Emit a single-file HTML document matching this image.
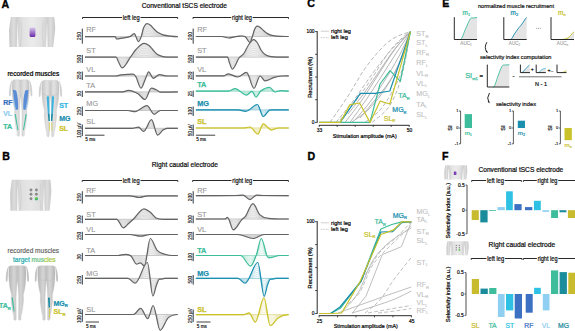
<!DOCTYPE html><html><head><meta charset="utf-8"><style>html,body{margin:0;padding:0;background:#fff;overflow:hidden}svg{display:block}</style></head><body>
<svg width="575" height="331" viewBox="0 0 575 331" font-family="Liberation Sans, sans-serif">
<defs><linearGradient id="bodyg" x1="0" y1="0" x2="1" y2="0"><stop offset="0" stop-color="#cfcfcf"/><stop offset="0.5" stop-color="#ececec"/><stop offset="1" stop-color="#cfcfcf"/></linearGradient><linearGradient id="purp" x1="0" y1="0" x2="0" y2="1"><stop offset="0" stop-color="#d8c8ec"/><stop offset="1" stop-color="#6a2aa8"/></linearGradient><linearGradient id="legg" x1="0" y1="0" x2="1" y2="0"><stop offset="0" stop-color="#c4c4c4"/><stop offset="0.3" stop-color="#e2e2e2"/><stop offset="0.5" stop-color="#cccccc"/><stop offset="0.7" stop-color="#e2e2e2"/><stop offset="1" stop-color="#c4c4c4"/></linearGradient><linearGradient id="legg2" x1="0" y1="0" x2="1" y2="0"><stop offset="0" stop-color="#b4b4b4"/><stop offset="0.3" stop-color="#d6d6d6"/><stop offset="0.5" stop-color="#c0c0c0"/><stop offset="0.7" stop-color="#d6d6d6"/><stop offset="1" stop-color="#b4b4b4"/></linearGradient><linearGradient id="torsog" x1="0" y1="0" x2="1" y2="0"><stop offset="0" stop-color="#c6c6c6"/><stop offset="0.1" stop-color="#dedede"/><stop offset="0.16" stop-color="#cfcfcf"/><stop offset="0.3" stop-color="#e2e2e2"/><stop offset="0.5" stop-color="#ebebeb"/><stop offset="0.7" stop-color="#e2e2e2"/><stop offset="0.84" stop-color="#cfcfcf"/><stop offset="0.9" stop-color="#dedede"/><stop offset="1" stop-color="#c6c6c6"/></linearGradient><linearGradient id="torsog2" x1="0" y1="0" x2="1" y2="0"><stop offset="0" stop-color="#c8c8c8"/><stop offset="0.1" stop-color="#dddddd"/><stop offset="0.16" stop-color="#d0d0d0"/><stop offset="0.3" stop-color="#e0e0e0"/><stop offset="0.5" stop-color="#e6e6e6"/><stop offset="0.7" stop-color="#e0e0e0"/><stop offset="0.84" stop-color="#d0d0d0"/><stop offset="0.9" stop-color="#dddddd"/><stop offset="1" stop-color="#c8c8c8"/></linearGradient></defs>
<text x="1.40" y="7.50" font-size="10.60" fill="#000" text-anchor="start" font-weight="bold"  stroke="#000" stroke-width="0.36">A</text>
<text x="2.30" y="159.70" font-size="10.60" fill="#000" text-anchor="start" font-weight="bold"  stroke="#000" stroke-width="0.36">B</text>
<text x="307.20" y="7.40" font-size="10.60" fill="#000" text-anchor="start" font-weight="bold"  stroke="#000" stroke-width="0.36">C</text>
<text x="307.40" y="159.70" font-size="10.60" fill="#000" text-anchor="start" font-weight="bold"  stroke="#000" stroke-width="0.36">D</text>
<text x="442.20" y="7.40" font-size="10.60" fill="#000" text-anchor="start" font-weight="bold"  stroke="#000" stroke-width="0.36">E</text>
<text x="441.90" y="159.70" font-size="10.60" fill="#000" text-anchor="start" font-weight="bold"  stroke="#000" stroke-width="0.36">F</text>
<text x="184.35" y="7.50" font-size="7.10" fill="#111" text-anchor="middle" font-weight="normal" textLength="85.3" lengthAdjust="spacingAndGlyphs" stroke="#111" stroke-width="0.24">Conventional tSCS electrode</text>
<text x="184.85" y="167.40" font-size="7.10" fill="#111" text-anchor="middle" font-weight="normal" textLength="66.1" lengthAdjust="spacingAndGlyphs" stroke="#111" stroke-width="0.24">Right caudal electrode</text>
<path d="M85.00,36.60 C95.07,36.60 105.13,36.60 115.20,36.60 C115.63,36.60 116.07,39.00 116.50,39.00 C118.33,39.00 120.17,38.54 122.00,38.20 C124.80,37.68 127.60,37.46 130.40,36.40 C131.67,35.92 132.93,33.60 134.20,33.60 C135.63,33.60 137.07,41.70 138.50,41.70 C139.43,41.70 140.37,39.06 141.30,36.50 C142.03,34.49 142.77,29.66 143.50,28.00 C144.67,25.36 145.83,23.60 147.00,23.60 C148.17,23.60 149.33,24.30 150.50,25.20 C151.67,26.10 152.83,27.85 154.00,29.00 C155.33,30.32 156.67,31.73 158.00,32.60 C159.67,33.69 161.33,34.41 163.00,34.90 C165.33,35.58 167.67,35.83 170.00,36.10 C172.60,36.40 175.20,36.60 177.80,36.60 Z" fill="#f2f2f2" stroke="none"/>
<path d="M85.00,36.60 C95.07,36.60 105.13,36.60 115.20,36.60 C115.63,36.60 116.07,36.91 116.50,36.91 C118.33,36.91 120.17,36.85 122.00,36.81 C124.80,36.74 127.60,36.71 130.40,36.57 C131.67,36.51 132.93,36.21 134.20,36.21 C135.63,36.21 137.07,37.26 138.50,37.26 C139.43,37.26 140.37,36.92 141.30,36.59 C142.03,36.33 142.77,35.70 143.50,35.48 C144.67,35.14 145.83,34.91 147.00,34.91 C148.17,34.91 149.33,35.00 150.50,35.12 C151.67,35.23 152.83,35.46 154.00,35.61 C155.33,35.78 156.67,35.97 158.00,36.08 C159.67,36.22 161.33,36.32 163.00,36.38 C165.33,36.47 167.67,36.50 170.00,36.54 C172.60,36.57 175.20,36.60 177.80,36.60" fill="none" stroke="#c8c8c8" stroke-width="0.5"/>
<path d="M85.00,36.60 C95.07,36.60 105.13,36.60 115.20,36.60 C115.63,36.60 116.07,37.22 116.50,37.22 C118.33,37.22 120.17,37.11 122.00,37.02 C124.80,36.88 127.60,36.82 130.40,36.55 C131.67,36.42 132.93,35.82 134.20,35.82 C135.63,35.82 137.07,37.93 138.50,37.93 C139.43,37.93 140.37,37.24 141.30,36.57 C142.03,36.05 142.77,34.80 143.50,34.36 C144.67,33.68 145.83,33.22 147.00,33.22 C148.17,33.22 149.33,33.40 150.50,33.64 C151.67,33.87 152.83,34.32 154.00,34.62 C155.33,34.97 156.67,35.33 158.00,35.56 C159.67,35.84 161.33,36.03 163.00,36.16 C165.33,36.33 167.67,36.40 170.00,36.47 C172.60,36.55 175.20,36.60 177.80,36.60" fill="none" stroke="#c8c8c8" stroke-width="0.5"/>
<path d="M85.00,36.60 C95.07,36.60 105.13,36.60 115.20,36.60 C115.63,36.60 116.07,37.54 116.50,37.54 C118.33,37.54 120.17,37.36 122.00,37.22 C124.80,37.02 127.60,36.93 130.40,36.52 C131.67,36.34 132.93,35.43 134.20,35.43 C135.63,35.43 137.07,38.59 138.50,38.59 C139.43,38.59 140.37,37.56 141.30,36.56 C142.03,35.78 142.77,33.89 143.50,33.25 C144.67,32.22 145.83,31.53 147.00,31.53 C148.17,31.53 149.33,31.80 150.50,32.15 C151.67,32.51 152.83,33.19 154.00,33.64 C155.33,34.15 156.67,34.70 158.00,35.04 C159.67,35.47 161.33,35.75 163.00,35.94 C165.33,36.20 167.67,36.30 170.00,36.41 C172.60,36.52 175.20,36.60 177.80,36.60" fill="none" stroke="#c8c8c8" stroke-width="0.5"/>
<path d="M85.00,36.60 C95.07,36.60 105.13,36.60 115.20,36.60 C115.63,36.60 116.07,37.85 116.50,37.85 C118.33,37.85 120.17,37.61 122.00,37.43 C124.80,37.16 127.60,37.04 130.40,36.50 C131.67,36.25 132.93,35.04 134.20,35.04 C135.63,35.04 137.07,39.25 138.50,39.25 C139.43,39.25 140.37,37.88 141.30,36.55 C142.03,35.50 142.77,32.99 143.50,32.13 C144.67,30.76 145.83,29.84 147.00,29.84 C148.17,29.84 149.33,30.20 150.50,30.67 C151.67,31.14 152.83,32.05 154.00,32.65 C155.33,33.33 156.67,34.07 158.00,34.52 C159.67,35.09 161.33,35.46 163.00,35.72 C165.33,36.07 167.67,36.20 170.00,36.34 C172.60,36.50 175.20,36.60 177.80,36.60" fill="none" stroke="#c8c8c8" stroke-width="0.5"/>
<path d="M85.00,36.60 C95.07,36.60 105.13,36.60 115.20,36.60 C115.63,36.60 116.07,38.16 116.50,38.16 C118.33,38.16 120.17,37.86 122.00,37.64 C124.80,37.30 127.60,37.16 130.40,36.47 C131.67,36.16 132.93,34.65 134.20,34.65 C135.63,34.65 137.07,39.91 138.50,39.91 C139.43,39.91 140.37,38.20 141.30,36.54 C142.03,35.23 142.77,32.09 143.50,31.01 C144.67,29.29 145.83,28.15 147.00,28.15 C148.17,28.15 149.33,28.60 150.50,29.19 C151.67,29.77 152.83,30.91 154.00,31.66 C155.33,32.52 156.67,33.43 158.00,34.00 C159.67,34.71 161.33,35.18 163.00,35.49 C165.33,35.94 167.67,36.10 170.00,36.27 C172.60,36.47 175.20,36.60 177.80,36.60" fill="none" stroke="#c8c8c8" stroke-width="0.5"/>
<path d="M85.00,36.60 C95.07,36.60 105.13,36.60 115.20,36.60 C115.63,36.60 116.07,38.47 116.50,38.47 C118.33,38.47 120.17,38.12 122.00,37.85 C124.80,37.44 127.60,37.27 130.40,36.44 C131.67,36.07 132.93,34.26 134.20,34.26 C135.63,34.26 137.07,40.58 138.50,40.58 C139.43,40.58 140.37,38.52 141.30,36.52 C142.03,34.95 142.77,31.19 143.50,29.89 C144.67,27.83 145.83,26.46 147.00,26.46 C148.17,26.46 149.33,27.01 150.50,27.71 C151.67,28.41 152.83,29.77 154.00,30.67 C155.33,31.70 156.67,32.80 158.00,33.48 C159.67,34.33 161.33,34.89 163.00,35.27 C165.33,35.80 167.67,36.00 170.00,36.21 C172.60,36.44 175.20,36.60 177.80,36.60" fill="none" stroke="#c8c8c8" stroke-width="0.5"/>
<path d="M85.00,36.60 C95.07,36.60 105.13,36.60 115.20,36.60 C115.63,36.60 116.07,38.78 116.50,38.78 C118.33,38.78 120.17,38.37 122.00,38.06 C124.80,37.58 127.60,37.38 130.40,36.42 C131.67,35.98 132.93,33.87 134.20,33.87 C135.63,33.87 137.07,41.24 138.50,41.24 C139.43,41.24 140.37,38.84 141.30,36.51 C142.03,34.68 142.77,30.28 143.50,28.77 C144.67,26.37 145.83,24.77 147.00,24.77 C148.17,24.77 149.33,25.41 150.50,26.23 C151.67,27.04 152.83,28.64 154.00,29.68 C155.33,30.88 156.67,32.16 158.00,32.96 C159.67,33.95 161.33,34.61 163.00,35.05 C165.33,35.67 167.67,35.90 170.00,36.15 C172.60,36.42 175.20,36.60 177.80,36.60" fill="none" stroke="#c8c8c8" stroke-width="0.5"/>
<line x1="85.00" y1="36.60" x2="177.80" y2="36.60" stroke="#c8c8c8" stroke-width="1.00" />
<path d="M85.00,36.60 C95.07,36.60 105.13,36.60 115.20,36.60 C115.63,36.60 116.07,39.00 116.50,39.00 C118.33,39.00 120.17,38.54 122.00,38.20 C124.80,37.68 127.60,37.46 130.40,36.40 C131.67,35.92 132.93,33.60 134.20,33.60 C135.63,33.60 137.07,41.70 138.50,41.70 C139.43,41.70 140.37,39.06 141.30,36.50 C142.03,34.49 142.77,29.66 143.50,28.00 C144.67,25.36 145.83,23.60 147.00,23.60 C148.17,23.60 149.33,24.30 150.50,25.20 C151.67,26.10 152.83,27.85 154.00,29.00 C155.33,30.32 156.67,31.73 158.00,32.60 C159.67,33.69 161.33,34.41 163.00,34.90 C165.33,35.58 167.67,35.83 170.00,36.10 C172.60,36.40 175.20,36.60 177.80,36.60" fill="none" stroke="#636363" stroke-width="1.20" stroke-linejoin="round"/>
<text x="86.30" y="32.30" font-size="7.30" fill="#9a9a9a" text-anchor="start" font-weight="normal"  stroke="#9a9a9a" stroke-width="0.13">RF</text>
<line x1="82.30" y1="28.60" x2="82.30" y2="43.70" stroke="#222" stroke-width="0.90" />
<text x="80.60" y="35.95" font-size="4.70" fill="#222" text-anchor="middle" font-weight="normal" transform="rotate(-90 80.70 35.95)" stroke="#222" stroke-width="0.16">250</text>
<path d="M85.00,57.20 C95.37,57.20 105.73,57.20 116.10,57.20 C116.90,57.20 117.70,60.60 118.50,62.00 C119.73,64.16 120.97,67.90 122.20,67.90 C123.30,67.90 124.40,66.44 125.50,65.00 C127.13,62.87 128.77,59.61 130.40,57.20 C132.27,54.44 134.13,51.39 136.00,49.50 C138.67,46.79 141.33,43.40 144.00,43.40 C145.67,43.40 147.33,44.28 149.00,45.50 C150.33,46.48 151.67,48.59 153.00,50.00 C154.53,51.62 156.07,53.59 157.60,54.60 C159.40,55.79 161.20,56.22 163.00,56.60 C165.33,57.09 167.67,57.20 170.00,57.20 C172.60,57.20 175.20,57.20 177.80,57.20 Z" fill="#f2f2f2" stroke="none"/>
<path d="M85.00,57.20 C95.37,57.20 105.73,57.20 116.10,57.20 C116.90,57.20 117.70,57.64 118.50,57.82 C119.73,58.11 120.97,58.59 122.20,58.59 C123.30,58.59 124.40,58.40 125.50,58.21 C127.13,57.94 128.77,57.51 130.40,57.20 C132.27,56.84 134.13,56.45 136.00,56.20 C138.67,55.85 141.33,55.41 144.00,55.41 C145.67,55.41 147.33,55.52 149.00,55.68 C150.33,55.81 151.67,56.08 153.00,56.26 C154.53,56.47 156.07,56.73 157.60,56.86 C159.40,57.02 161.20,57.07 163.00,57.12 C165.33,57.19 167.67,57.20 170.00,57.20 C172.60,57.20 175.20,57.20 177.80,57.20" fill="none" stroke="#c8c8c8" stroke-width="0.5"/>
<path d="M85.00,57.20 C95.37,57.20 105.73,57.20 116.10,57.20 C116.90,57.20 117.70,58.08 118.50,58.45 C119.73,59.01 120.97,59.98 122.20,59.98 C123.30,59.98 124.40,59.60 125.50,59.23 C127.13,58.67 128.77,57.83 130.40,57.20 C132.27,56.48 134.13,55.69 136.00,55.20 C138.67,54.49 141.33,53.61 144.00,53.61 C145.67,53.61 147.33,53.84 149.00,54.16 C150.33,54.41 151.67,54.96 153.00,55.33 C154.53,55.75 156.07,56.26 157.60,56.52 C159.40,56.83 161.20,56.95 163.00,57.04 C165.33,57.17 167.67,57.20 170.00,57.20 C172.60,57.20 175.20,57.20 177.80,57.20" fill="none" stroke="#c8c8c8" stroke-width="0.5"/>
<path d="M85.00,57.20 C95.37,57.20 105.73,57.20 116.10,57.20 C116.90,57.20 117.70,58.52 118.50,59.07 C119.73,59.92 120.97,61.37 122.20,61.37 C123.30,61.37 124.40,60.80 125.50,60.24 C127.13,59.41 128.77,58.14 130.40,57.20 C132.27,56.13 134.13,54.94 136.00,54.20 C138.67,53.14 141.33,51.82 144.00,51.82 C145.67,51.82 147.33,52.16 149.00,52.64 C150.33,53.02 151.67,53.84 153.00,54.39 C154.53,55.02 156.07,55.79 157.60,56.19 C159.40,56.65 161.20,56.82 163.00,56.97 C165.33,57.16 167.67,57.20 170.00,57.20 C172.60,57.20 175.20,57.20 177.80,57.20" fill="none" stroke="#c8c8c8" stroke-width="0.5"/>
<path d="M85.00,57.20 C95.37,57.20 105.73,57.20 116.10,57.20 C116.90,57.20 117.70,58.97 118.50,59.70 C119.73,60.82 120.97,62.76 122.20,62.76 C123.30,62.76 124.40,62.00 125.50,61.26 C127.13,60.15 128.77,58.45 130.40,57.20 C132.27,55.77 134.13,54.18 136.00,53.20 C138.67,51.79 141.33,50.02 144.00,50.02 C145.67,50.02 147.33,50.48 149.00,51.12 C150.33,51.62 151.67,52.72 153.00,53.46 C154.53,54.30 156.07,55.32 157.60,55.85 C159.40,56.47 161.20,56.69 163.00,56.89 C165.33,57.14 167.67,57.20 170.00,57.20 C172.60,57.20 175.20,57.20 177.80,57.20" fill="none" stroke="#c8c8c8" stroke-width="0.5"/>
<path d="M85.00,57.20 C95.37,57.20 105.73,57.20 116.10,57.20 C116.90,57.20 117.70,59.41 118.50,60.32 C119.73,61.73 120.97,64.16 122.20,64.16 C123.30,64.16 124.40,63.20 125.50,62.27 C127.13,60.88 128.77,58.77 130.40,57.20 C132.27,55.41 134.13,53.43 136.00,52.20 C138.67,50.44 141.33,48.23 144.00,48.23 C145.67,48.23 147.33,48.80 149.00,49.59 C150.33,50.23 151.67,51.60 153.00,52.52 C154.53,53.57 156.07,54.85 157.60,55.51 C159.40,56.28 161.20,56.56 163.00,56.81 C165.33,57.13 167.67,57.20 170.00,57.20 C172.60,57.20 175.20,57.20 177.80,57.20" fill="none" stroke="#c8c8c8" stroke-width="0.5"/>
<path d="M85.00,57.20 C95.37,57.20 105.73,57.20 116.10,57.20 C116.90,57.20 117.70,59.85 118.50,60.94 C119.73,62.63 120.97,65.55 122.20,65.55 C123.30,65.55 124.40,64.40 125.50,63.28 C127.13,61.62 128.77,59.08 130.40,57.20 C132.27,55.05 134.13,52.67 136.00,51.19 C138.67,49.08 141.33,46.44 144.00,46.44 C145.67,46.44 147.33,47.12 149.00,48.07 C150.33,48.84 151.67,50.48 153.00,51.58 C154.53,52.85 156.07,54.38 157.60,55.17 C159.40,56.10 161.20,56.44 163.00,56.73 C165.33,57.11 167.67,57.20 170.00,57.20 C172.60,57.20 175.20,57.20 177.80,57.20" fill="none" stroke="#c8c8c8" stroke-width="0.5"/>
<path d="M85.00,57.20 C95.37,57.20 105.73,57.20 116.10,57.20 C116.90,57.20 117.70,60.29 118.50,61.57 C119.73,63.54 120.97,66.94 122.20,66.94 C123.30,66.94 124.40,65.60 125.50,64.30 C127.13,62.36 128.77,59.39 130.40,57.20 C132.27,54.69 134.13,51.92 136.00,50.19 C138.67,47.73 141.33,44.64 144.00,44.64 C145.67,44.64 147.33,45.44 149.00,46.55 C150.33,47.44 151.67,49.36 153.00,50.65 C154.53,52.12 156.07,53.91 157.60,54.83 C159.40,55.92 161.20,56.31 163.00,56.65 C165.33,57.10 167.67,57.20 170.00,57.20 C172.60,57.20 175.20,57.20 177.80,57.20" fill="none" stroke="#c8c8c8" stroke-width="0.5"/>
<line x1="85.00" y1="57.20" x2="177.80" y2="57.20" stroke="#c8c8c8" stroke-width="1.00" />
<path d="M85.00,57.20 C95.37,57.20 105.73,57.20 116.10,57.20 C116.90,57.20 117.70,60.60 118.50,62.00 C119.73,64.16 120.97,67.90 122.20,67.90 C123.30,67.90 124.40,66.44 125.50,65.00 C127.13,62.87 128.77,59.61 130.40,57.20 C132.27,54.44 134.13,51.39 136.00,49.50 C138.67,46.79 141.33,43.40 144.00,43.40 C145.67,43.40 147.33,44.28 149.00,45.50 C150.33,46.48 151.67,48.59 153.00,50.00 C154.53,51.62 156.07,53.59 157.60,54.60 C159.40,55.79 161.20,56.22 163.00,56.60 C165.33,57.09 167.67,57.20 170.00,57.20 C172.60,57.20 175.20,57.20 177.80,57.20" fill="none" stroke="#636363" stroke-width="1.20" stroke-linejoin="round"/>
<text x="86.30" y="52.90" font-size="7.30" fill="#9a9a9a" text-anchor="start" font-weight="normal"  stroke="#9a9a9a" stroke-width="0.13">ST</text>
<line x1="82.30" y1="54.90" x2="82.30" y2="63.00" stroke="#222" stroke-width="0.90" />
<text x="80.60" y="58.75" font-size="4.70" fill="#222" text-anchor="middle" font-weight="normal" transform="rotate(-90 80.70 58.75)" stroke="#222" stroke-width="0.16">500</text>
<path d="M85.00,76.00 C95.33,76.00 105.67,76.00 116.00,76.00 C117.67,76.00 119.33,75.08 121.00,74.90 C125.03,74.48 129.07,74.20 133.10,74.20 C134.07,74.20 135.03,75.29 136.00,77.00 C137.67,79.95 139.33,88.20 141.00,88.20 C142.33,88.20 143.67,82.82 145.00,80.00 C146.23,77.39 147.47,71.90 148.70,71.90 C150.20,71.90 151.70,78.30 153.20,78.30 C155.23,78.30 157.27,74.60 159.30,74.60 C161.93,74.60 164.57,76.00 167.20,76.00 C170.73,76.00 174.27,76.00 177.80,76.00 Z" fill="#f2f2f2" stroke="none"/>
<path d="M85.00,76.00 C95.33,76.00 105.67,76.00 116.00,76.00 C117.67,76.00 119.33,75.88 121.00,75.86 C125.03,75.80 129.07,75.77 133.10,75.77 C134.07,75.77 135.03,75.91 136.00,76.13 C137.67,76.51 139.33,77.59 141.00,77.59 C142.33,77.59 143.67,76.89 145.00,76.52 C146.23,76.18 147.47,75.47 148.70,75.47 C150.20,75.47 151.70,76.30 153.20,76.30 C155.23,76.30 157.27,75.82 159.30,75.82 C161.93,75.82 164.57,76.00 167.20,76.00 C170.73,76.00 174.27,76.00 177.80,76.00" fill="none" stroke="#c8c8c8" stroke-width="0.5"/>
<path d="M85.00,76.00 C95.33,76.00 105.67,76.00 116.00,76.00 C117.67,76.00 119.33,75.76 121.00,75.71 C125.03,75.60 129.07,75.53 133.10,75.53 C134.07,75.53 135.03,75.81 136.00,76.26 C137.67,77.03 139.33,79.17 141.00,79.17 C142.33,79.17 143.67,77.77 145.00,77.04 C146.23,76.36 147.47,74.93 148.70,74.93 C150.20,74.93 151.70,76.60 153.20,76.60 C155.23,76.60 157.27,75.64 159.30,75.64 C161.93,75.64 164.57,76.00 167.20,76.00 C170.73,76.00 174.27,76.00 177.80,76.00" fill="none" stroke="#c8c8c8" stroke-width="0.5"/>
<path d="M85.00,76.00 C95.33,76.00 105.67,76.00 116.00,76.00 C117.67,76.00 119.33,75.64 121.00,75.57 C125.03,75.41 129.07,75.30 133.10,75.30 C134.07,75.30 135.03,75.72 136.00,76.39 C137.67,77.54 139.33,80.76 141.00,80.76 C142.33,80.76 143.67,78.66 145.00,77.56 C146.23,76.54 147.47,74.40 148.70,74.40 C150.20,74.40 151.70,76.90 153.20,76.90 C155.23,76.90 157.27,75.45 159.30,75.45 C161.93,75.45 164.57,76.00 167.20,76.00 C170.73,76.00 174.27,76.00 177.80,76.00" fill="none" stroke="#c8c8c8" stroke-width="0.5"/>
<path d="M85.00,76.00 C95.33,76.00 105.67,76.00 116.00,76.00 C117.67,76.00 119.33,75.52 121.00,75.43 C125.03,75.21 129.07,75.06 133.10,75.06 C134.07,75.06 135.03,75.63 136.00,76.52 C137.67,78.06 139.33,82.34 141.00,82.34 C142.33,82.34 143.67,79.55 145.00,78.08 C146.23,76.72 147.47,73.87 148.70,73.87 C150.20,73.87 151.70,77.20 153.20,77.20 C155.23,77.20 157.27,75.27 159.30,75.27 C161.93,75.27 164.57,76.00 167.20,76.00 C170.73,76.00 174.27,76.00 177.80,76.00" fill="none" stroke="#c8c8c8" stroke-width="0.5"/>
<path d="M85.00,76.00 C95.33,76.00 105.67,76.00 116.00,76.00 C117.67,76.00 119.33,75.40 121.00,75.28 C125.03,75.01 129.07,74.83 133.10,74.83 C134.07,74.83 135.03,75.54 136.00,76.65 C137.67,78.57 139.33,83.93 141.00,83.93 C142.33,83.93 143.67,80.43 145.00,78.60 C146.23,76.90 147.47,73.34 148.70,73.34 C150.20,73.34 151.70,77.50 153.20,77.50 C155.23,77.50 157.27,75.09 159.30,75.09 C161.93,75.09 164.57,76.00 167.20,76.00 C170.73,76.00 174.27,76.00 177.80,76.00" fill="none" stroke="#c8c8c8" stroke-width="0.5"/>
<path d="M85.00,76.00 C95.33,76.00 105.67,76.00 116.00,76.00 C117.67,76.00 119.33,75.28 121.00,75.14 C125.03,74.81 129.07,74.60 133.10,74.60 C134.07,74.60 135.03,75.44 136.00,76.78 C137.67,79.08 139.33,85.52 141.00,85.52 C142.33,85.52 143.67,81.32 145.00,79.12 C146.23,77.08 147.47,72.80 148.70,72.80 C150.20,72.80 151.70,77.79 153.20,77.79 C155.23,77.79 157.27,74.91 159.30,74.91 C161.93,74.91 164.57,76.00 167.20,76.00 C170.73,76.00 174.27,76.00 177.80,76.00" fill="none" stroke="#c8c8c8" stroke-width="0.5"/>
<path d="M85.00,76.00 C95.33,76.00 105.67,76.00 116.00,76.00 C117.67,76.00 119.33,75.16 121.00,75.00 C125.03,74.61 129.07,74.36 133.10,74.36 C134.07,74.36 135.03,75.35 136.00,76.91 C137.67,79.60 139.33,87.10 141.00,87.10 C142.33,87.10 143.67,82.21 145.00,79.64 C146.23,77.26 147.47,72.27 148.70,72.27 C150.20,72.27 151.70,78.09 153.20,78.09 C155.23,78.09 157.27,74.73 159.30,74.73 C161.93,74.73 164.57,76.00 167.20,76.00 C170.73,76.00 174.27,76.00 177.80,76.00" fill="none" stroke="#c8c8c8" stroke-width="0.5"/>
<line x1="85.00" y1="76.00" x2="177.80" y2="76.00" stroke="#c8c8c8" stroke-width="1.00" />
<path d="M85.00,76.00 C95.33,76.00 105.67,76.00 116.00,76.00 C117.67,76.00 119.33,75.08 121.00,74.90 C125.03,74.48 129.07,74.20 133.10,74.20 C134.07,74.20 135.03,75.29 136.00,77.00 C137.67,79.95 139.33,88.20 141.00,88.20 C142.33,88.20 143.67,82.82 145.00,80.00 C146.23,77.39 147.47,71.90 148.70,71.90 C150.20,71.90 151.70,78.30 153.20,78.30 C155.23,78.30 157.27,74.60 159.30,74.60 C161.93,74.60 164.57,76.00 167.20,76.00 C170.73,76.00 174.27,76.00 177.80,76.00" fill="none" stroke="#636363" stroke-width="1.20" stroke-linejoin="round"/>
<text x="86.30" y="71.70" font-size="7.30" fill="#9a9a9a" text-anchor="start" font-weight="normal"  stroke="#9a9a9a" stroke-width="0.13">VL</text>
<line x1="82.30" y1="71.50" x2="82.30" y2="80.00" stroke="#222" stroke-width="0.90" />
<text x="80.60" y="75.55" font-size="4.70" fill="#222" text-anchor="middle" font-weight="normal" transform="rotate(-90 80.70 75.55)" stroke="#222" stroke-width="0.16">250</text>
<path d="M85.00,91.90 C97.67,91.90 110.33,91.90 123.00,91.90 C124.77,91.90 126.53,90.40 128.30,90.40 C131.53,90.40 134.77,92.04 138.00,93.80 C140.33,95.07 142.67,99.50 145.00,99.50 C147.13,99.50 149.27,88.20 151.40,88.20 C153.03,88.20 154.67,89.12 156.30,89.80 C157.87,90.45 159.43,92.20 161.00,92.20 C166.60,92.20 172.20,91.90 177.80,91.90 Z" fill="#f2f2f2" stroke="none"/>
<path d="M85.00,91.90 C97.67,91.90 110.33,91.90 123.00,91.90 C124.77,91.90 126.53,91.71 128.30,91.71 C131.53,91.71 134.77,91.92 138.00,92.15 C140.33,92.31 142.67,92.89 145.00,92.89 C147.13,92.89 149.27,91.42 151.40,91.42 C153.03,91.42 154.67,91.54 156.30,91.63 C157.87,91.71 159.43,91.94 161.00,91.94 C166.60,91.94 172.20,91.90 177.80,91.90" fill="none" stroke="#c8c8c8" stroke-width="0.5"/>
<path d="M85.00,91.90 C97.67,91.90 110.33,91.90 123.00,91.90 C124.77,91.90 126.53,91.51 128.30,91.51 C131.53,91.51 134.77,91.94 138.00,92.39 C140.33,92.72 142.67,93.88 145.00,93.88 C147.13,93.88 149.27,90.94 151.40,90.94 C153.03,90.94 154.67,91.18 156.30,91.35 C157.87,91.52 159.43,91.98 161.00,91.98 C166.60,91.98 172.20,91.90 177.80,91.90" fill="none" stroke="#c8c8c8" stroke-width="0.5"/>
<path d="M85.00,91.90 C97.67,91.90 110.33,91.90 123.00,91.90 C124.77,91.90 126.53,91.32 128.30,91.32 C131.53,91.32 134.77,91.95 138.00,92.64 C140.33,93.14 142.67,94.86 145.00,94.86 C147.13,94.86 149.27,90.46 151.40,90.46 C153.03,90.46 154.67,90.82 156.30,91.08 C157.87,91.34 159.43,92.02 161.00,92.02 C166.60,92.02 172.20,91.90 177.80,91.90" fill="none" stroke="#c8c8c8" stroke-width="0.5"/>
<path d="M85.00,91.90 C97.67,91.90 110.33,91.90 123.00,91.90 C124.77,91.90 126.53,91.12 128.30,91.12 C131.53,91.12 134.77,91.97 138.00,92.89 C140.33,93.55 142.67,95.85 145.00,95.85 C147.13,95.85 149.27,89.98 151.40,89.98 C153.03,89.98 154.67,90.45 156.30,90.81 C157.87,91.15 159.43,92.06 161.00,92.06 C166.60,92.06 172.20,91.90 177.80,91.90" fill="none" stroke="#c8c8c8" stroke-width="0.5"/>
<path d="M85.00,91.90 C97.67,91.90 110.33,91.90 123.00,91.90 C124.77,91.90 126.53,90.93 128.30,90.93 C131.53,90.93 134.77,91.99 138.00,93.14 C140.33,93.96 142.67,96.84 145.00,96.84 C147.13,96.84 149.27,89.50 151.40,89.50 C153.03,89.50 154.67,90.09 156.30,90.53 C157.87,90.96 159.43,92.09 161.00,92.09 C166.60,92.09 172.20,91.90 177.80,91.90" fill="none" stroke="#c8c8c8" stroke-width="0.5"/>
<path d="M85.00,91.90 C97.67,91.90 110.33,91.90 123.00,91.90 C124.77,91.90 126.53,90.73 128.30,90.73 C131.53,90.73 134.77,92.01 138.00,93.38 C140.33,94.37 142.67,97.83 145.00,97.83 C147.13,97.83 149.27,89.01 151.40,89.01 C153.03,89.01 154.67,89.73 156.30,90.26 C157.87,90.77 159.43,92.13 161.00,92.13 C166.60,92.13 172.20,91.90 177.80,91.90" fill="none" stroke="#c8c8c8" stroke-width="0.5"/>
<path d="M85.00,91.90 C97.67,91.90 110.33,91.90 123.00,91.90 C124.77,91.90 126.53,90.54 128.30,90.54 C131.53,90.54 134.77,92.03 138.00,93.63 C140.33,94.79 142.67,98.82 145.00,98.82 C147.13,98.82 149.27,88.53 151.40,88.53 C153.03,88.53 154.67,89.37 156.30,89.99 C157.87,90.58 159.43,92.17 161.00,92.17 C166.60,92.17 172.20,91.90 177.80,91.90" fill="none" stroke="#c8c8c8" stroke-width="0.5"/>
<line x1="85.00" y1="91.90" x2="177.80" y2="91.90" stroke="#c8c8c8" stroke-width="1.00" />
<path d="M85.00,91.90 C97.67,91.90 110.33,91.90 123.00,91.90 C124.77,91.90 126.53,90.40 128.30,90.40 C131.53,90.40 134.77,92.04 138.00,93.80 C140.33,95.07 142.67,99.50 145.00,99.50 C147.13,99.50 149.27,88.20 151.40,88.20 C153.03,88.20 154.67,89.12 156.30,89.80 C157.87,90.45 159.43,92.20 161.00,92.20 C166.60,92.20 172.20,91.90 177.80,91.90" fill="none" stroke="#636363" stroke-width="1.20" stroke-linejoin="round"/>
<text x="86.30" y="87.60" font-size="7.30" fill="#9a9a9a" text-anchor="start" font-weight="normal"  stroke="#9a9a9a" stroke-width="0.13">TA</text>
<line x1="82.30" y1="90.60" x2="82.30" y2="97.00" stroke="#222" stroke-width="0.90" />
<text x="80.60" y="93.60" font-size="4.70" fill="#222" text-anchor="middle" font-weight="normal" transform="rotate(-90 80.70 93.60)" stroke="#222" stroke-width="0.16">50</text>
<path d="M85.00,110.50 C99.33,110.50 113.67,110.50 128.00,110.50 C130.37,110.50 132.73,111.60 135.10,111.60 C139.07,111.60 143.03,105.60 147.00,105.60 C149.40,105.60 151.80,114.30 154.20,114.30 C156.23,114.30 158.27,110.50 160.30,110.50 C166.13,110.50 171.97,110.50 177.80,110.50 Z" fill="#f2f2f2" stroke="none"/>
<path d="M85.00,110.50 C99.33,110.50 113.67,110.50 128.00,110.50 C130.37,110.50 132.73,110.64 135.10,110.64 C139.07,110.64 143.03,109.86 147.00,109.86 C149.40,109.86 151.80,110.99 154.20,110.99 C156.23,110.99 158.27,110.50 160.30,110.50 C166.13,110.50 171.97,110.50 177.80,110.50" fill="none" stroke="#c8c8c8" stroke-width="0.5"/>
<path d="M85.00,110.50 C99.33,110.50 113.67,110.50 128.00,110.50 C130.37,110.50 132.73,110.79 135.10,110.79 C139.07,110.79 143.03,109.23 147.00,109.23 C149.40,109.23 151.80,111.49 154.20,111.49 C156.23,111.49 158.27,110.50 160.30,110.50 C166.13,110.50 171.97,110.50 177.80,110.50" fill="none" stroke="#c8c8c8" stroke-width="0.5"/>
<path d="M85.00,110.50 C99.33,110.50 113.67,110.50 128.00,110.50 C130.37,110.50 132.73,110.93 135.10,110.93 C139.07,110.93 143.03,108.59 147.00,108.59 C149.40,108.59 151.80,111.98 154.20,111.98 C156.23,111.98 158.27,110.50 160.30,110.50 C166.13,110.50 171.97,110.50 177.80,110.50" fill="none" stroke="#c8c8c8" stroke-width="0.5"/>
<path d="M85.00,110.50 C99.33,110.50 113.67,110.50 128.00,110.50 C130.37,110.50 132.73,111.07 135.10,111.07 C139.07,111.07 143.03,107.95 147.00,107.95 C149.40,107.95 151.80,112.48 154.20,112.48 C156.23,112.48 158.27,110.50 160.30,110.50 C166.13,110.50 171.97,110.50 177.80,110.50" fill="none" stroke="#c8c8c8" stroke-width="0.5"/>
<path d="M85.00,110.50 C99.33,110.50 113.67,110.50 128.00,110.50 C130.37,110.50 132.73,111.22 135.10,111.22 C139.07,111.22 143.03,107.31 147.00,107.31 C149.40,107.31 151.80,112.97 154.20,112.97 C156.23,112.97 158.27,110.50 160.30,110.50 C166.13,110.50 171.97,110.50 177.80,110.50" fill="none" stroke="#c8c8c8" stroke-width="0.5"/>
<path d="M85.00,110.50 C99.33,110.50 113.67,110.50 128.00,110.50 C130.37,110.50 132.73,111.36 135.10,111.36 C139.07,111.36 143.03,106.68 147.00,106.68 C149.40,106.68 151.80,113.46 154.20,113.46 C156.23,113.46 158.27,110.50 160.30,110.50 C166.13,110.50 171.97,110.50 177.80,110.50" fill="none" stroke="#c8c8c8" stroke-width="0.5"/>
<path d="M85.00,110.50 C99.33,110.50 113.67,110.50 128.00,110.50 C130.37,110.50 132.73,111.50 135.10,111.50 C139.07,111.50 143.03,106.04 147.00,106.04 C149.40,106.04 151.80,113.96 154.20,113.96 C156.23,113.96 158.27,110.50 160.30,110.50 C166.13,110.50 171.97,110.50 177.80,110.50" fill="none" stroke="#c8c8c8" stroke-width="0.5"/>
<line x1="85.00" y1="110.50" x2="177.80" y2="110.50" stroke="#c8c8c8" stroke-width="1.00" />
<path d="M85.00,110.50 C99.33,110.50 113.67,110.50 128.00,110.50 C130.37,110.50 132.73,111.60 135.10,111.60 C139.07,111.60 143.03,105.60 147.00,105.60 C149.40,105.60 151.80,114.30 154.20,114.30 C156.23,114.30 158.27,110.50 160.30,110.50 C166.13,110.50 171.97,110.50 177.80,110.50" fill="none" stroke="#636363" stroke-width="1.20" stroke-linejoin="round"/>
<text x="86.30" y="106.20" font-size="7.30" fill="#9a9a9a" text-anchor="start" font-weight="normal"  stroke="#9a9a9a" stroke-width="0.13">MG</text>
<line x1="82.30" y1="106.50" x2="82.30" y2="116.00" stroke="#222" stroke-width="0.90" />
<text x="80.60" y="111.05" font-size="4.70" fill="#222" text-anchor="middle" font-weight="normal" transform="rotate(-90 80.70 111.05)" stroke="#222" stroke-width="0.16">250</text>
<path d="M85.00,128.30 C100.67,128.30 116.33,128.30 132.00,128.30 C134.17,128.30 136.33,127.20 138.50,127.20 C140.23,127.20 141.97,131.40 143.70,131.40 C146.30,131.40 148.90,119.70 151.50,119.70 C153.53,119.70 155.57,135.10 157.60,135.10 C159.40,135.10 161.20,131.29 163.00,130.00 C164.37,129.02 165.73,128.30 167.10,128.30 C170.67,128.30 174.23,128.30 177.80,128.30 Z" fill="#f2f2f2" stroke="none"/>
<path d="M85.00,128.30 C100.67,128.30 116.33,128.30 132.00,128.30 C134.17,128.30 136.33,128.16 138.50,128.16 C140.23,128.16 141.97,128.70 143.70,128.70 C146.30,128.70 148.90,127.18 151.50,127.18 C153.53,127.18 155.57,129.18 157.60,129.18 C159.40,129.18 161.20,128.69 163.00,128.52 C164.37,128.39 165.73,128.30 167.10,128.30 C170.67,128.30 174.23,128.30 177.80,128.30" fill="none" stroke="#c8c8c8" stroke-width="0.5"/>
<path d="M85.00,128.30 C100.67,128.30 116.33,128.30 132.00,128.30 C134.17,128.30 136.33,128.01 138.50,128.01 C140.23,128.01 141.97,129.11 143.70,129.11 C146.30,129.11 148.90,126.06 151.50,126.06 C153.53,126.06 155.57,130.07 157.60,130.07 C159.40,130.07 161.20,129.08 163.00,128.74 C164.37,128.49 165.73,128.30 167.10,128.30 C170.67,128.30 174.23,128.30 177.80,128.30" fill="none" stroke="#c8c8c8" stroke-width="0.5"/>
<path d="M85.00,128.30 C100.67,128.30 116.33,128.30 132.00,128.30 C134.17,128.30 136.33,127.87 138.50,127.87 C140.23,127.87 141.97,129.51 143.70,129.51 C146.30,129.51 148.90,124.95 151.50,124.95 C153.53,124.95 155.57,130.95 157.60,130.95 C159.40,130.95 161.20,129.47 163.00,128.96 C164.37,128.58 165.73,128.30 167.10,128.30 C170.67,128.30 174.23,128.30 177.80,128.30" fill="none" stroke="#c8c8c8" stroke-width="0.5"/>
<path d="M85.00,128.30 C100.67,128.30 116.33,128.30 132.00,128.30 C134.17,128.30 136.33,127.73 138.50,127.73 C140.23,127.73 141.97,129.91 143.70,129.91 C146.30,129.91 148.90,123.83 151.50,123.83 C153.53,123.83 155.57,131.84 157.60,131.84 C159.40,131.84 161.20,129.85 163.00,129.18 C164.37,128.68 165.73,128.30 167.10,128.30 C170.67,128.30 174.23,128.30 177.80,128.30" fill="none" stroke="#c8c8c8" stroke-width="0.5"/>
<path d="M85.00,128.30 C100.67,128.30 116.33,128.30 132.00,128.30 C134.17,128.30 136.33,127.59 138.50,127.59 C140.23,127.59 141.97,130.31 143.70,130.31 C146.30,130.31 148.90,122.71 151.50,122.71 C153.53,122.71 155.57,132.72 157.60,132.72 C159.40,132.72 161.20,130.24 163.00,129.41 C164.37,128.77 165.73,128.30 167.10,128.30 C170.67,128.30 174.23,128.30 177.80,128.30" fill="none" stroke="#c8c8c8" stroke-width="0.5"/>
<path d="M85.00,128.30 C100.67,128.30 116.33,128.30 132.00,128.30 C134.17,128.30 136.33,127.44 138.50,127.44 C140.23,127.44 141.97,130.72 143.70,130.72 C146.30,130.72 148.90,121.59 151.50,121.59 C153.53,121.59 155.57,133.60 157.60,133.60 C159.40,133.60 161.20,130.63 163.00,129.63 C164.37,128.86 165.73,128.30 167.10,128.30 C170.67,128.30 174.23,128.30 177.80,128.30" fill="none" stroke="#c8c8c8" stroke-width="0.5"/>
<path d="M85.00,128.30 C100.67,128.30 116.33,128.30 132.00,128.30 C134.17,128.30 136.33,127.30 138.50,127.30 C140.23,127.30 141.97,131.12 143.70,131.12 C146.30,131.12 148.90,120.47 151.50,120.47 C153.53,120.47 155.57,134.49 157.60,134.49 C159.40,134.49 161.20,131.02 163.00,129.85 C164.37,128.96 165.73,128.30 167.10,128.30 C170.67,128.30 174.23,128.30 177.80,128.30" fill="none" stroke="#c8c8c8" stroke-width="0.5"/>
<line x1="85.00" y1="128.30" x2="177.80" y2="128.30" stroke="#c8c8c8" stroke-width="1.00" />
<path d="M85.00,128.30 C100.67,128.30 116.33,128.30 132.00,128.30 C134.17,128.30 136.33,127.20 138.50,127.20 C140.23,127.20 141.97,131.40 143.70,131.40 C146.30,131.40 148.90,119.70 151.50,119.70 C153.53,119.70 155.57,135.10 157.60,135.10 C159.40,135.10 161.20,131.29 163.00,130.00 C164.37,129.02 165.73,128.30 167.10,128.30 C170.67,128.30 174.23,128.30 177.80,128.30" fill="none" stroke="#636363" stroke-width="1.20" stroke-linejoin="round"/>
<text x="86.30" y="124.00" font-size="7.30" fill="#9a9a9a" text-anchor="start" font-weight="normal"  stroke="#9a9a9a" stroke-width="0.13">SL</text>
<line x1="82.30" y1="124.50" x2="82.30" y2="136.10" stroke="#222" stroke-width="0.90" />
<text x="80.60" y="130.10" font-size="4.70" fill="#222" text-anchor="middle" font-weight="normal" transform="rotate(-90 80.70 130.10)" stroke="#222" stroke-width="0.16">100 µV</text>
<path d="M195.90,36.50 C204.60,36.50 213.30,36.50 222.00,36.50 C224.27,36.50 226.53,38.00 228.80,38.00 C231.77,38.00 234.73,36.30 237.70,36.30 C240.17,36.30 242.63,35.37 245.10,36.60 C246.70,37.40 248.30,42.40 249.90,42.40 C250.77,42.40 251.63,38.43 252.50,36.00 C253.17,34.13 253.83,30.97 254.50,29.50 C255.33,27.67 256.17,26.10 257.00,26.10 C258.00,26.10 259.00,26.62 260.00,27.30 C261.17,28.09 262.33,29.52 263.50,30.50 C264.83,31.62 266.17,32.88 267.50,33.60 C269.33,34.58 271.17,35.19 273.00,35.60 C275.33,36.12 277.67,36.27 280.00,36.40 C282.90,36.57 285.80,36.50 288.70,36.50 Z" fill="#f2f2f2" stroke="none"/>
<path d="M195.90,36.50 C204.60,36.50 213.30,36.50 222.00,36.50 C224.27,36.50 226.53,36.70 228.80,36.70 C231.77,36.70 234.73,36.47 237.70,36.47 C240.17,36.47 242.63,36.35 245.10,36.51 C246.70,36.62 248.30,37.27 249.90,37.27 C250.77,37.27 251.63,36.75 252.50,36.44 C253.17,36.19 253.83,35.78 254.50,35.59 C255.33,35.35 256.17,35.15 257.00,35.15 C258.00,35.15 259.00,35.22 260.00,35.30 C261.17,35.41 262.33,35.59 263.50,35.72 C264.83,35.87 266.17,36.03 267.50,36.12 C269.33,36.25 271.17,36.33 273.00,36.38 C275.33,36.45 277.67,36.47 280.00,36.49 C282.90,36.51 285.80,36.50 288.70,36.50" fill="none" stroke="#c8c8c8" stroke-width="0.5"/>
<path d="M195.90,36.50 C204.60,36.50 213.30,36.50 222.00,36.50 C224.27,36.50 226.53,36.89 228.80,36.89 C231.77,36.89 234.73,36.45 237.70,36.45 C240.17,36.45 242.63,36.21 245.10,36.53 C246.70,36.73 248.30,38.03 249.90,38.03 C250.77,38.03 251.63,37.00 252.50,36.37 C253.17,35.88 253.83,35.06 254.50,34.68 C255.33,34.20 256.17,33.80 257.00,33.80 C258.00,33.80 259.00,33.93 260.00,34.11 C261.17,34.31 262.33,34.69 263.50,34.94 C264.83,35.23 266.17,35.56 267.50,35.75 C269.33,36.00 271.17,36.16 273.00,36.27 C275.33,36.40 277.67,36.44 280.00,36.47 C282.90,36.52 285.80,36.50 288.70,36.50" fill="none" stroke="#c8c8c8" stroke-width="0.5"/>
<path d="M195.90,36.50 C204.60,36.50 213.30,36.50 222.00,36.50 C224.27,36.50 226.53,37.09 228.80,37.09 C231.77,37.09 234.73,36.42 237.70,36.42 C240.17,36.42 242.63,36.06 245.10,36.54 C246.70,36.85 248.30,38.80 249.90,38.80 C250.77,38.80 251.63,37.25 252.50,36.30 C253.17,35.58 253.83,34.34 254.50,33.77 C255.33,33.06 256.17,32.44 257.00,32.44 C258.00,32.44 259.00,32.65 260.00,32.91 C261.17,33.22 262.33,33.78 263.50,34.16 C264.83,34.60 266.17,35.09 267.50,35.37 C269.33,35.75 271.17,35.99 273.00,36.15 C275.33,36.35 277.67,36.41 280.00,36.46 C282.90,36.53 285.80,36.50 288.70,36.50" fill="none" stroke="#c8c8c8" stroke-width="0.5"/>
<path d="M195.90,36.50 C204.60,36.50 213.30,36.50 222.00,36.50 C224.27,36.50 226.53,37.28 228.80,37.28 C231.77,37.28 234.73,36.40 237.70,36.40 C240.17,36.40 242.63,35.91 245.10,36.55 C246.70,36.97 248.30,39.57 249.90,39.57 C250.77,39.57 251.63,37.50 252.50,36.24 C253.17,35.27 253.83,33.62 254.50,32.86 C255.33,31.91 256.17,31.09 257.00,31.09 C258.00,31.09 259.00,31.36 260.00,31.72 C261.17,32.13 262.33,32.87 263.50,33.38 C264.83,33.96 266.17,34.62 267.50,34.99 C269.33,35.50 271.17,35.82 273.00,36.03 C275.33,36.30 277.67,36.38 280.00,36.45 C282.90,36.53 285.80,36.50 288.70,36.50" fill="none" stroke="#c8c8c8" stroke-width="0.5"/>
<path d="M195.90,36.50 C204.60,36.50 213.30,36.50 222.00,36.50 C224.27,36.50 226.53,37.48 228.80,37.48 C231.77,37.48 234.73,36.37 237.70,36.37 C240.17,36.37 242.63,35.76 245.10,36.56 C246.70,37.09 248.30,40.34 249.90,40.34 C250.77,40.34 251.63,37.75 252.50,36.17 C253.17,34.96 253.83,32.90 254.50,31.95 C255.33,30.76 256.17,29.74 257.00,29.74 C258.00,29.74 259.00,30.08 260.00,30.52 C261.17,31.03 262.33,31.96 263.50,32.60 C264.83,33.33 266.17,34.15 267.50,34.62 C269.33,35.25 271.17,35.65 273.00,35.91 C275.33,36.25 277.67,36.35 280.00,36.44 C282.90,36.54 285.80,36.50 288.70,36.50" fill="none" stroke="#c8c8c8" stroke-width="0.5"/>
<path d="M195.90,36.50 C204.60,36.50 213.30,36.50 222.00,36.50 C224.27,36.50 226.53,37.67 228.80,37.67 C231.77,37.67 234.73,36.34 237.70,36.34 C240.17,36.34 242.63,35.62 245.10,36.58 C246.70,37.20 248.30,41.10 249.90,41.10 C250.77,41.10 251.63,38.01 252.50,36.11 C253.17,34.65 253.83,32.18 254.50,31.04 C255.33,29.61 256.17,28.39 257.00,28.39 C258.00,28.39 259.00,28.80 260.00,29.32 C261.17,29.94 262.33,31.06 263.50,31.82 C264.83,32.69 266.17,33.68 267.50,34.24 C269.33,35.01 271.17,35.48 273.00,35.80 C275.33,36.21 277.67,36.32 280.00,36.42 C282.90,36.55 285.80,36.50 288.70,36.50" fill="none" stroke="#c8c8c8" stroke-width="0.5"/>
<path d="M195.90,36.50 C204.60,36.50 213.30,36.50 222.00,36.50 C224.27,36.50 226.53,37.87 228.80,37.87 C231.77,37.87 234.73,36.32 237.70,36.32 C240.17,36.32 242.63,35.47 245.10,36.59 C246.70,37.32 248.30,41.87 249.90,41.87 C250.77,41.87 251.63,38.26 252.50,36.05 C253.17,34.34 253.83,31.46 254.50,30.13 C255.33,28.46 256.17,27.04 257.00,27.04 C258.00,27.04 259.00,27.51 260.00,28.13 C261.17,28.85 262.33,30.15 263.50,31.04 C264.83,32.06 266.17,33.21 267.50,33.86 C269.33,34.76 271.17,35.31 273.00,35.68 C275.33,36.16 277.67,36.29 280.00,36.41 C282.90,36.56 285.80,36.50 288.70,36.50" fill="none" stroke="#c8c8c8" stroke-width="0.5"/>
<line x1="195.90" y1="36.50" x2="288.70" y2="36.50" stroke="#c8c8c8" stroke-width="1.00" />
<path d="M195.90,36.50 C204.60,36.50 213.30,36.50 222.00,36.50 C224.27,36.50 226.53,38.00 228.80,38.00 C231.77,38.00 234.73,36.30 237.70,36.30 C240.17,36.30 242.63,35.37 245.10,36.60 C246.70,37.40 248.30,42.40 249.90,42.40 C250.77,42.40 251.63,38.43 252.50,36.00 C253.17,34.13 253.83,30.97 254.50,29.50 C255.33,27.67 256.17,26.10 257.00,26.10 C258.00,26.10 259.00,26.62 260.00,27.30 C261.17,28.09 262.33,29.52 263.50,30.50 C264.83,31.62 266.17,32.88 267.50,33.60 C269.33,34.58 271.17,35.19 273.00,35.60 C275.33,36.12 277.67,36.27 280.00,36.40 C282.90,36.57 285.80,36.50 288.70,36.50" fill="none" stroke="#636363" stroke-width="1.20" stroke-linejoin="round"/>
<text x="197.20" y="32.20" font-size="7.30" fill="#9a9a9a" text-anchor="start" font-weight="normal"  stroke="#9a9a9a" stroke-width="0.13">RF</text>
<line x1="193.20" y1="28.60" x2="193.20" y2="43.70" stroke="#222" stroke-width="0.90" />
<text x="191.50" y="35.95" font-size="4.70" fill="#222" text-anchor="middle" font-weight="normal" transform="rotate(-90 191.60 35.95)" stroke="#222" stroke-width="0.16">200</text>
<path d="M195.90,57.10 C206.43,57.10 216.97,57.10 227.50,57.10 C228.17,57.10 228.83,61.35 229.50,63.00 C230.47,65.39 231.43,69.20 232.40,69.20 C233.43,69.20 234.47,66.75 235.50,65.00 C236.67,63.02 237.83,59.62 239.00,58.00 C240.60,55.78 242.20,55.69 243.80,53.50 C245.37,51.36 246.93,47.18 248.50,45.00 C250.23,42.58 251.97,39.70 253.70,39.70 C254.97,39.70 256.23,41.21 257.50,43.00 C258.67,44.65 259.83,48.21 261.00,50.00 C262.33,52.04 263.67,53.62 265.00,54.50 C267.00,55.82 269.00,56.38 271.00,56.60 C276.90,57.25 282.80,57.10 288.70,57.10 Z" fill="#f2f2f2" stroke="none"/>
<path d="M195.90,57.10 C206.43,57.10 216.97,57.10 227.50,57.10 C228.17,57.10 228.83,57.65 229.50,57.87 C230.47,58.18 231.43,58.67 232.40,58.67 C233.43,58.67 234.47,58.35 235.50,58.13 C236.67,57.87 237.83,57.43 239.00,57.22 C240.60,56.93 242.20,56.92 243.80,56.63 C245.37,56.35 246.93,55.81 248.50,55.53 C250.23,55.21 251.97,54.84 253.70,54.84 C254.97,54.84 256.23,55.03 257.50,55.27 C258.67,55.48 259.83,55.94 261.00,56.18 C262.33,56.44 263.67,56.65 265.00,56.76 C267.00,56.93 269.00,57.01 271.00,57.04 C276.90,57.12 282.80,57.10 288.70,57.10" fill="none" stroke="#c8c8c8" stroke-width="0.5"/>
<path d="M195.90,57.10 C206.43,57.10 216.97,57.10 227.50,57.10 C228.17,57.10 228.83,58.21 229.50,58.63 C230.47,59.25 231.43,60.25 232.40,60.25 C233.43,60.25 234.47,59.61 235.50,59.15 C236.67,58.64 237.83,57.75 239.00,57.33 C240.60,56.76 242.20,56.73 243.80,56.16 C245.37,55.61 246.93,54.52 248.50,53.95 C250.23,53.33 251.97,52.58 253.70,52.58 C254.97,52.58 256.23,52.97 257.50,53.43 C258.67,53.86 259.83,54.79 261.00,55.25 C262.33,55.79 263.67,56.20 265.00,56.42 C267.00,56.77 269.00,56.91 271.00,56.97 C276.90,57.14 282.80,57.10 288.70,57.10" fill="none" stroke="#c8c8c8" stroke-width="0.5"/>
<path d="M195.90,57.10 C206.43,57.10 216.97,57.10 227.50,57.10 C228.17,57.10 228.83,58.76 229.50,59.40 C230.47,60.33 231.43,61.82 232.40,61.82 C233.43,61.82 234.47,60.86 235.50,60.18 C236.67,59.41 237.83,58.08 239.00,57.45 C240.60,56.59 242.20,56.55 243.80,55.70 C245.37,54.86 246.93,53.23 248.50,52.38 C250.23,51.44 251.97,50.31 253.70,50.31 C254.97,50.31 256.23,50.90 257.50,51.60 C258.67,52.24 259.83,53.63 261.00,54.33 C262.33,55.13 263.67,55.74 265.00,56.09 C267.00,56.60 269.00,56.82 271.00,56.91 C276.90,57.16 282.80,57.10 288.70,57.10" fill="none" stroke="#c8c8c8" stroke-width="0.5"/>
<path d="M195.90,57.10 C206.43,57.10 216.97,57.10 227.50,57.10 C228.17,57.10 228.83,59.31 229.50,60.17 C230.47,61.41 231.43,63.39 232.40,63.39 C233.43,63.39 234.47,62.12 235.50,61.21 C236.67,60.18 237.83,58.41 239.00,57.57 C240.60,56.42 242.20,56.37 243.80,55.23 C245.37,54.11 246.93,51.94 248.50,50.81 C250.23,49.55 251.97,48.05 253.70,48.05 C254.97,48.05 256.23,48.84 257.50,49.77 C258.67,50.62 259.83,52.48 261.00,53.41 C262.33,54.47 263.67,55.29 265.00,55.75 C267.00,56.43 269.00,56.73 271.00,56.84 C276.90,57.18 282.80,57.10 288.70,57.10" fill="none" stroke="#c8c8c8" stroke-width="0.5"/>
<path d="M195.90,57.10 C206.43,57.10 216.97,57.10 227.50,57.10 C228.17,57.10 228.83,59.86 229.50,60.94 C230.47,62.49 231.43,64.97 232.40,64.97 C233.43,64.97 234.47,63.37 235.50,62.23 C236.67,60.95 237.83,58.74 239.00,57.69 C240.60,56.24 242.20,56.18 243.80,54.76 C245.37,53.37 246.93,50.65 248.50,49.23 C250.23,47.66 251.97,45.79 253.70,45.79 C254.97,45.79 256.23,46.77 257.50,47.94 C258.67,49.00 259.83,51.32 261.00,52.48 C262.33,53.81 263.67,54.84 265.00,55.41 C267.00,56.27 269.00,56.63 271.00,56.77 C276.90,57.20 282.80,57.10 288.70,57.10" fill="none" stroke="#c8c8c8" stroke-width="0.5"/>
<path d="M195.90,57.10 C206.43,57.10 216.97,57.10 227.50,57.10 C228.17,57.10 228.83,60.42 229.50,61.70 C230.47,63.56 231.43,66.54 232.40,66.54 C233.43,66.54 234.47,64.63 235.50,63.26 C236.67,61.72 237.83,59.06 239.00,57.80 C240.60,56.07 242.20,56.00 243.80,54.29 C245.37,52.62 246.93,49.37 248.50,47.66 C250.23,45.78 251.97,43.53 253.70,43.53 C254.97,43.53 256.23,44.71 257.50,46.10 C258.67,47.39 259.83,50.17 261.00,51.56 C262.33,53.16 263.67,54.39 265.00,55.07 C267.00,56.10 269.00,56.54 271.00,56.71 C276.90,57.21 282.80,57.10 288.70,57.10" fill="none" stroke="#c8c8c8" stroke-width="0.5"/>
<path d="M195.90,57.10 C206.43,57.10 216.97,57.10 227.50,57.10 C228.17,57.10 228.83,60.97 229.50,62.47 C230.47,64.64 231.43,68.11 232.40,68.11 C233.43,68.11 234.47,65.88 235.50,64.29 C236.67,62.49 237.83,59.39 239.00,57.92 C240.60,55.90 242.20,55.82 243.80,53.82 C245.37,51.87 246.93,48.08 248.50,46.09 C250.23,43.89 251.97,41.27 253.70,41.27 C254.97,41.27 256.23,42.64 257.50,44.27 C258.67,45.77 259.83,49.01 261.00,50.64 C262.33,52.50 263.67,53.93 265.00,54.73 C267.00,55.94 269.00,56.45 271.00,56.65 C276.90,57.23 282.80,57.10 288.70,57.10" fill="none" stroke="#c8c8c8" stroke-width="0.5"/>
<line x1="195.90" y1="57.10" x2="288.70" y2="57.10" stroke="#c8c8c8" stroke-width="1.00" />
<path d="M195.90,57.10 C206.43,57.10 216.97,57.10 227.50,57.10 C228.17,57.10 228.83,61.35 229.50,63.00 C230.47,65.39 231.43,69.20 232.40,69.20 C233.43,69.20 234.47,66.75 235.50,65.00 C236.67,63.02 237.83,59.62 239.00,58.00 C240.60,55.78 242.20,55.69 243.80,53.50 C245.37,51.36 246.93,47.18 248.50,45.00 C250.23,42.58 251.97,39.70 253.70,39.70 C254.97,39.70 256.23,41.21 257.50,43.00 C258.67,44.65 259.83,48.21 261.00,50.00 C262.33,52.04 263.67,53.62 265.00,54.50 C267.00,55.82 269.00,56.38 271.00,56.60 C276.90,57.25 282.80,57.10 288.70,57.10" fill="none" stroke="#636363" stroke-width="1.20" stroke-linejoin="round"/>
<text x="197.20" y="52.80" font-size="7.30" fill="#9a9a9a" text-anchor="start" font-weight="normal"  stroke="#9a9a9a" stroke-width="0.13">ST</text>
<line x1="193.20" y1="54.90" x2="193.20" y2="63.00" stroke="#222" stroke-width="0.90" />
<text x="191.50" y="58.75" font-size="4.70" fill="#222" text-anchor="middle" font-weight="normal" transform="rotate(-90 191.60 58.75)" stroke="#222" stroke-width="0.16">500</text>
<path d="M195.90,75.80 C205.27,75.80 214.63,75.80 224.00,75.80 C225.40,75.80 226.80,73.80 228.20,73.80 C231.37,73.80 234.53,77.00 237.70,77.00 C240.63,77.00 243.57,72.40 246.50,72.40 C249.00,72.40 251.50,88.30 254.00,88.30 C256.03,88.30 258.07,76.00 260.10,76.00 C261.70,76.00 263.30,80.80 264.90,80.80 C268.07,80.80 271.23,78.29 274.40,77.40 C276.93,76.69 279.47,76.28 282.00,76.00 C284.23,75.75 286.47,75.80 288.70,75.80 Z" fill="#f2f2f2" stroke="none"/>
<path d="M195.90,75.80 C205.27,75.80 214.63,75.80 224.00,75.80 C225.40,75.80 226.80,75.54 228.20,75.54 C231.37,75.54 234.53,75.96 237.70,75.96 C240.63,75.96 243.57,75.36 246.50,75.36 C249.00,75.36 251.50,77.42 254.00,77.42 C256.03,77.42 258.07,75.83 260.10,75.83 C261.70,75.83 263.30,76.45 264.90,76.45 C268.07,76.45 271.23,76.12 274.40,76.01 C276.93,75.92 279.47,75.86 282.00,75.83 C284.23,75.79 286.47,75.80 288.70,75.80" fill="none" stroke="#c8c8c8" stroke-width="0.5"/>
<path d="M195.90,75.80 C205.27,75.80 214.63,75.80 224.00,75.80 C225.40,75.80 226.80,75.28 228.20,75.28 C231.37,75.28 234.53,76.11 237.70,76.11 C240.63,76.11 243.57,74.92 246.50,74.92 C249.00,74.92 251.50,79.05 254.00,79.05 C256.03,79.05 258.07,75.85 260.10,75.85 C261.70,75.85 263.30,77.10 264.90,77.10 C268.07,77.10 271.23,76.45 274.40,76.22 C276.93,76.03 279.47,75.93 282.00,75.85 C284.23,75.79 286.47,75.80 288.70,75.80" fill="none" stroke="#c8c8c8" stroke-width="0.5"/>
<path d="M195.90,75.80 C205.27,75.80 214.63,75.80 224.00,75.80 C225.40,75.80 226.80,75.02 228.20,75.02 C231.37,75.02 234.53,76.27 237.70,76.27 C240.63,76.27 243.57,74.47 246.50,74.47 C249.00,74.47 251.50,80.67 254.00,80.67 C256.03,80.67 258.07,75.88 260.10,75.88 C261.70,75.88 263.30,77.75 264.90,77.75 C268.07,77.75 271.23,76.77 274.40,76.42 C276.93,76.15 279.47,75.99 282.00,75.88 C284.23,75.78 286.47,75.80 288.70,75.80" fill="none" stroke="#c8c8c8" stroke-width="0.5"/>
<path d="M195.90,75.80 C205.27,75.80 214.63,75.80 224.00,75.80 C225.40,75.80 226.80,74.76 228.20,74.76 C231.37,74.76 234.53,76.42 237.70,76.42 C240.63,76.42 243.57,74.03 246.50,74.03 C249.00,74.03 251.50,82.30 254.00,82.30 C256.03,82.30 258.07,75.90 260.10,75.90 C261.70,75.90 263.30,78.40 264.90,78.40 C268.07,78.40 271.23,77.09 274.40,76.63 C276.93,76.26 279.47,76.05 282.00,75.90 C284.23,75.77 286.47,75.80 288.70,75.80" fill="none" stroke="#c8c8c8" stroke-width="0.5"/>
<path d="M195.90,75.80 C205.27,75.80 214.63,75.80 224.00,75.80 C225.40,75.80 226.80,74.50 228.20,74.50 C231.37,74.50 234.53,76.58 237.70,76.58 C240.63,76.58 243.57,73.59 246.50,73.59 C249.00,73.59 251.50,83.92 254.00,83.92 C256.03,83.92 258.07,75.93 260.10,75.93 C261.70,75.93 263.30,79.05 264.90,79.05 C268.07,79.05 271.23,77.42 274.40,76.84 C276.93,76.38 279.47,76.11 282.00,75.93 C284.23,75.77 286.47,75.80 288.70,75.80" fill="none" stroke="#c8c8c8" stroke-width="0.5"/>
<path d="M195.90,75.80 C205.27,75.80 214.63,75.80 224.00,75.80 C225.40,75.80 226.80,74.24 228.20,74.24 C231.37,74.24 234.53,76.74 237.70,76.74 C240.63,76.74 243.57,73.15 246.50,73.15 C249.00,73.15 251.50,85.55 254.00,85.55 C256.03,85.55 258.07,75.96 260.10,75.96 C261.70,75.96 263.30,79.70 264.90,79.70 C268.07,79.70 271.23,77.74 274.40,77.05 C276.93,76.49 279.47,76.18 282.00,75.96 C284.23,75.76 286.47,75.80 288.70,75.80" fill="none" stroke="#c8c8c8" stroke-width="0.5"/>
<path d="M195.90,75.80 C205.27,75.80 214.63,75.80 224.00,75.80 C225.40,75.80 226.80,73.98 228.20,73.98 C231.37,73.98 234.53,76.89 237.70,76.89 C240.63,76.89 243.57,72.71 246.50,72.71 C249.00,72.71 251.50,87.17 254.00,87.17 C256.03,87.17 258.07,75.98 260.10,75.98 C261.70,75.98 263.30,80.35 264.90,80.35 C268.07,80.35 271.23,78.06 274.40,77.26 C276.93,76.61 279.47,76.24 282.00,75.98 C284.23,75.75 286.47,75.80 288.70,75.80" fill="none" stroke="#c8c8c8" stroke-width="0.5"/>
<line x1="195.90" y1="75.80" x2="288.70" y2="75.80" stroke="#c8c8c8" stroke-width="1.00" />
<path d="M195.90,75.80 C205.27,75.80 214.63,75.80 224.00,75.80 C225.40,75.80 226.80,73.80 228.20,73.80 C231.37,73.80 234.53,77.00 237.70,77.00 C240.63,77.00 243.57,72.40 246.50,72.40 C249.00,72.40 251.50,88.30 254.00,88.30 C256.03,88.30 258.07,76.00 260.10,76.00 C261.70,76.00 263.30,80.80 264.90,80.80 C268.07,80.80 271.23,78.29 274.40,77.40 C276.93,76.69 279.47,76.28 282.00,76.00 C284.23,75.75 286.47,75.80 288.70,75.80" fill="none" stroke="#636363" stroke-width="1.20" stroke-linejoin="round"/>
<text x="197.20" y="71.50" font-size="7.30" fill="#9a9a9a" text-anchor="start" font-weight="normal"  stroke="#9a9a9a" stroke-width="0.13">VL</text>
<line x1="193.20" y1="71.50" x2="193.20" y2="80.00" stroke="#222" stroke-width="0.90" />
<text x="191.50" y="75.55" font-size="4.70" fill="#222" text-anchor="middle" font-weight="normal" transform="rotate(-90 191.60 75.55)" stroke="#222" stroke-width="0.16">250</text>
<path d="M195.90,91.20 C206.60,91.20 217.30,91.20 228.00,91.20 C230.33,91.20 232.67,90.88 235.00,90.88 C238.83,90.88 242.67,91.71 246.50,91.71 C248.33,91.71 250.17,91.23 252.00,91.23 C253.33,91.23 254.67,91.97 256.00,91.97 C257.60,91.97 259.20,91.32 260.80,91.17 C263.73,90.90 266.67,90.71 269.60,90.71 C271.40,90.71 273.20,91.30 275.00,91.30 C277.00,91.30 279.00,91.12 281.00,91.12 C283.57,91.12 286.13,91.20 288.70,91.20" fill="none" stroke="#a8e0cf" stroke-width="0.5"/>
<path d="M195.90,91.20 C206.60,91.20 217.30,91.20 228.00,91.20 C230.33,91.20 232.67,90.55 235.00,90.55 C238.83,90.55 242.67,92.21 246.50,92.21 C248.33,92.21 250.17,91.25 252.00,91.25 C253.33,91.25 254.67,92.73 256.00,92.73 C257.60,92.73 259.20,91.44 260.80,91.15 C263.73,90.60 266.67,90.21 269.60,90.21 C271.40,90.21 273.20,91.41 275.00,91.41 C277.00,91.41 279.00,91.04 281.00,91.04 C283.57,91.04 286.13,91.20 288.70,91.20" fill="none" stroke="#a8e0cf" stroke-width="0.5"/>
<path d="M195.90,91.20 C206.60,91.20 217.30,91.20 228.00,91.20 C230.33,91.20 232.67,90.23 235.00,90.23 C238.83,90.23 242.67,92.72 246.50,92.72 C248.33,92.72 250.17,91.28 252.00,91.28 C253.33,91.28 254.67,93.50 256.00,93.50 C257.60,93.50 259.20,91.57 260.80,91.12 C263.73,90.31 266.67,89.72 269.60,89.72 C271.40,89.72 273.20,91.51 275.00,91.51 C277.00,91.51 279.00,90.97 281.00,90.97 C283.57,90.97 286.13,91.20 288.70,91.20" fill="none" stroke="#a8e0cf" stroke-width="0.5"/>
<path d="M195.90,91.20 C206.60,91.20 217.30,91.20 228.00,91.20 C230.33,91.20 232.67,89.90 235.00,89.90 C238.83,89.90 242.67,93.23 246.50,93.23 C248.33,93.23 250.17,91.30 252.00,91.30 C253.33,91.30 254.67,94.27 256.00,94.27 C257.60,94.27 259.20,91.69 260.80,91.10 C263.73,90.01 266.67,89.22 269.60,89.22 C271.40,89.22 273.20,91.62 275.00,91.62 C277.00,91.62 279.00,90.89 281.00,90.89 C283.57,90.89 286.13,91.20 288.70,91.20" fill="none" stroke="#a8e0cf" stroke-width="0.5"/>
<path d="M195.90,91.20 C206.60,91.20 217.30,91.20 228.00,91.20 C230.33,91.20 232.67,89.58 235.00,89.58 C238.83,89.58 242.67,93.73 246.50,93.73 C248.33,93.73 250.17,91.33 252.00,91.33 C253.33,91.33 254.67,95.03 256.00,95.03 C257.60,95.03 259.20,91.81 260.80,91.07 C263.73,89.71 266.67,88.73 269.60,88.73 C271.40,88.73 273.20,91.72 275.00,91.72 C277.00,91.72 279.00,90.81 281.00,90.81 C283.57,90.81 286.13,91.20 288.70,91.20" fill="none" stroke="#a8e0cf" stroke-width="0.5"/>
<path d="M195.90,91.20 C206.60,91.20 217.30,91.20 228.00,91.20 C230.33,91.20 232.67,89.25 235.00,89.25 C238.83,89.25 242.67,94.24 246.50,94.24 C248.33,94.24 250.17,91.36 252.00,91.36 C253.33,91.36 254.67,95.80 256.00,95.80 C257.60,95.80 259.20,91.93 260.80,91.04 C263.73,89.41 266.67,88.24 269.60,88.24 C271.40,88.24 273.20,91.82 275.00,91.82 C277.00,91.82 279.00,90.73 281.00,90.73 C283.57,90.73 286.13,91.20 288.70,91.20" fill="none" stroke="#a8e0cf" stroke-width="0.5"/>
<path d="M195.90,91.20 C206.60,91.20 217.30,91.20 228.00,91.20 C230.33,91.20 232.67,88.92 235.00,88.92 C238.83,88.92 242.67,94.75 246.50,94.75 C248.33,94.75 250.17,91.38 252.00,91.38 C253.33,91.38 254.67,96.57 256.00,96.57 C257.60,96.57 259.20,92.06 260.80,91.02 C263.73,89.11 266.67,87.74 269.60,87.74 C271.40,87.74 273.20,91.93 275.00,91.93 C277.00,91.93 279.00,90.65 281.00,90.65 C283.57,90.65 286.13,91.20 288.70,91.20" fill="none" stroke="#a8e0cf" stroke-width="0.5"/>
<line x1="195.90" y1="91.20" x2="288.70" y2="91.20" stroke="#a8e0cf" stroke-width="1.00" />
<path d="M195.90,91.20 C206.60,91.20 217.30,91.20 228.00,91.20 C230.33,91.20 232.67,88.70 235.00,88.70 C238.83,88.70 242.67,95.10 246.50,95.10 C248.33,95.10 250.17,91.40 252.00,91.40 C253.33,91.40 254.67,97.10 256.00,97.10 C257.60,97.10 259.20,92.14 260.80,91.00 C263.73,88.91 266.67,87.40 269.60,87.40 C271.40,87.40 273.20,92.00 275.00,92.00 C277.00,92.00 279.00,90.60 281.00,90.60 C283.57,90.60 286.13,91.20 288.70,91.20" fill="none" stroke="#3dbd9b" stroke-width="1.20" stroke-linejoin="round"/>
<text x="197.20" y="86.90" font-size="7.30" fill="#3dbd9b" text-anchor="start" font-weight="bold"  stroke="#3dbd9b" stroke-width="0.25">TA</text>
<line x1="193.20" y1="90.60" x2="193.20" y2="97.00" stroke="#222" stroke-width="0.90" />
<text x="191.50" y="93.60" font-size="4.70" fill="#222" text-anchor="middle" font-weight="normal" transform="rotate(-90 191.60 93.60)" stroke="#222" stroke-width="0.16">25</text>
<path d="M195.90,109.90 C209.93,109.90 223.97,109.90 238.00,109.90 C240.60,109.90 243.20,110.08 245.80,110.08 C249.67,110.08 253.53,109.20 257.40,109.20 C259.33,109.20 261.27,110.76 263.20,110.76 C265.57,110.76 267.93,109.90 270.30,109.90 C276.43,109.90 282.57,109.90 288.70,109.90" fill="none" stroke="#9ccfdd" stroke-width="0.5"/>
<path d="M195.90,109.90 C209.93,109.90 223.97,109.90 238.00,109.90 C240.60,109.90 243.20,110.26 245.80,110.26 C249.67,110.26 253.53,108.50 257.40,108.50 C259.33,108.50 261.27,111.62 263.20,111.62 C265.57,111.62 267.93,109.90 270.30,109.90 C276.43,109.90 282.57,109.90 288.70,109.90" fill="none" stroke="#9ccfdd" stroke-width="0.5"/>
<path d="M195.90,109.90 C209.93,109.90 223.97,109.90 238.00,109.90 C240.60,109.90 243.20,110.45 245.80,110.45 C249.67,110.45 253.53,107.79 257.40,107.79 C259.33,107.79 261.27,112.47 263.20,112.47 C265.57,112.47 267.93,109.90 270.30,109.90 C276.43,109.90 282.57,109.90 288.70,109.90" fill="none" stroke="#9ccfdd" stroke-width="0.5"/>
<path d="M195.90,109.90 C209.93,109.90 223.97,109.90 238.00,109.90 C240.60,109.90 243.20,110.63 245.80,110.63 C249.67,110.63 253.53,107.09 257.40,107.09 C259.33,107.09 261.27,113.33 263.20,113.33 C265.57,113.33 267.93,109.90 270.30,109.90 C276.43,109.90 282.57,109.90 288.70,109.90" fill="none" stroke="#9ccfdd" stroke-width="0.5"/>
<path d="M195.90,109.90 C209.93,109.90 223.97,109.90 238.00,109.90 C240.60,109.90 243.20,110.81 245.80,110.81 C249.67,110.81 253.53,106.39 257.40,106.39 C259.33,106.39 261.27,114.19 263.20,114.19 C265.57,114.19 267.93,109.90 270.30,109.90 C276.43,109.90 282.57,109.90 288.70,109.90" fill="none" stroke="#9ccfdd" stroke-width="0.5"/>
<path d="M195.90,109.90 C209.93,109.90 223.97,109.90 238.00,109.90 C240.60,109.90 243.20,110.99 245.80,110.99 C249.67,110.99 253.53,105.69 257.40,105.69 C259.33,105.69 261.27,115.05 263.20,115.05 C265.57,115.05 267.93,109.90 270.30,109.90 C276.43,109.90 282.57,109.90 288.70,109.90" fill="none" stroke="#9ccfdd" stroke-width="0.5"/>
<path d="M195.90,109.90 C209.93,109.90 223.97,109.90 238.00,109.90 C240.60,109.90 243.20,111.17 245.80,111.17 C249.67,111.17 253.53,104.99 257.40,104.99 C259.33,104.99 261.27,115.91 263.20,115.91 C265.57,115.91 267.93,109.90 270.30,109.90 C276.43,109.90 282.57,109.90 288.70,109.90" fill="none" stroke="#9ccfdd" stroke-width="0.5"/>
<line x1="195.90" y1="109.90" x2="288.70" y2="109.90" stroke="#9ccfdd" stroke-width="1.00" />
<path d="M195.90,109.90 C209.93,109.90 223.97,109.90 238.00,109.90 C240.60,109.90 243.20,111.30 245.80,111.30 C249.67,111.30 253.53,104.50 257.40,104.50 C259.33,104.50 261.27,116.50 263.20,116.50 C265.57,116.50 267.93,109.90 270.30,109.90 C276.43,109.90 282.57,109.90 288.70,109.90" fill="none" stroke="#1a8fae" stroke-width="1.20" stroke-linejoin="round"/>
<text x="197.20" y="105.60" font-size="7.30" fill="#1a8fae" text-anchor="start" font-weight="bold"  stroke="#1a8fae" stroke-width="0.25">MG</text>
<line x1="193.20" y1="106.50" x2="193.20" y2="116.00" stroke="#222" stroke-width="0.90" />
<text x="191.50" y="111.05" font-size="4.70" fill="#222" text-anchor="middle" font-weight="normal" transform="rotate(-90 191.60 111.05)" stroke="#222" stroke-width="0.16">100</text>
<path d="M195.90,128.00 C211.93,128.00 227.97,128.00 244.00,128.00 C245.97,128.00 247.93,127.87 249.90,127.87 C252.53,127.87 255.17,128.79 257.80,128.79 C259.60,128.79 261.40,127.45 263.20,127.45 C265.93,127.45 268.67,128.27 271.40,128.27 C273.73,128.27 276.07,128.00 278.40,128.00 C281.83,128.00 285.27,128.00 288.70,128.00" fill="none" stroke="#e6e0a0" stroke-width="0.5"/>
<path d="M195.90,128.00 C211.93,128.00 227.97,128.00 244.00,128.00 C245.97,128.00 247.93,127.74 249.90,127.74 C252.53,127.74 255.17,129.59 257.80,129.59 C259.60,129.59 261.40,126.91 263.20,126.91 C265.93,126.91 268.67,128.55 271.40,128.55 C273.73,128.55 276.07,128.00 278.40,128.00 C281.83,128.00 285.27,128.00 288.70,128.00" fill="none" stroke="#e6e0a0" stroke-width="0.5"/>
<path d="M195.90,128.00 C211.93,128.00 227.97,128.00 244.00,128.00 C245.97,128.00 247.93,127.61 249.90,127.61 C252.53,127.61 255.17,130.38 257.80,130.38 C259.60,130.38 261.40,126.36 263.20,126.36 C265.93,126.36 268.67,128.82 271.40,128.82 C273.73,128.82 276.07,128.00 278.40,128.00 C281.83,128.00 285.27,128.00 288.70,128.00" fill="none" stroke="#e6e0a0" stroke-width="0.5"/>
<path d="M195.90,128.00 C211.93,128.00 227.97,128.00 244.00,128.00 C245.97,128.00 247.93,127.48 249.90,127.48 C252.53,127.48 255.17,131.17 257.80,131.17 C259.60,131.17 261.40,125.82 263.20,125.82 C265.93,125.82 268.67,129.09 271.40,129.09 C273.73,129.09 276.07,128.00 278.40,128.00 C281.83,128.00 285.27,128.00 288.70,128.00" fill="none" stroke="#e6e0a0" stroke-width="0.5"/>
<path d="M195.90,128.00 C211.93,128.00 227.97,128.00 244.00,128.00 C245.97,128.00 247.93,127.35 249.90,127.35 C252.53,127.35 255.17,131.97 257.80,131.97 C259.60,131.97 261.40,125.27 263.20,125.27 C265.93,125.27 268.67,129.37 271.40,129.37 C273.73,129.37 276.07,128.00 278.40,128.00 C281.83,128.00 285.27,128.00 288.70,128.00" fill="none" stroke="#e6e0a0" stroke-width="0.5"/>
<path d="M195.90,128.00 C211.93,128.00 227.97,128.00 244.00,128.00 C245.97,128.00 247.93,127.22 249.90,127.22 C252.53,127.22 255.17,132.76 257.80,132.76 C259.60,132.76 261.40,124.72 263.20,124.72 C265.93,124.72 268.67,129.64 271.40,129.64 C273.73,129.64 276.07,128.00 278.40,128.00 C281.83,128.00 285.27,128.00 288.70,128.00" fill="none" stroke="#e6e0a0" stroke-width="0.5"/>
<path d="M195.90,128.00 C211.93,128.00 227.97,128.00 244.00,128.00 C245.97,128.00 247.93,127.09 249.90,127.09 C252.53,127.09 255.17,133.55 257.80,133.55 C259.60,133.55 261.40,124.18 263.20,124.18 C265.93,124.18 268.67,129.91 271.40,129.91 C273.73,129.91 276.07,128.00 278.40,128.00 C281.83,128.00 285.27,128.00 288.70,128.00" fill="none" stroke="#e6e0a0" stroke-width="0.5"/>
<line x1="195.90" y1="128.00" x2="288.70" y2="128.00" stroke="#e6e0a0" stroke-width="1.00" />
<path d="M195.90,128.00 C211.93,128.00 227.97,128.00 244.00,128.00 C245.97,128.00 247.93,127.00 249.90,127.00 C252.53,127.00 255.17,134.10 257.80,134.10 C259.60,134.10 261.40,123.80 263.20,123.80 C265.93,123.80 268.67,130.10 271.40,130.10 C273.73,130.10 276.07,128.00 278.40,128.00 C281.83,128.00 285.27,128.00 288.70,128.00" fill="none" stroke="#c9c22a" stroke-width="1.20" stroke-linejoin="round"/>
<text x="197.20" y="123.70" font-size="7.30" fill="#c9c22a" text-anchor="start" font-weight="bold"  stroke="#c9c22a" stroke-width="0.25">SL</text>
<line x1="193.20" y1="124.50" x2="193.20" y2="136.10" stroke="#222" stroke-width="0.90" />
<text x="191.50" y="130.10" font-size="4.70" fill="#222" text-anchor="middle" font-weight="normal" transform="rotate(-90 191.60 130.10)" stroke="#222" stroke-width="0.16">50 µV</text>
<path d="M85.00,195.80 C100.00,195.80 115.00,195.80 130.00,195.80 C133.03,195.80 136.07,197.50 139.10,197.50 C142.07,197.50 145.03,195.80 148.00,195.80 C157.93,195.80 167.87,195.80 177.80,195.80 Z" fill="#f2f2f2" stroke="none"/>
<path d="M85.00,195.80 C100.00,195.80 115.00,195.80 130.00,195.80 C133.03,195.80 136.07,196.02 139.10,196.02 C142.07,196.02 145.03,195.80 148.00,195.80 C157.93,195.80 167.87,195.80 177.80,195.80" fill="none" stroke="#c8c8c8" stroke-width="0.5"/>
<path d="M85.00,195.80 C100.00,195.80 115.00,195.80 130.00,195.80 C133.03,195.80 136.07,196.24 139.10,196.24 C142.07,196.24 145.03,195.80 148.00,195.80 C157.93,195.80 167.87,195.80 177.80,195.80" fill="none" stroke="#c8c8c8" stroke-width="0.5"/>
<path d="M85.00,195.80 C100.00,195.80 115.00,195.80 130.00,195.80 C133.03,195.80 136.07,196.46 139.10,196.46 C142.07,196.46 145.03,195.80 148.00,195.80 C157.93,195.80 167.87,195.80 177.80,195.80" fill="none" stroke="#c8c8c8" stroke-width="0.5"/>
<path d="M85.00,195.80 C100.00,195.80 115.00,195.80 130.00,195.80 C133.03,195.80 136.07,196.68 139.10,196.68 C142.07,196.68 145.03,195.80 148.00,195.80 C157.93,195.80 167.87,195.80 177.80,195.80" fill="none" stroke="#c8c8c8" stroke-width="0.5"/>
<path d="M85.00,195.80 C100.00,195.80 115.00,195.80 130.00,195.80 C133.03,195.80 136.07,196.91 139.10,196.91 C142.07,196.91 145.03,195.80 148.00,195.80 C157.93,195.80 167.87,195.80 177.80,195.80" fill="none" stroke="#c8c8c8" stroke-width="0.5"/>
<path d="M85.00,195.80 C100.00,195.80 115.00,195.80 130.00,195.80 C133.03,195.80 136.07,197.13 139.10,197.13 C142.07,197.13 145.03,195.80 148.00,195.80 C157.93,195.80 167.87,195.80 177.80,195.80" fill="none" stroke="#c8c8c8" stroke-width="0.5"/>
<path d="M85.00,195.80 C100.00,195.80 115.00,195.80 130.00,195.80 C133.03,195.80 136.07,197.35 139.10,197.35 C142.07,197.35 145.03,195.80 148.00,195.80 C157.93,195.80 167.87,195.80 177.80,195.80" fill="none" stroke="#c8c8c8" stroke-width="0.5"/>
<line x1="85.00" y1="195.80" x2="177.80" y2="195.80" stroke="#c8c8c8" stroke-width="1.00" />
<path d="M85.00,195.80 C100.00,195.80 115.00,195.80 130.00,195.80 C133.03,195.80 136.07,197.50 139.10,197.50 C142.07,197.50 145.03,195.80 148.00,195.80 C157.93,195.80 167.87,195.80 177.80,195.80" fill="none" stroke="#636363" stroke-width="1.20" stroke-linejoin="round"/>
<text x="86.30" y="193.30" font-size="7.30" fill="#9a9a9a" text-anchor="start" font-weight="normal"  stroke="#9a9a9a" stroke-width="0.13">RF</text>
<line x1="82.30" y1="191.20" x2="82.30" y2="203.50" stroke="#222" stroke-width="0.90" />
<text x="80.60" y="197.15" font-size="4.70" fill="#222" text-anchor="middle" font-weight="normal" transform="rotate(-90 80.70 197.15)" stroke="#222" stroke-width="0.16">250</text>
<path d="M85.00,219.30 C95.57,219.30 106.13,219.30 116.70,219.30 C118.90,219.30 121.10,227.90 123.30,227.90 C124.87,227.90 126.43,225.35 128.00,224.00 C129.77,222.48 131.53,220.97 133.30,219.30 C136.90,215.90 140.50,208.80 144.10,208.80 C146.07,208.80 148.03,210.51 150.00,212.00 C152.20,213.67 154.40,217.23 156.60,218.30 C159.40,219.66 162.20,219.30 165.00,219.30 C169.27,219.30 173.53,219.30 177.80,219.30 Z" fill="#f2f2f2" stroke="none"/>
<path d="M85.00,219.30 C95.57,219.30 106.13,219.30 116.70,219.30 C118.90,219.30 121.10,220.42 123.30,220.42 C124.87,220.42 126.43,220.09 128.00,219.91 C129.77,219.71 131.53,219.52 133.30,219.30 C136.90,218.86 140.50,217.94 144.10,217.94 C146.07,217.94 148.03,218.16 150.00,218.35 C152.20,218.57 154.40,219.03 156.60,219.17 C159.40,219.35 162.20,219.30 165.00,219.30 C169.27,219.30 173.53,219.30 177.80,219.30" fill="none" stroke="#c8c8c8" stroke-width="0.5"/>
<path d="M85.00,219.30 C95.57,219.30 106.13,219.30 116.70,219.30 C118.90,219.30 121.10,221.54 123.30,221.54 C124.87,221.54 126.43,220.87 128.00,220.52 C129.77,220.13 131.53,219.73 133.30,219.30 C136.90,218.42 140.50,216.57 144.10,216.57 C146.07,216.57 148.03,217.01 150.00,217.40 C152.20,217.84 154.40,218.76 156.60,219.04 C159.40,219.39 162.20,219.30 165.00,219.30 C169.27,219.30 173.53,219.30 177.80,219.30" fill="none" stroke="#c8c8c8" stroke-width="0.5"/>
<path d="M85.00,219.30 C95.57,219.30 106.13,219.30 116.70,219.30 C118.90,219.30 121.10,222.65 123.30,222.65 C124.87,222.65 126.43,221.66 128.00,221.13 C129.77,220.54 131.53,219.95 133.30,219.30 C136.90,217.97 140.50,215.21 144.10,215.21 C146.07,215.21 148.03,215.87 150.00,216.45 C152.20,217.11 154.40,218.49 156.60,218.91 C159.40,219.44 162.20,219.30 165.00,219.30 C169.27,219.30 173.53,219.30 177.80,219.30" fill="none" stroke="#c8c8c8" stroke-width="0.5"/>
<path d="M85.00,219.30 C95.57,219.30 106.13,219.30 116.70,219.30 C118.90,219.30 121.10,223.77 123.30,223.77 C124.87,223.77 126.43,222.44 128.00,221.74 C129.77,220.95 131.53,220.17 133.30,219.30 C136.90,217.53 140.50,213.84 144.10,213.84 C146.07,213.84 148.03,214.73 150.00,215.50 C152.20,216.37 154.40,218.22 156.60,218.78 C159.40,219.49 162.20,219.30 165.00,219.30 C169.27,219.30 173.53,219.30 177.80,219.30" fill="none" stroke="#c8c8c8" stroke-width="0.5"/>
<path d="M85.00,219.30 C95.57,219.30 106.13,219.30 116.70,219.30 C118.90,219.30 121.10,224.89 123.30,224.89 C124.87,224.89 126.43,223.23 128.00,222.36 C129.77,221.37 131.53,220.38 133.30,219.30 C136.90,217.09 140.50,212.48 144.10,212.48 C146.07,212.48 148.03,213.58 150.00,214.56 C152.20,215.64 154.40,217.95 156.60,218.65 C159.40,219.54 162.20,219.30 165.00,219.30 C169.27,219.30 173.53,219.30 177.80,219.30" fill="none" stroke="#c8c8c8" stroke-width="0.5"/>
<path d="M85.00,219.30 C95.57,219.30 106.13,219.30 116.70,219.30 C118.90,219.30 121.10,226.01 123.30,226.01 C124.87,226.01 126.43,224.02 128.00,222.97 C129.77,221.78 131.53,220.60 133.30,219.30 C136.90,216.65 140.50,211.11 144.10,211.11 C146.07,211.11 148.03,212.44 150.00,213.61 C152.20,214.91 154.40,217.68 156.60,218.52 C159.40,219.58 162.20,219.30 165.00,219.30 C169.27,219.30 173.53,219.30 177.80,219.30" fill="none" stroke="#c8c8c8" stroke-width="0.5"/>
<path d="M85.00,219.30 C95.57,219.30 106.13,219.30 116.70,219.30 C118.90,219.30 121.10,227.13 123.30,227.13 C124.87,227.13 126.43,224.80 128.00,223.58 C129.77,222.19 131.53,220.82 133.30,219.30 C136.90,216.21 140.50,209.75 144.10,209.75 C146.07,209.75 148.03,211.30 150.00,212.66 C152.20,214.18 154.40,217.42 156.60,218.39 C159.40,219.63 162.20,219.30 165.00,219.30 C169.27,219.30 173.53,219.30 177.80,219.30" fill="none" stroke="#c8c8c8" stroke-width="0.5"/>
<line x1="85.00" y1="219.30" x2="177.80" y2="219.30" stroke="#c8c8c8" stroke-width="1.00" />
<path d="M85.00,219.30 C95.57,219.30 106.13,219.30 116.70,219.30 C118.90,219.30 121.10,227.90 123.30,227.90 C124.87,227.90 126.43,225.35 128.00,224.00 C129.77,222.48 131.53,220.97 133.30,219.30 C136.90,215.90 140.50,208.80 144.10,208.80 C146.07,208.80 148.03,210.51 150.00,212.00 C152.20,213.67 154.40,217.23 156.60,218.30 C159.40,219.66 162.20,219.30 165.00,219.30 C169.27,219.30 173.53,219.30 177.80,219.30" fill="none" stroke="#636363" stroke-width="1.20" stroke-linejoin="round"/>
<text x="86.30" y="216.80" font-size="7.30" fill="#9a9a9a" text-anchor="start" font-weight="normal"  stroke="#9a9a9a" stroke-width="0.13">ST</text>
<line x1="82.30" y1="215.60" x2="82.30" y2="223.30" stroke="#222" stroke-width="0.90" />
<text x="80.60" y="219.25" font-size="4.70" fill="#222" text-anchor="middle" font-weight="normal" transform="rotate(-90 80.70 219.25)" stroke="#222" stroke-width="0.16">500</text>
<path d="M85.00,234.50 C100.00,234.50 115.00,234.50 130.00,234.50 C133.60,234.50 137.20,236.20 140.80,236.20 C143.87,236.20 146.93,234.50 150.00,234.50 C159.27,234.50 168.53,234.50 177.80,234.50 Z" fill="#f2f2f2" stroke="none"/>
<path d="M85.00,234.50 C100.00,234.50 115.00,234.50 130.00,234.50 C133.60,234.50 137.20,234.72 140.80,234.72 C143.87,234.72 146.93,234.50 150.00,234.50 C159.27,234.50 168.53,234.50 177.80,234.50" fill="none" stroke="#c8c8c8" stroke-width="0.5"/>
<path d="M85.00,234.50 C100.00,234.50 115.00,234.50 130.00,234.50 C133.60,234.50 137.20,234.94 140.80,234.94 C143.87,234.94 146.93,234.50 150.00,234.50 C159.27,234.50 168.53,234.50 177.80,234.50" fill="none" stroke="#c8c8c8" stroke-width="0.5"/>
<path d="M85.00,234.50 C100.00,234.50 115.00,234.50 130.00,234.50 C133.60,234.50 137.20,235.16 140.80,235.16 C143.87,235.16 146.93,234.50 150.00,234.50 C159.27,234.50 168.53,234.50 177.80,234.50" fill="none" stroke="#c8c8c8" stroke-width="0.5"/>
<path d="M85.00,234.50 C100.00,234.50 115.00,234.50 130.00,234.50 C133.60,234.50 137.20,235.38 140.80,235.38 C143.87,235.38 146.93,234.50 150.00,234.50 C159.27,234.50 168.53,234.50 177.80,234.50" fill="none" stroke="#c8c8c8" stroke-width="0.5"/>
<path d="M85.00,234.50 C100.00,234.50 115.00,234.50 130.00,234.50 C133.60,234.50 137.20,235.60 140.80,235.60 C143.87,235.60 146.93,234.50 150.00,234.50 C159.27,234.50 168.53,234.50 177.80,234.50" fill="none" stroke="#c8c8c8" stroke-width="0.5"/>
<path d="M85.00,234.50 C100.00,234.50 115.00,234.50 130.00,234.50 C133.60,234.50 137.20,235.83 140.80,235.83 C143.87,235.83 146.93,234.50 150.00,234.50 C159.27,234.50 168.53,234.50 177.80,234.50" fill="none" stroke="#c8c8c8" stroke-width="0.5"/>
<path d="M85.00,234.50 C100.00,234.50 115.00,234.50 130.00,234.50 C133.60,234.50 137.20,236.05 140.80,236.05 C143.87,236.05 146.93,234.50 150.00,234.50 C159.27,234.50 168.53,234.50 177.80,234.50" fill="none" stroke="#c8c8c8" stroke-width="0.5"/>
<line x1="85.00" y1="234.50" x2="177.80" y2="234.50" stroke="#c8c8c8" stroke-width="1.00" />
<path d="M85.00,234.50 C100.00,234.50 115.00,234.50 130.00,234.50 C133.60,234.50 137.20,236.20 140.80,236.20 C143.87,236.20 146.93,234.50 150.00,234.50 C159.27,234.50 168.53,234.50 177.80,234.50" fill="none" stroke="#636363" stroke-width="1.20" stroke-linejoin="round"/>
<text x="86.30" y="232.00" font-size="7.30" fill="#9a9a9a" text-anchor="start" font-weight="normal"  stroke="#9a9a9a" stroke-width="0.13">VL</text>
<line x1="82.30" y1="231.80" x2="82.30" y2="240.00" stroke="#222" stroke-width="0.90" />
<text x="80.60" y="235.70" font-size="4.70" fill="#222" text-anchor="middle" font-weight="normal" transform="rotate(-90 80.70 235.70)" stroke="#222" stroke-width="0.16">250</text>
<path d="M85.00,255.50 C96.00,255.50 107.00,255.50 118.00,255.50 C120.57,255.50 123.13,254.30 125.70,254.30 C127.47,254.30 129.23,254.40 131.00,256.00 C132.83,257.66 134.67,264.10 136.50,264.10 C137.83,264.10 139.17,262.90 140.50,262.90 C141.80,262.90 143.10,266.10 144.40,266.10 C146.37,266.10 148.33,238.50 150.30,238.50 C152.60,238.50 154.90,247.83 157.20,250.30 C159.80,253.09 162.40,253.39 165.00,254.30 C167.33,255.12 169.67,255.50 172.00,255.50 C173.93,255.50 175.87,255.50 177.80,255.50 Z" fill="#f2f2f2" stroke="none"/>
<path d="M85.00,255.50 C96.00,255.50 107.00,255.50 118.00,255.50 C120.57,255.50 123.13,255.34 125.70,255.34 C127.47,255.34 129.23,255.36 131.00,255.56 C132.83,255.78 134.67,256.62 136.50,256.62 C137.83,256.62 139.17,256.46 140.50,256.46 C141.80,256.46 143.10,256.88 144.40,256.88 C146.37,256.88 148.33,253.29 150.30,253.29 C152.60,253.29 154.90,254.50 157.20,254.82 C159.80,255.19 162.40,255.23 165.00,255.34 C167.33,255.45 169.67,255.50 172.00,255.50 C173.93,255.50 175.87,255.50 177.80,255.50" fill="none" stroke="#c8c8c8" stroke-width="0.5"/>
<path d="M85.00,255.50 C96.00,255.50 107.00,255.50 118.00,255.50 C120.57,255.50 123.13,255.19 125.70,255.19 C127.47,255.19 129.23,255.21 131.00,255.63 C132.83,256.06 134.67,257.74 136.50,257.74 C137.83,257.74 139.17,257.42 140.50,257.42 C141.80,257.42 143.10,258.26 144.40,258.26 C146.37,258.26 148.33,251.08 150.30,251.08 C152.60,251.08 154.90,253.51 157.20,254.15 C159.80,254.87 162.40,254.95 165.00,255.19 C167.33,255.40 169.67,255.50 172.00,255.50 C173.93,255.50 175.87,255.50 177.80,255.50" fill="none" stroke="#c8c8c8" stroke-width="0.5"/>
<path d="M85.00,255.50 C96.00,255.50 107.00,255.50 118.00,255.50 C120.57,255.50 123.13,255.03 125.70,255.03 C127.47,255.03 129.23,255.07 131.00,255.69 C132.83,256.34 134.67,258.85 136.50,258.85 C137.83,258.85 139.17,258.39 140.50,258.39 C141.80,258.39 143.10,259.63 144.40,259.63 C146.37,259.63 148.33,248.87 150.30,248.87 C152.60,248.87 154.90,252.51 157.20,253.47 C159.80,254.56 162.40,254.68 165.00,255.03 C167.33,255.35 169.67,255.50 172.00,255.50 C173.93,255.50 175.87,255.50 177.80,255.50" fill="none" stroke="#c8c8c8" stroke-width="0.5"/>
<path d="M85.00,255.50 C96.00,255.50 107.00,255.50 118.00,255.50 C120.57,255.50 123.13,254.88 125.70,254.88 C127.47,254.88 129.23,254.93 131.00,255.76 C132.83,256.63 134.67,259.97 136.50,259.97 C137.83,259.97 139.17,259.35 140.50,259.35 C141.80,259.35 143.10,261.01 144.40,261.01 C146.37,261.01 148.33,246.66 150.30,246.66 C152.60,246.66 154.90,251.51 157.20,252.80 C159.80,254.25 162.40,254.40 165.00,254.88 C167.33,255.30 169.67,255.50 172.00,255.50 C173.93,255.50 175.87,255.50 177.80,255.50" fill="none" stroke="#c8c8c8" stroke-width="0.5"/>
<path d="M85.00,255.50 C96.00,255.50 107.00,255.50 118.00,255.50 C120.57,255.50 123.13,254.72 125.70,254.72 C127.47,254.72 129.23,254.78 131.00,255.82 C132.83,256.91 134.67,261.09 136.50,261.09 C137.83,261.09 139.17,260.31 140.50,260.31 C141.80,260.31 143.10,262.39 144.40,262.39 C146.37,262.39 148.33,244.45 150.30,244.45 C152.60,244.45 154.90,250.51 157.20,252.12 C159.80,253.94 162.40,254.13 165.00,254.72 C167.33,255.25 169.67,255.50 172.00,255.50 C173.93,255.50 175.87,255.50 177.80,255.50" fill="none" stroke="#c8c8c8" stroke-width="0.5"/>
<path d="M85.00,255.50 C96.00,255.50 107.00,255.50 118.00,255.50 C120.57,255.50 123.13,254.56 125.70,254.56 C127.47,254.56 129.23,254.64 131.00,255.89 C132.83,257.19 134.67,262.21 136.50,262.21 C137.83,262.21 139.17,261.27 140.50,261.27 C141.80,261.27 143.10,263.77 144.40,263.77 C146.37,263.77 148.33,242.24 150.30,242.24 C152.60,242.24 154.90,249.52 157.20,251.44 C159.80,253.62 162.40,253.85 165.00,254.56 C167.33,255.20 169.67,255.50 172.00,255.50 C173.93,255.50 175.87,255.50 177.80,255.50" fill="none" stroke="#c8c8c8" stroke-width="0.5"/>
<path d="M85.00,255.50 C96.00,255.50 107.00,255.50 118.00,255.50 C120.57,255.50 123.13,254.41 125.70,254.41 C127.47,254.41 129.23,254.50 131.00,255.96 C132.83,257.47 134.67,263.33 136.50,263.33 C137.83,263.33 139.17,262.23 140.50,262.23 C141.80,262.23 143.10,265.15 144.40,265.15 C146.37,265.15 148.33,240.03 150.30,240.03 C152.60,240.03 154.90,248.52 157.20,250.77 C159.80,253.31 162.40,253.58 165.00,254.41 C167.33,255.15 169.67,255.50 172.00,255.50 C173.93,255.50 175.87,255.50 177.80,255.50" fill="none" stroke="#c8c8c8" stroke-width="0.5"/>
<line x1="85.00" y1="255.50" x2="177.80" y2="255.50" stroke="#c8c8c8" stroke-width="1.00" />
<path d="M85.00,255.50 C96.00,255.50 107.00,255.50 118.00,255.50 C120.57,255.50 123.13,254.30 125.70,254.30 C127.47,254.30 129.23,254.40 131.00,256.00 C132.83,257.66 134.67,264.10 136.50,264.10 C137.83,264.10 139.17,262.90 140.50,262.90 C141.80,262.90 143.10,266.10 144.40,266.10 C146.37,266.10 148.33,238.50 150.30,238.50 C152.60,238.50 154.90,247.83 157.20,250.30 C159.80,253.09 162.40,253.39 165.00,254.30 C167.33,255.12 169.67,255.50 172.00,255.50 C173.93,255.50 175.87,255.50 177.80,255.50" fill="none" stroke="#636363" stroke-width="1.20" stroke-linejoin="round"/>
<text x="86.30" y="253.00" font-size="7.30" fill="#9a9a9a" text-anchor="start" font-weight="normal"  stroke="#9a9a9a" stroke-width="0.13">TA</text>
<line x1="82.30" y1="252.90" x2="82.30" y2="261.20" stroke="#222" stroke-width="0.90" />
<text x="80.60" y="256.85" font-size="4.70" fill="#222" text-anchor="middle" font-weight="normal" transform="rotate(-90 80.70 256.85)" stroke="#222" stroke-width="0.16">30</text>
<path d="M85.00,278.40 C99.33,278.40 113.67,278.40 128.00,278.40 C130.40,278.40 132.80,283.20 135.20,283.20 C139.27,283.20 143.33,262.50 147.40,262.50 C149.23,262.50 151.07,296.00 152.90,296.00 C154.10,296.00 155.30,288.05 156.50,285.00 C157.50,282.45 158.50,279.10 159.50,279.20 C161.33,279.38 163.17,278.40 165.00,278.40 C169.27,278.40 173.53,278.40 177.80,278.40 Z" fill="#f2f2f2" stroke="none"/>
<path d="M85.00,278.40 C99.33,278.40 113.67,278.40 128.00,278.40 C130.40,278.40 132.80,279.02 135.20,279.02 C139.27,279.02 143.33,276.33 147.40,276.33 C149.23,276.33 151.07,280.69 152.90,280.69 C154.10,280.69 155.30,279.66 156.50,279.26 C157.50,278.93 158.50,278.49 159.50,278.50 C161.33,278.53 163.17,278.40 165.00,278.40 C169.27,278.40 173.53,278.40 177.80,278.40" fill="none" stroke="#c8c8c8" stroke-width="0.5"/>
<path d="M85.00,278.40 C99.33,278.40 113.67,278.40 128.00,278.40 C130.40,278.40 132.80,279.65 135.20,279.65 C139.27,279.65 143.33,274.27 147.40,274.27 C149.23,274.27 151.07,282.98 152.90,282.98 C154.10,282.98 155.30,280.91 156.50,280.12 C157.50,279.45 158.50,278.58 159.50,278.61 C161.33,278.66 163.17,278.40 165.00,278.40 C169.27,278.40 173.53,278.40 177.80,278.40" fill="none" stroke="#c8c8c8" stroke-width="0.5"/>
<path d="M85.00,278.40 C99.33,278.40 113.67,278.40 128.00,278.40 C130.40,278.40 132.80,280.27 135.20,280.27 C139.27,280.27 143.33,272.20 147.40,272.20 C149.23,272.20 151.07,285.26 152.90,285.26 C154.10,285.26 155.30,282.17 156.50,280.97 C157.50,279.98 158.50,278.67 159.50,278.71 C161.33,278.78 163.17,278.40 165.00,278.40 C169.27,278.40 173.53,278.40 177.80,278.40" fill="none" stroke="#c8c8c8" stroke-width="0.5"/>
<path d="M85.00,278.40 C99.33,278.40 113.67,278.40 128.00,278.40 C130.40,278.40 132.80,280.90 135.20,280.90 C139.27,280.90 143.33,270.13 147.40,270.13 C149.23,270.13 151.07,287.55 152.90,287.55 C154.10,287.55 155.30,283.42 156.50,281.83 C157.50,280.51 158.50,278.76 159.50,278.82 C161.33,278.91 163.17,278.40 165.00,278.40 C169.27,278.40 173.53,278.40 177.80,278.40" fill="none" stroke="#c8c8c8" stroke-width="0.5"/>
<path d="M85.00,278.40 C99.33,278.40 113.67,278.40 128.00,278.40 C130.40,278.40 132.80,281.52 135.20,281.52 C139.27,281.52 143.33,268.06 147.40,268.06 C149.23,268.06 151.07,289.84 152.90,289.84 C154.10,289.84 155.30,284.68 156.50,282.69 C157.50,281.04 158.50,278.85 159.50,278.92 C161.33,279.04 163.17,278.40 165.00,278.40 C169.27,278.40 173.53,278.40 177.80,278.40" fill="none" stroke="#c8c8c8" stroke-width="0.5"/>
<path d="M85.00,278.40 C99.33,278.40 113.67,278.40 128.00,278.40 C130.40,278.40 132.80,282.14 135.20,282.14 C139.27,282.14 143.33,266.00 147.40,266.00 C149.23,266.00 151.07,292.13 152.90,292.13 C154.10,292.13 155.30,285.93 156.50,283.55 C157.50,281.56 158.50,278.95 159.50,279.02 C161.33,279.17 163.17,278.40 165.00,278.40 C169.27,278.40 173.53,278.40 177.80,278.40" fill="none" stroke="#c8c8c8" stroke-width="0.5"/>
<path d="M85.00,278.40 C99.33,278.40 113.67,278.40 128.00,278.40 C130.40,278.40 132.80,282.77 135.20,282.77 C139.27,282.77 143.33,263.93 147.40,263.93 C149.23,263.93 151.07,294.42 152.90,294.42 C154.10,294.42 155.30,287.19 156.50,284.41 C157.50,282.09 158.50,279.04 159.50,279.13 C161.33,279.29 163.17,278.40 165.00,278.40 C169.27,278.40 173.53,278.40 177.80,278.40" fill="none" stroke="#c8c8c8" stroke-width="0.5"/>
<line x1="85.00" y1="278.40" x2="177.80" y2="278.40" stroke="#c8c8c8" stroke-width="1.00" />
<path d="M85.00,278.40 C99.33,278.40 113.67,278.40 128.00,278.40 C130.40,278.40 132.80,283.20 135.20,283.20 C139.27,283.20 143.33,262.50 147.40,262.50 C149.23,262.50 151.07,296.00 152.90,296.00 C154.10,296.00 155.30,288.05 156.50,285.00 C157.50,282.45 158.50,279.10 159.50,279.20 C161.33,279.38 163.17,278.40 165.00,278.40 C169.27,278.40 173.53,278.40 177.80,278.40" fill="none" stroke="#636363" stroke-width="1.20" stroke-linejoin="round"/>
<text x="86.30" y="275.90" font-size="7.30" fill="#9a9a9a" text-anchor="start" font-weight="normal"  stroke="#9a9a9a" stroke-width="0.13">MG</text>
<line x1="82.30" y1="275.00" x2="82.30" y2="284.60" stroke="#222" stroke-width="0.90" />
<text x="80.60" y="279.60" font-size="4.70" fill="#222" text-anchor="middle" font-weight="normal" transform="rotate(-90 80.70 279.60)" stroke="#222" stroke-width="0.16">250</text>
<path d="M85.00,314.50 C101.17,314.50 117.33,314.50 133.50,314.50 C135.90,314.50 138.30,308.30 140.70,308.30 C143.07,308.30 145.43,318.70 147.80,318.70 C149.57,318.70 151.33,305.50 153.10,305.50 C155.47,305.50 157.83,330.30 160.20,330.30 C162.87,330.30 165.53,320.29 168.20,317.90 C171.40,315.03 174.60,314.50 177.80,314.50 Z" fill="#f2f2f2" stroke="none"/>
<path d="M85.00,314.50 C101.17,314.50 117.33,314.50 133.50,314.50 C135.90,314.50 138.30,313.69 140.70,313.69 C143.07,313.69 145.43,315.05 147.80,315.05 C149.57,315.05 151.33,313.33 153.10,313.33 C155.47,313.33 157.83,316.55 160.20,316.55 C162.87,316.55 165.53,315.25 168.20,314.94 C171.40,314.57 174.60,314.50 177.80,314.50" fill="none" stroke="#c8c8c8" stroke-width="0.5"/>
<path d="M85.00,314.50 C101.17,314.50 117.33,314.50 133.50,314.50 C135.90,314.50 138.30,312.89 140.70,312.89 C143.07,312.89 145.43,315.59 147.80,315.59 C149.57,315.59 151.33,312.16 153.10,312.16 C155.47,312.16 157.83,318.61 160.20,318.61 C162.87,318.61 165.53,316.01 168.20,315.38 C171.40,314.64 174.60,314.50 177.80,314.50" fill="none" stroke="#c8c8c8" stroke-width="0.5"/>
<path d="M85.00,314.50 C101.17,314.50 117.33,314.50 133.50,314.50 C135.90,314.50 138.30,312.08 140.70,312.08 C143.07,312.08 145.43,316.14 147.80,316.14 C149.57,316.14 151.33,310.99 153.10,310.99 C155.47,310.99 157.83,320.66 160.20,320.66 C162.87,320.66 165.53,316.76 168.20,315.83 C171.40,314.71 174.60,314.50 177.80,314.50" fill="none" stroke="#c8c8c8" stroke-width="0.5"/>
<path d="M85.00,314.50 C101.17,314.50 117.33,314.50 133.50,314.50 C135.90,314.50 138.30,311.28 140.70,311.28 C143.07,311.28 145.43,316.68 147.80,316.68 C149.57,316.68 151.33,309.82 153.10,309.82 C155.47,309.82 157.83,322.72 160.20,322.72 C162.87,322.72 165.53,317.51 168.20,316.27 C171.40,314.77 174.60,314.50 177.80,314.50" fill="none" stroke="#c8c8c8" stroke-width="0.5"/>
<path d="M85.00,314.50 C101.17,314.50 117.33,314.50 133.50,314.50 C135.90,314.50 138.30,310.47 140.70,310.47 C143.07,310.47 145.43,317.23 147.80,317.23 C149.57,317.23 151.33,308.65 153.10,308.65 C155.47,308.65 157.83,324.77 160.20,324.77 C162.87,324.77 165.53,318.27 168.20,316.71 C171.40,314.84 174.60,314.50 177.80,314.50" fill="none" stroke="#c8c8c8" stroke-width="0.5"/>
<path d="M85.00,314.50 C101.17,314.50 117.33,314.50 133.50,314.50 C135.90,314.50 138.30,309.66 140.70,309.66 C143.07,309.66 145.43,317.78 147.80,317.78 C149.57,317.78 151.33,307.48 153.10,307.48 C155.47,307.48 157.83,326.82 160.20,326.82 C162.87,326.82 165.53,319.02 168.20,317.15 C171.40,314.91 174.60,314.50 177.80,314.50" fill="none" stroke="#c8c8c8" stroke-width="0.5"/>
<path d="M85.00,314.50 C101.17,314.50 117.33,314.50 133.50,314.50 C135.90,314.50 138.30,308.86 140.70,308.86 C143.07,308.86 145.43,318.32 147.80,318.32 C149.57,318.32 151.33,306.31 153.10,306.31 C155.47,306.31 157.83,328.88 160.20,328.88 C162.87,328.88 165.53,319.77 168.20,317.59 C171.40,314.98 174.60,314.50 177.80,314.50" fill="none" stroke="#c8c8c8" stroke-width="0.5"/>
<line x1="85.00" y1="314.50" x2="177.80" y2="314.50" stroke="#c8c8c8" stroke-width="1.00" />
<path d="M85.00,314.50 C101.17,314.50 117.33,314.50 133.50,314.50 C135.90,314.50 138.30,308.30 140.70,308.30 C143.07,308.30 145.43,318.70 147.80,318.70 C149.57,318.70 151.33,305.50 153.10,305.50 C155.47,305.50 157.83,330.30 160.20,330.30 C162.87,330.30 165.53,320.29 168.20,317.90 C171.40,315.03 174.60,314.50 177.80,314.50" fill="none" stroke="#636363" stroke-width="1.20" stroke-linejoin="round"/>
<text x="86.30" y="312.00" font-size="7.30" fill="#9a9a9a" text-anchor="start" font-weight="normal"  stroke="#9a9a9a" stroke-width="0.13">SL</text>
<line x1="82.30" y1="309.50" x2="82.30" y2="321.90" stroke="#222" stroke-width="0.90" />
<text x="80.60" y="315.50" font-size="4.70" fill="#222" text-anchor="middle" font-weight="normal" transform="rotate(-90 80.70 315.50)" stroke="#222" stroke-width="0.16">100 µV</text>
<path d="M195.90,195.70 C209.27,195.70 222.63,195.64 236.00,195.50 C238.33,195.48 240.67,195.20 243.00,195.20 C245.30,195.20 247.60,199.60 249.90,199.60 C252.13,199.60 254.37,195.20 256.60,195.20 C258.80,195.20 261.00,195.47 263.20,195.50 C271.70,195.63 280.20,195.70 288.70,195.70 Z" fill="#f2f2f2" stroke="none"/>
<path d="M195.90,195.70 C209.27,195.70 222.63,195.69 236.00,195.67 C238.33,195.67 240.67,195.63 243.00,195.63 C245.30,195.63 247.60,196.21 249.90,196.21 C252.13,196.21 254.37,195.63 256.60,195.63 C258.80,195.63 261.00,195.67 263.20,195.67 C271.70,195.69 280.20,195.70 288.70,195.70" fill="none" stroke="#c8c8c8" stroke-width="0.5"/>
<path d="M195.90,195.70 C209.27,195.70 222.63,195.68 236.00,195.65 C238.33,195.64 240.67,195.57 243.00,195.57 C245.30,195.57 247.60,196.71 249.90,196.71 C252.13,196.71 254.37,195.57 256.60,195.57 C258.80,195.57 261.00,195.64 263.20,195.65 C271.70,195.68 280.20,195.70 288.70,195.70" fill="none" stroke="#c8c8c8" stroke-width="0.5"/>
<path d="M195.90,195.70 C209.27,195.70 222.63,195.68 236.00,195.62 C238.33,195.61 240.67,195.50 243.00,195.50 C245.30,195.50 247.60,197.22 249.90,197.22 C252.13,197.22 254.37,195.50 256.60,195.50 C258.80,195.50 261.00,195.61 263.20,195.62 C271.70,195.67 280.20,195.70 288.70,195.70" fill="none" stroke="#c8c8c8" stroke-width="0.5"/>
<path d="M195.90,195.70 C209.27,195.70 222.63,195.67 236.00,195.60 C238.33,195.58 240.67,195.44 243.00,195.44 C245.30,195.44 247.60,197.73 249.90,197.73 C252.13,197.73 254.37,195.44 256.60,195.44 C258.80,195.44 261.00,195.58 263.20,195.60 C271.70,195.66 280.20,195.70 288.70,195.70" fill="none" stroke="#c8c8c8" stroke-width="0.5"/>
<path d="M195.90,195.70 C209.27,195.70 222.63,195.66 236.00,195.57 C238.33,195.55 240.67,195.38 243.00,195.38 C245.30,195.38 247.60,198.23 249.90,198.23 C252.13,198.23 254.37,195.38 256.60,195.38 C258.80,195.38 261.00,195.55 263.20,195.57 C271.70,195.66 280.20,195.70 288.70,195.70" fill="none" stroke="#c8c8c8" stroke-width="0.5"/>
<path d="M195.90,195.70 C209.27,195.70 222.63,195.65 236.00,195.54 C238.33,195.52 240.67,195.31 243.00,195.31 C245.30,195.31 247.60,198.74 249.90,198.74 C252.13,198.74 254.37,195.31 256.60,195.31 C258.80,195.31 261.00,195.52 263.20,195.54 C271.70,195.65 280.20,195.70 288.70,195.70" fill="none" stroke="#c8c8c8" stroke-width="0.5"/>
<path d="M195.90,195.70 C209.27,195.70 222.63,195.65 236.00,195.52 C238.33,195.50 240.67,195.24 243.00,195.24 C245.30,195.24 247.60,199.25 249.90,199.25 C252.13,199.25 254.37,195.24 256.60,195.24 C258.80,195.24 261.00,195.49 263.20,195.52 C271.70,195.64 280.20,195.70 288.70,195.70" fill="none" stroke="#c8c8c8" stroke-width="0.5"/>
<line x1="195.90" y1="195.70" x2="288.70" y2="195.70" stroke="#c8c8c8" stroke-width="1.00" />
<path d="M195.90,195.70 C209.27,195.70 222.63,195.64 236.00,195.50 C238.33,195.48 240.67,195.20 243.00,195.20 C245.30,195.20 247.60,199.60 249.90,199.60 C252.13,199.60 254.37,195.20 256.60,195.20 C258.80,195.20 261.00,195.47 263.20,195.50 C271.70,195.63 280.20,195.70 288.70,195.70" fill="none" stroke="#636363" stroke-width="1.20" stroke-linejoin="round"/>
<text x="197.20" y="193.20" font-size="7.30" fill="#9a9a9a" text-anchor="start" font-weight="normal"  stroke="#9a9a9a" stroke-width="0.13">RF</text>
<line x1="193.20" y1="191.20" x2="193.20" y2="203.50" stroke="#222" stroke-width="0.90" />
<text x="191.50" y="197.15" font-size="4.70" fill="#222" text-anchor="middle" font-weight="normal" transform="rotate(-90 191.60 197.15)" stroke="#222" stroke-width="0.16">200</text>
<path d="M195.90,219.00 C205.60,219.00 215.30,219.00 225.00,219.00 C225.83,219.00 226.67,217.40 227.50,217.40 C229.43,217.40 231.37,229.90 233.30,229.90 C236.07,229.90 238.83,223.02 241.60,219.90 C243.00,218.32 244.40,217.82 245.80,215.80 C248.17,212.39 250.53,203.60 252.90,203.60 C255.23,203.60 257.57,212.66 259.90,214.90 C262.67,217.56 265.43,217.91 268.20,218.30 C275.03,219.27 281.87,219.00 288.70,219.00 Z" fill="#f2f2f2" stroke="none"/>
<path d="M195.90,219.00 C205.60,219.00 215.30,219.00 225.00,219.00 C225.83,219.00 226.67,218.79 227.50,218.79 C229.43,218.79 231.37,220.42 233.30,220.42 C236.07,220.42 238.83,219.52 241.60,219.12 C243.00,218.91 244.40,218.85 245.80,218.58 C248.17,218.14 250.53,217.00 252.90,217.00 C255.23,217.00 257.57,218.18 259.90,218.47 C262.67,218.81 265.43,218.86 268.20,218.91 C275.03,219.04 281.87,219.00 288.70,219.00" fill="none" stroke="#c8c8c8" stroke-width="0.5"/>
<path d="M195.90,219.00 C205.60,219.00 215.30,219.00 225.00,219.00 C225.83,219.00 226.67,218.58 227.50,218.58 C229.43,218.58 231.37,221.83 233.30,221.83 C236.07,221.83 238.83,220.05 241.60,219.23 C243.00,218.82 244.40,218.69 245.80,218.17 C248.17,217.28 250.53,215.00 252.90,215.00 C255.23,215.00 257.57,217.35 259.90,217.93 C262.67,218.63 265.43,218.72 268.20,218.82 C275.03,219.07 281.87,219.00 288.70,219.00" fill="none" stroke="#c8c8c8" stroke-width="0.5"/>
<path d="M195.90,219.00 C205.60,219.00 215.30,219.00 225.00,219.00 C225.83,219.00 226.67,218.38 227.50,218.38 C229.43,218.38 231.37,223.25 233.30,223.25 C236.07,223.25 238.83,220.57 241.60,219.35 C243.00,218.74 244.40,218.54 245.80,217.75 C248.17,216.42 250.53,212.99 252.90,212.99 C255.23,212.99 257.57,216.53 259.90,217.40 C262.67,218.44 265.43,218.57 268.20,218.73 C275.03,219.11 281.87,219.00 288.70,219.00" fill="none" stroke="#c8c8c8" stroke-width="0.5"/>
<path d="M195.90,219.00 C205.60,219.00 215.30,219.00 225.00,219.00 C225.83,219.00 226.67,218.17 227.50,218.17 C229.43,218.17 231.37,224.67 233.30,224.67 C236.07,224.67 238.83,221.09 241.60,219.47 C243.00,218.65 244.40,218.39 245.80,217.34 C248.17,215.56 250.53,210.99 252.90,210.99 C255.23,210.99 257.57,215.70 259.90,216.87 C262.67,218.25 265.43,218.43 268.20,218.64 C275.03,219.14 281.87,219.00 288.70,219.00" fill="none" stroke="#c8c8c8" stroke-width="0.5"/>
<path d="M195.90,219.00 C205.60,219.00 215.30,219.00 225.00,219.00 C225.83,219.00 226.67,217.96 227.50,217.96 C229.43,217.96 231.37,226.09 233.30,226.09 C236.07,226.09 238.83,221.61 241.60,219.59 C243.00,218.56 244.40,218.23 245.80,216.92 C248.17,214.70 250.53,208.99 252.90,208.99 C255.23,208.99 257.57,214.88 259.90,216.34 C262.67,218.06 265.43,218.29 268.20,218.55 C275.03,219.18 281.87,219.00 288.70,219.00" fill="none" stroke="#c8c8c8" stroke-width="0.5"/>
<path d="M195.90,219.00 C205.60,219.00 215.30,219.00 225.00,219.00 C225.83,219.00 226.67,217.75 227.50,217.75 C229.43,217.75 231.37,227.50 233.30,227.50 C236.07,227.50 238.83,222.14 241.60,219.70 C243.00,218.47 244.40,218.08 245.80,216.50 C248.17,213.84 250.53,206.99 252.90,206.99 C255.23,206.99 257.57,214.05 259.90,215.80 C262.67,217.88 265.43,218.15 268.20,218.45 C275.03,219.21 281.87,219.00 288.70,219.00" fill="none" stroke="#c8c8c8" stroke-width="0.5"/>
<path d="M195.90,219.00 C205.60,219.00 215.30,219.00 225.00,219.00 C225.83,219.00 226.67,217.54 227.50,217.54 C229.43,217.54 231.37,228.92 233.30,228.92 C236.07,228.92 238.83,222.66 241.60,219.82 C243.00,218.38 244.40,217.93 245.80,216.09 C248.17,212.98 250.53,204.99 252.90,204.99 C255.23,204.99 257.57,213.23 259.90,215.27 C262.67,217.69 265.43,218.00 268.20,218.36 C275.03,219.25 281.87,219.00 288.70,219.00" fill="none" stroke="#c8c8c8" stroke-width="0.5"/>
<line x1="195.90" y1="219.00" x2="288.70" y2="219.00" stroke="#c8c8c8" stroke-width="1.00" />
<path d="M195.90,219.00 C205.60,219.00 215.30,219.00 225.00,219.00 C225.83,219.00 226.67,217.40 227.50,217.40 C229.43,217.40 231.37,229.90 233.30,229.90 C236.07,229.90 238.83,223.02 241.60,219.90 C243.00,218.32 244.40,217.82 245.80,215.80 C248.17,212.39 250.53,203.60 252.90,203.60 C255.23,203.60 257.57,212.66 259.90,214.90 C262.67,217.56 265.43,217.91 268.20,218.30 C275.03,219.27 281.87,219.00 288.70,219.00" fill="none" stroke="#636363" stroke-width="1.20" stroke-linejoin="round"/>
<text x="197.20" y="216.50" font-size="7.30" fill="#9a9a9a" text-anchor="start" font-weight="normal"  stroke="#9a9a9a" stroke-width="0.13">ST</text>
<line x1="193.20" y1="215.60" x2="193.20" y2="223.30" stroke="#222" stroke-width="0.90" />
<text x="191.50" y="219.25" font-size="4.70" fill="#222" text-anchor="middle" font-weight="normal" transform="rotate(-90 191.60 219.25)" stroke="#222" stroke-width="0.16">500</text>
<path d="M195.90,234.50 C209.93,234.50 223.97,234.50 238.00,234.50 C243.10,234.50 248.20,238.50 253.30,238.50 C256.87,238.50 260.43,234.50 264.00,234.50 C272.23,234.50 280.47,234.50 288.70,234.50 Z" fill="#f2f2f2" stroke="none"/>
<path d="M195.90,234.50 C209.93,234.50 223.97,234.50 238.00,234.50 C243.10,234.50 248.20,235.02 253.30,235.02 C256.87,235.02 260.43,234.50 264.00,234.50 C272.23,234.50 280.47,234.50 288.70,234.50" fill="none" stroke="#c8c8c8" stroke-width="0.5"/>
<path d="M195.90,234.50 C209.93,234.50 223.97,234.50 238.00,234.50 C243.10,234.50 248.20,235.54 253.30,235.54 C256.87,235.54 260.43,234.50 264.00,234.50 C272.23,234.50 280.47,234.50 288.70,234.50" fill="none" stroke="#c8c8c8" stroke-width="0.5"/>
<path d="M195.90,234.50 C209.93,234.50 223.97,234.50 238.00,234.50 C243.10,234.50 248.20,236.06 253.30,236.06 C256.87,236.06 260.43,234.50 264.00,234.50 C272.23,234.50 280.47,234.50 288.70,234.50" fill="none" stroke="#c8c8c8" stroke-width="0.5"/>
<path d="M195.90,234.50 C209.93,234.50 223.97,234.50 238.00,234.50 C243.10,234.50 248.20,236.58 253.30,236.58 C256.87,236.58 260.43,234.50 264.00,234.50 C272.23,234.50 280.47,234.50 288.70,234.50" fill="none" stroke="#c8c8c8" stroke-width="0.5"/>
<path d="M195.90,234.50 C209.93,234.50 223.97,234.50 238.00,234.50 C243.10,234.50 248.20,237.10 253.30,237.10 C256.87,237.10 260.43,234.50 264.00,234.50 C272.23,234.50 280.47,234.50 288.70,234.50" fill="none" stroke="#c8c8c8" stroke-width="0.5"/>
<path d="M195.90,234.50 C209.93,234.50 223.97,234.50 238.00,234.50 C243.10,234.50 248.20,237.62 253.30,237.62 C256.87,237.62 260.43,234.50 264.00,234.50 C272.23,234.50 280.47,234.50 288.70,234.50" fill="none" stroke="#c8c8c8" stroke-width="0.5"/>
<path d="M195.90,234.50 C209.93,234.50 223.97,234.50 238.00,234.50 C243.10,234.50 248.20,238.14 253.30,238.14 C256.87,238.14 260.43,234.50 264.00,234.50 C272.23,234.50 280.47,234.50 288.70,234.50" fill="none" stroke="#c8c8c8" stroke-width="0.5"/>
<line x1="195.90" y1="234.50" x2="288.70" y2="234.50" stroke="#c8c8c8" stroke-width="1.00" />
<path d="M195.90,234.50 C209.93,234.50 223.97,234.50 238.00,234.50 C243.10,234.50 248.20,238.50 253.30,238.50 C256.87,238.50 260.43,234.50 264.00,234.50 C272.23,234.50 280.47,234.50 288.70,234.50" fill="none" stroke="#636363" stroke-width="1.20" stroke-linejoin="round"/>
<text x="197.20" y="232.00" font-size="7.30" fill="#9a9a9a" text-anchor="start" font-weight="normal"  stroke="#9a9a9a" stroke-width="0.13">VL</text>
<line x1="193.20" y1="231.80" x2="193.20" y2="240.00" stroke="#222" stroke-width="0.90" />
<text x="191.50" y="235.70" font-size="4.70" fill="#222" text-anchor="middle" font-weight="normal" transform="rotate(-90 191.60 235.70)" stroke="#222" stroke-width="0.16">250</text>
<path d="M195.90,255.50 C210.80,255.50 225.70,255.50 240.60,255.50 C243.90,255.50 247.20,256.88 250.50,256.88 C252.47,256.88 254.43,256.05 256.40,255.40 C258.03,254.85 259.67,253.29 261.30,253.29 C263.27,253.29 265.23,255.09 267.20,255.59 C268.50,255.92 269.80,255.77 271.10,255.77 C273.73,255.77 276.37,255.50 279.00,255.50 C282.23,255.50 285.47,255.50 288.70,255.50" fill="none" stroke="#a8e0cf" stroke-width="0.5"/>
<path d="M195.90,255.50 C210.80,255.50 225.70,255.50 240.60,255.50 C243.90,255.50 247.20,258.26 250.50,258.26 C252.47,258.26 254.43,256.60 256.40,255.29 C258.03,254.21 259.67,251.08 261.30,251.08 C263.27,251.08 265.23,254.69 267.20,255.68 C268.50,256.34 269.80,256.05 271.10,256.05 C273.73,256.05 276.37,255.50 279.00,255.50 C282.23,255.50 285.47,255.50 288.70,255.50" fill="none" stroke="#a8e0cf" stroke-width="0.5"/>
<path d="M195.90,255.50 C210.80,255.50 225.70,255.50 240.60,255.50 C243.90,255.50 247.20,259.63 250.50,259.63 C252.47,259.63 254.43,257.15 256.40,255.19 C258.03,253.56 259.67,248.87 261.30,248.87 C263.27,248.87 265.23,254.28 267.20,255.77 C268.50,256.76 269.80,256.32 271.10,256.32 C273.73,256.32 276.37,255.50 279.00,255.50 C282.23,255.50 285.47,255.50 288.70,255.50" fill="none" stroke="#a8e0cf" stroke-width="0.5"/>
<path d="M195.90,255.50 C210.80,255.50 225.70,255.50 240.60,255.50 C243.90,255.50 247.20,261.01 250.50,261.01 C252.47,261.01 254.43,257.70 256.40,255.08 C258.03,252.91 259.67,246.66 261.30,246.66 C263.27,246.66 265.23,253.87 267.20,255.86 C268.50,257.18 269.80,256.59 271.10,256.59 C273.73,256.59 276.37,255.50 279.00,255.50 C282.23,255.50 285.47,255.50 288.70,255.50" fill="none" stroke="#a8e0cf" stroke-width="0.5"/>
<path d="M195.90,255.50 C210.80,255.50 225.70,255.50 240.60,255.50 C243.90,255.50 247.20,262.39 250.50,262.39 C252.47,262.39 254.43,258.25 256.40,254.98 C258.03,252.27 259.67,244.45 261.30,244.45 C263.27,244.45 265.23,253.46 267.20,255.95 C268.50,257.60 269.80,256.87 271.10,256.87 C273.73,256.87 276.37,255.50 279.00,255.50 C282.23,255.50 285.47,255.50 288.70,255.50" fill="none" stroke="#a8e0cf" stroke-width="0.5"/>
<path d="M195.90,255.50 C210.80,255.50 225.70,255.50 240.60,255.50 C243.90,255.50 247.20,263.77 250.50,263.77 C252.47,263.77 254.43,258.80 256.40,254.88 C258.03,251.62 259.67,242.24 261.30,242.24 C263.27,242.24 265.23,253.06 267.20,256.05 C268.50,258.02 269.80,257.14 271.10,257.14 C273.73,257.14 276.37,255.50 279.00,255.50 C282.23,255.50 285.47,255.50 288.70,255.50" fill="none" stroke="#a8e0cf" stroke-width="0.5"/>
<path d="M195.90,255.50 C210.80,255.50 225.70,255.50 240.60,255.50 C243.90,255.50 247.20,265.15 250.50,265.15 C252.47,265.15 254.43,259.35 256.40,254.77 C258.03,250.97 259.67,240.03 261.30,240.03 C263.27,240.03 265.23,252.65 267.20,256.14 C268.50,258.44 269.80,257.41 271.10,257.41 C273.73,257.41 276.37,255.50 279.00,255.50 C282.23,255.50 285.47,255.50 288.70,255.50" fill="none" stroke="#a8e0cf" stroke-width="0.5"/>
<line x1="195.90" y1="255.50" x2="288.70" y2="255.50" stroke="#a8e0cf" stroke-width="1.00" />
<path d="M195.90,255.50 C210.80,255.50 225.70,255.50 240.60,255.50 C243.90,255.50 247.20,266.10 250.50,266.10 C252.47,266.10 254.43,259.73 256.40,254.70 C258.03,250.53 259.67,238.50 261.30,238.50 C263.27,238.50 265.23,252.37 267.20,256.20 C268.50,258.73 269.80,257.60 271.10,257.60 C273.73,257.60 276.37,255.50 279.00,255.50 C282.23,255.50 285.47,255.50 288.70,255.50" fill="none" stroke="#3dbd9b" stroke-width="1.20" stroke-linejoin="round"/>
<text x="197.20" y="253.00" font-size="7.30" fill="#3dbd9b" text-anchor="start" font-weight="bold"  stroke="#3dbd9b" stroke-width="0.25">TA</text>
<line x1="193.20" y1="252.90" x2="193.20" y2="261.20" stroke="#222" stroke-width="0.90" />
<text x="191.50" y="256.85" font-size="4.70" fill="#222" text-anchor="middle" font-weight="normal" transform="rotate(-90 191.60 256.85)" stroke="#222" stroke-width="0.16">100</text>
<path d="M195.90,278.40 C209.93,278.40 223.97,278.40 238.00,278.40 C240.40,278.40 242.80,279.02 245.20,279.02 C249.40,279.02 253.60,276.33 257.80,276.33 C259.93,276.33 262.07,280.73 264.20,280.73 C265.30,280.73 266.40,279.65 267.50,279.26 C268.50,278.91 269.50,278.49 270.50,278.50 C272.33,278.53 274.17,278.40 276.00,278.40 C280.23,278.40 284.47,278.40 288.70,278.40" fill="none" stroke="#9ccfdd" stroke-width="0.5"/>
<path d="M195.90,278.40 C209.93,278.40 223.97,278.40 238.00,278.40 C240.40,278.40 242.80,279.65 245.20,279.65 C249.40,279.65 253.60,274.27 257.80,274.27 C259.93,274.27 262.07,283.05 264.20,283.05 C265.30,283.05 266.40,280.89 267.50,280.12 C268.50,279.41 269.50,278.58 270.50,278.61 C272.33,278.66 274.17,278.40 276.00,278.40 C280.23,278.40 284.47,278.40 288.70,278.40" fill="none" stroke="#9ccfdd" stroke-width="0.5"/>
<path d="M195.90,278.40 C209.93,278.40 223.97,278.40 238.00,278.40 C240.40,278.40 242.80,280.27 245.20,280.27 C249.40,280.27 253.60,272.20 257.80,272.20 C259.93,272.20 262.07,285.38 264.20,285.38 C265.30,285.38 266.40,282.14 267.50,280.97 C268.50,279.92 269.50,278.67 270.50,278.71 C272.33,278.78 274.17,278.40 276.00,278.40 C280.23,278.40 284.47,278.40 288.70,278.40" fill="none" stroke="#9ccfdd" stroke-width="0.5"/>
<path d="M195.90,278.40 C209.93,278.40 223.97,278.40 238.00,278.40 C240.40,278.40 242.80,280.90 245.20,280.90 C249.40,280.90 253.60,270.13 257.80,270.13 C259.93,270.13 262.07,287.71 264.20,287.71 C265.30,287.71 266.40,283.38 267.50,281.83 C268.50,280.42 269.50,278.76 270.50,278.82 C272.33,278.91 274.17,278.40 276.00,278.40 C280.23,278.40 284.47,278.40 288.70,278.40" fill="none" stroke="#9ccfdd" stroke-width="0.5"/>
<path d="M195.90,278.40 C209.93,278.40 223.97,278.40 238.00,278.40 C240.40,278.40 242.80,281.52 245.20,281.52 C249.40,281.52 253.60,268.06 257.80,268.06 C259.93,268.06 262.07,290.04 264.20,290.04 C265.30,290.04 266.40,284.63 267.50,282.69 C268.50,280.93 269.50,278.85 270.50,278.92 C272.33,279.04 274.17,278.40 276.00,278.40 C280.23,278.40 284.47,278.40 288.70,278.40" fill="none" stroke="#9ccfdd" stroke-width="0.5"/>
<path d="M195.90,278.40 C209.93,278.40 223.97,278.40 238.00,278.40 C240.40,278.40 242.80,282.14 245.20,282.14 C249.40,282.14 253.60,266.00 257.80,266.00 C259.93,266.00 262.07,292.36 264.20,292.36 C265.30,292.36 266.40,285.88 267.50,283.55 C268.50,281.43 269.50,278.95 270.50,279.02 C272.33,279.17 274.17,278.40 276.00,278.40 C280.23,278.40 284.47,278.40 288.70,278.40" fill="none" stroke="#9ccfdd" stroke-width="0.5"/>
<path d="M195.90,278.40 C209.93,278.40 223.97,278.40 238.00,278.40 C240.40,278.40 242.80,282.77 245.20,282.77 C249.40,282.77 253.60,263.93 257.80,263.93 C259.93,263.93 262.07,294.69 264.20,294.69 C265.30,294.69 266.40,287.12 267.50,284.41 C268.50,281.94 269.50,279.04 270.50,279.13 C272.33,279.29 274.17,278.40 276.00,278.40 C280.23,278.40 284.47,278.40 288.70,278.40" fill="none" stroke="#9ccfdd" stroke-width="0.5"/>
<line x1="195.90" y1="278.40" x2="288.70" y2="278.40" stroke="#9ccfdd" stroke-width="1.00" />
<path d="M195.90,278.40 C209.93,278.40 223.97,278.40 238.00,278.40 C240.40,278.40 242.80,283.20 245.20,283.20 C249.40,283.20 253.60,262.50 257.80,262.50 C259.93,262.50 262.07,296.30 264.20,296.30 C265.30,296.30 266.40,287.99 267.50,285.00 C268.50,282.29 269.50,279.10 270.50,279.20 C272.33,279.38 274.17,278.40 276.00,278.40 C280.23,278.40 284.47,278.40 288.70,278.40" fill="none" stroke="#1a8fae" stroke-width="1.20" stroke-linejoin="round"/>
<text x="197.20" y="275.90" font-size="7.30" fill="#1a8fae" text-anchor="start" font-weight="bold"  stroke="#1a8fae" stroke-width="0.25">MG</text>
<line x1="193.20" y1="275.00" x2="193.20" y2="284.60" stroke="#222" stroke-width="0.90" />
<text x="191.50" y="279.60" font-size="4.70" fill="#222" text-anchor="middle" font-weight="normal" transform="rotate(-90 191.60 279.60)" stroke="#222" stroke-width="0.16">500</text>
<path d="M195.90,314.60 C211.93,314.60 227.97,314.60 244.00,314.60 C245.70,314.60 247.40,314.38 249.10,314.38 C251.17,314.38 253.23,315.59 255.30,315.59 C258.20,315.59 261.10,312.40 264.00,312.40 C266.07,312.40 268.13,316.04 270.20,316.04 C272.87,316.04 275.53,315.25 278.20,315.03 C281.47,314.76 284.73,314.60 288.00,314.60 C288.23,314.60 288.47,314.60 288.70,314.60" fill="none" stroke="#e6e0a0" stroke-width="0.5"/>
<path d="M195.90,314.60 C211.93,314.60 227.97,314.60 244.00,314.60 C245.70,314.60 247.40,314.16 249.10,314.16 C251.17,314.16 253.23,316.58 255.30,316.58 C258.20,316.58 261.10,310.21 264.00,310.21 C266.07,310.21 268.13,317.49 270.20,317.49 C272.87,317.49 275.53,315.89 278.20,315.46 C281.47,314.93 284.73,314.60 288.00,314.60 C288.23,314.60 288.47,314.60 288.70,314.60" fill="none" stroke="#e6e0a0" stroke-width="0.5"/>
<path d="M195.90,314.60 C211.93,314.60 227.97,314.60 244.00,314.60 C245.70,314.60 247.40,313.94 249.10,313.94 C251.17,313.94 253.23,317.56 255.30,317.56 C258.20,317.56 261.10,308.01 264.00,308.01 C266.07,308.01 268.13,318.93 270.20,318.93 C272.87,318.93 275.53,316.54 278.20,315.89 C281.47,315.09 284.73,314.60 288.00,314.60 C288.23,314.60 288.47,314.60 288.70,314.60" fill="none" stroke="#e6e0a0" stroke-width="0.5"/>
<path d="M195.90,314.60 C211.93,314.60 227.97,314.60 244.00,314.60 C245.70,314.60 247.40,313.72 249.10,313.72 C251.17,313.72 253.23,318.55 255.30,318.55 C258.20,318.55 261.10,305.81 264.00,305.81 C266.07,305.81 268.13,320.37 270.20,320.37 C272.87,320.37 275.53,317.18 278.20,316.32 C281.47,315.26 284.73,314.60 288.00,314.60 C288.23,314.60 288.47,314.60 288.70,314.60" fill="none" stroke="#e6e0a0" stroke-width="0.5"/>
<path d="M195.90,314.60 C211.93,314.60 227.97,314.60 244.00,314.60 C245.70,314.60 247.40,313.50 249.10,313.50 C251.17,313.50 253.23,319.54 255.30,319.54 C258.20,319.54 261.10,303.62 264.00,303.62 C266.07,303.62 268.13,321.81 270.20,321.81 C272.87,321.81 275.53,317.83 278.20,316.75 C281.47,315.42 284.73,314.60 288.00,314.60 C288.23,314.60 288.47,314.60 288.70,314.60" fill="none" stroke="#e6e0a0" stroke-width="0.5"/>
<path d="M195.90,314.60 C211.93,314.60 227.97,314.60 244.00,314.60 C245.70,314.60 247.40,313.27 249.10,313.27 C251.17,313.27 253.23,320.53 255.30,320.53 C258.20,320.53 261.10,301.42 264.00,301.42 C266.07,301.42 268.13,323.26 270.20,323.26 C272.87,323.26 275.53,318.47 278.20,317.17 C281.47,315.59 284.73,314.60 288.00,314.60 C288.23,314.60 288.47,314.60 288.70,314.60" fill="none" stroke="#e6e0a0" stroke-width="0.5"/>
<path d="M195.90,314.60 C211.93,314.60 227.97,314.60 244.00,314.60 C245.70,314.60 247.40,313.05 249.10,313.05 C251.17,313.05 253.23,321.52 255.30,321.52 C258.20,321.52 261.10,299.22 264.00,299.22 C266.07,299.22 268.13,324.70 270.20,324.70 C272.87,324.70 275.53,319.12 278.20,317.60 C281.47,315.75 284.73,314.60 288.00,314.60 C288.23,314.60 288.47,314.60 288.70,314.60" fill="none" stroke="#e6e0a0" stroke-width="0.5"/>
<line x1="195.90" y1="314.60" x2="288.70" y2="314.60" stroke="#e6e0a0" stroke-width="1.00" />
<path d="M195.90,314.60 C211.93,314.60 227.97,314.60 244.00,314.60 C245.70,314.60 247.40,312.90 249.10,312.90 C251.17,312.90 253.23,322.20 255.30,322.20 C258.20,322.20 261.10,297.70 264.00,297.70 C266.07,297.70 268.13,325.70 270.20,325.70 C272.87,325.70 275.53,319.56 278.20,317.90 C281.47,315.86 284.73,314.60 288.00,314.60 C288.23,314.60 288.47,314.60 288.70,314.60" fill="none" stroke="#c9c22a" stroke-width="1.20" stroke-linejoin="round"/>
<text x="197.20" y="312.10" font-size="7.30" fill="#c9c22a" text-anchor="start" font-weight="bold"  stroke="#c9c22a" stroke-width="0.25">SL</text>
<line x1="193.20" y1="309.50" x2="193.20" y2="321.90" stroke="#222" stroke-width="0.90" />
<text x="191.50" y="315.50" font-size="4.70" fill="#222" text-anchor="middle" font-weight="normal" transform="rotate(-90 191.60 315.50)" stroke="#222" stroke-width="0.16">250 µV</text>
<path d="M82.50,18.80 V17.50 H122.00 M140.50,17.50 H177.60 V18.80" fill="none" stroke="#111" stroke-width="0.9"/>
<text x="131.25" y="19.50" font-size="6.50" fill="#111" text-anchor="middle" font-weight="normal" textLength="16.9" lengthAdjust="spacingAndGlyphs" stroke="#111" stroke-width="0.22">left leg</text>
<path d="M193.00,18.80 V17.50 H231.30 M252.70,17.50 H288.50 V18.80" fill="none" stroke="#111" stroke-width="0.9"/>
<text x="242.00" y="19.50" font-size="6.50" fill="#111" text-anchor="middle" font-weight="normal" textLength="19.8" lengthAdjust="spacingAndGlyphs" stroke="#111" stroke-width="0.22">right leg</text>
<path d="M82.20,181.80 V180.50 H122.00 M140.50,180.50 H177.80 V181.80" fill="none" stroke="#111" stroke-width="0.9"/>
<text x="131.25" y="182.50" font-size="6.50" fill="#111" text-anchor="middle" font-weight="normal" textLength="16.9" lengthAdjust="spacingAndGlyphs" stroke="#111" stroke-width="0.22">left leg</text>
<path d="M192.60,181.80 V180.50 H231.50 M252.90,180.50 H288.40 V181.80" fill="none" stroke="#111" stroke-width="0.9"/>
<text x="242.20" y="182.50" font-size="6.50" fill="#111" text-anchor="middle" font-weight="normal" textLength="19.8" lengthAdjust="spacingAndGlyphs" stroke="#111" stroke-width="0.22">right leg</text>
<line x1="85.00" y1="135.20" x2="104.50" y2="135.20" stroke="#111" stroke-width="0.80" />
<text x="85.30" y="141.20" font-size="4.60" fill="#111" text-anchor="start" font-weight="normal"  stroke="#111" stroke-width="0.16">5 ms</text>
<line x1="195.90" y1="135.20" x2="215.20" y2="135.20" stroke="#111" stroke-width="0.80" />
<text x="196.20" y="141.20" font-size="4.60" fill="#111" text-anchor="start" font-weight="normal"  stroke="#111" stroke-width="0.16">5 ms</text>
<line x1="85.70" y1="322.00" x2="99.00" y2="322.00" stroke="#111" stroke-width="0.80" />
<text x="85.90" y="328.20" font-size="4.60" fill="#111" text-anchor="start" font-weight="normal"  stroke="#111" stroke-width="0.16">5 ms</text>
<line x1="196.60" y1="322.00" x2="210.50" y2="322.00" stroke="#111" stroke-width="0.80" />
<text x="196.80" y="328.20" font-size="4.60" fill="#111" text-anchor="start" font-weight="normal"  stroke="#111" stroke-width="0.16">5 ms</text>
<path d="M10.85,17.10 L54.15,17.10 Q55.50,26.10 55.05,30.60 L53.25,47.10 L9.50,47.10 L9.05,30.60 Q9.50,26.10 10.85,17.10 Z" fill="url(#torsog)"/>
<path d="M17.39,23.70 Q17.09,36.60 16.79,47.10 L18.69,47.10 Q17.99,36.60 17.59,23.70 Z" fill="#f6f6f6"/>
<path d="M47.16,23.70 Q47.46,36.60 47.76,47.10 L45.86,47.10 Q46.56,36.60 46.96,23.70 Z" fill="#f6f6f6"/>
<path d="M20.77,21.60 Q23.03,35.10 20.32,47.10 M43.33,21.60 Q41.07,35.10 43.78,47.10" fill="none" stroke="#c9c9c9" stroke-width="0.5"/>
<rect x="29.6" y="27.5" width="5.8" height="9.5" rx="1.3" fill="url(#purp)"/>
<path d="M11.71,179.80 L50.40,179.80 Q51.61,189.10 51.20,193.75 L49.59,210.80 L10.50,210.80 L10.10,193.75 Q10.50,189.10 11.71,179.80 Z" fill="url(#torsog2)"/>
<path d="M17.55,186.62 Q17.25,199.95 16.95,210.80 L18.85,210.80 Q18.15,199.95 17.75,186.62 Z" fill="#f6f6f6"/>
<path d="M44.15,186.62 Q44.45,199.95 44.75,210.80 L42.85,210.80 Q43.55,199.95 43.95,186.62 Z" fill="#f6f6f6"/>
<path d="M20.57,184.45 Q22.59,198.40 20.17,210.80 M40.72,184.45 Q38.71,198.40 41.13,210.80" fill="none" stroke="#c9c9c9" stroke-width="0.5"/>
<circle cx="31.00" cy="190.00" r="1.45" fill="#8a8a8a"/>
<circle cx="31.00" cy="194.20" r="1.45" fill="#8a8a8a"/>
<circle cx="31.00" cy="198.70" r="1.45" fill="#8a8a8a"/>
<circle cx="36.40" cy="190.00" r="1.45" fill="#8a8a8a"/>
<circle cx="36.40" cy="194.20" r="1.45" fill="#8a8a8a"/>
<circle cx="36.4" cy="198.7" r="1.7" fill="#39b86a"/><circle cx="36.0" cy="198.0" r="0.8" fill="#b8d840"/>
<path d="M12.10,79.70 Q8.80,85.00 9.10,95.50 Q9.90,97.50 10.90,95.00 Q11.30,85.00 12.10,79.70 Z" fill="#d0d0d0"/>
<path d="M29.30,79.70 Q32.60,85.00 32.30,95.50 Q31.50,97.50 30.50,95.00 Q30.10,85.00 29.30,79.70 Z" fill="#d0d0d0"/>
<path d="M13.10,80.20 C14.52,79.35 18.17,79.90 20.70,79.90 C23.23,79.90 26.88,79.35 28.30,80.20 C29.72,81.05 29.03,83.37 29.20,85.00 C29.37,86.63 29.35,88.00 29.30,90.00 C29.25,92.00 29.12,94.67 28.90,97.00 C28.68,99.33 28.37,101.83 28.00,104.00 C27.63,106.17 26.90,108.00 26.70,110.00 C26.50,112.00 27.00,113.17 26.80,116.00 C26.60,118.83 25.90,124.33 25.50,127.00 C25.10,129.67 24.60,130.58 24.40,132.00 C24.20,133.42 24.68,134.83 24.30,135.50 C23.92,136.17 22.50,136.75 22.10,136.00 C21.70,135.25 21.92,134.00 21.90,131.00 C21.88,128.00 22.00,121.50 22.00,118.00 C22.00,114.50 22.02,112.83 21.90,110.00 C21.78,107.17 21.50,103.33 21.30,101.00 C21.10,98.67 20.90,96.00 20.70,96.00 C20.50,96.00 20.30,98.67 20.10,101.00 C19.90,103.33 19.62,107.17 19.50,110.00 C19.38,112.83 19.40,114.50 19.40,118.00 C19.40,121.50 19.52,128.00 19.50,131.00 C19.48,134.00 19.70,135.25 19.30,136.00 C18.90,136.75 17.48,136.17 17.10,135.50 C16.72,134.83 17.20,133.42 17.00,132.00 C16.80,130.58 16.30,129.67 15.90,127.00 C15.50,124.33 14.80,118.83 14.60,116.00 C14.40,113.17 14.90,112.00 14.70,110.00 C14.50,108.00 13.77,106.17 13.40,104.00 C13.03,101.83 12.72,99.33 12.50,97.00 C12.28,94.67 12.15,92.00 12.10,90.00 C12.05,88.00 12.03,86.63 12.20,85.00 C12.37,83.37 11.68,81.05 13.10,80.20 Z" fill="url(#legg)" stroke="#c4c4c4" stroke-width="0.35"/>
<path d="M41.80,80.20 Q38.50,85.50 38.80,96.00 Q39.60,98.00 40.60,95.50 Q41.00,85.50 41.80,80.20 Z" fill="#d0d0d0"/>
<path d="M59.00,80.20 Q62.30,85.50 62.00,96.00 Q61.20,98.00 60.20,95.50 Q59.80,85.50 59.00,80.20 Z" fill="#d0d0d0"/>
<path d="M42.80,80.70 C44.22,79.85 47.87,80.40 50.40,80.40 C52.93,80.40 56.58,79.85 58.00,80.70 C59.42,81.55 58.73,83.87 58.90,85.50 C59.07,87.13 59.05,88.50 59.00,90.50 C58.95,92.50 58.82,95.17 58.60,97.50 C58.38,99.83 58.07,102.33 57.70,104.50 C57.33,106.67 56.60,108.50 56.40,110.50 C56.20,112.50 56.70,113.67 56.50,116.50 C56.30,119.33 55.60,124.83 55.20,127.50 C54.80,130.17 54.30,131.08 54.10,132.50 C53.90,133.92 54.38,135.33 54.00,136.00 C53.62,136.67 52.20,137.25 51.80,136.50 C51.40,135.75 51.62,134.50 51.60,131.50 C51.58,128.50 51.70,122.00 51.70,118.50 C51.70,115.00 51.72,113.33 51.60,110.50 C51.48,107.67 51.20,103.83 51.00,101.50 C50.80,99.17 50.60,96.50 50.40,96.50 C50.20,96.50 50.00,99.17 49.80,101.50 C49.60,103.83 49.32,107.67 49.20,110.50 C49.08,113.33 49.10,115.00 49.10,118.50 C49.10,122.00 49.22,128.50 49.20,131.50 C49.18,134.50 49.40,135.75 49.00,136.50 C48.60,137.25 47.18,136.67 46.80,136.00 C46.42,135.33 46.90,133.92 46.70,132.50 C46.50,131.08 46.00,130.17 45.60,127.50 C45.20,124.83 44.50,119.33 44.30,116.50 C44.10,113.67 44.60,112.50 44.40,110.50 C44.20,108.50 43.47,106.67 43.10,104.50 C42.73,102.33 42.42,99.83 42.20,97.50 C41.98,95.17 41.85,92.50 41.80,90.50 C41.75,88.50 41.73,87.13 41.90,85.50 C42.07,83.87 41.38,81.55 42.80,80.70 Z" fill="url(#legg)" stroke="#c4c4c4" stroke-width="0.35"/>
<path d="M42.90,93.50 Q46.90,97.00 50.40,95.00 Q53.90,97.00 57.90,93.50 M50.40,83.50 V95.00" fill="none" stroke="#bcbcbc" stroke-width="0.45"/>
<path d="M12.9,89.8 Q13.6,100 15.6,110.0 L18.1,109.6 Q18.6,99 16.2,90.6 Z" fill="#5a8dd6"/>
<path d="M28.5,89.8 Q27.8,100 25.8,110.0 L23.3,109.6 Q22.8,99 25.2,90.6 Z" fill="#5a8dd6"/>
<path d="M13.8,100 Q14.6,106 15.8,110.0" fill="none" stroke="#8cc4ee" stroke-width="0.8"/>
<path d="M27.6,100 Q26.8,106 25.6,110.0" fill="none" stroke="#8cc4ee" stroke-width="0.8"/>
<path d="M14.6,114.2 L15.8,114.0 L18.4,130 L17.5,130.3 Z" fill="#45c1a0"/>
<path d="M26.8,114.2 L25.6,114.0 L23.0,130 L23.9,130.3 Z" fill="#45c1a0"/>
<path d="M46.6,96.5 L48.9,96.2 L49.6,113.5 L47.8,113.5 Z" fill="#3fb3df"/>
<path d="M54.2,96.5 L51.9,96.2 L51.2,113.5 L53.0,113.5 Z" fill="#3fb3df"/>
<path d="M47.8,113.5 L49.6,113.5 L49.9,121 L48.5,121 Z" fill="#1a8ca3"/>
<path d="M53.0,113.5 L51.2,113.5 L50.9,121 L52.3,121 Z" fill="#1a8ca3"/>
<path d="M49.3,122.5 L50.0,122.5 L49.9,130.7 L49.3,130.7 Z M51.6,122.5 L52.3,122.5 L52.2,130.7 L51.6,130.7 Z" fill="#d0c830"/>
<path d="M8.80,265.61 Q5.50,270.72 5.80,280.86 Q6.60,282.79 7.60,280.38 Q8.00,270.72 8.80,265.61 Z" fill="#c4c4c4"/>
<path d="M26.00,265.61 Q29.30,270.72 29.00,280.86 Q28.20,282.79 27.20,280.38 Q26.80,270.72 26.00,265.61 Z" fill="#c4c4c4"/>
<path d="M9.80,266.09 C11.22,265.27 14.87,265.80 17.40,265.80 C19.93,265.80 23.58,265.27 25.00,266.09 C26.42,266.91 25.73,269.15 25.90,270.72 C26.07,272.30 26.05,273.62 26.00,275.55 C25.95,277.48 25.82,280.05 25.60,282.30 C25.38,284.56 25.07,286.97 24.70,289.06 C24.33,291.15 23.60,292.92 23.40,294.85 C23.20,296.78 23.70,297.91 23.50,300.64 C23.30,303.37 22.60,308.68 22.20,311.25 C21.80,313.83 21.30,314.71 21.10,316.08 C20.90,317.45 21.38,318.81 21.00,319.46 C20.62,320.10 19.20,320.66 18.80,319.94 C18.40,319.22 18.62,318.01 18.60,315.11 C18.58,312.22 18.70,305.95 18.70,302.57 C18.70,299.19 18.72,297.58 18.60,294.85 C18.48,292.12 18.20,288.42 18.00,286.16 C17.80,283.91 17.60,281.34 17.40,281.34 C17.20,281.34 17.00,283.91 16.80,286.16 C16.60,288.42 16.32,292.12 16.20,294.85 C16.08,297.58 16.10,299.19 16.10,302.57 C16.10,305.95 16.22,312.22 16.20,315.11 C16.18,318.01 16.40,319.22 16.00,319.94 C15.60,320.66 14.18,320.10 13.80,319.46 C13.42,318.81 13.90,317.45 13.70,316.08 C13.50,314.71 13.00,313.83 12.60,311.25 C12.20,308.68 11.50,303.37 11.30,300.64 C11.10,297.91 11.60,296.78 11.40,294.85 C11.20,292.92 10.47,291.15 10.10,289.06 C9.73,286.97 9.42,284.56 9.20,282.30 C8.98,280.05 8.85,277.48 8.80,275.55 C8.75,273.62 8.73,272.30 8.90,270.72 C9.07,269.15 8.38,266.91 9.80,266.09 Z" fill="url(#legg2)" stroke="#c4c4c4" stroke-width="0.35"/>
<path d="M37.80,265.61 Q34.50,270.72 34.80,280.86 Q35.60,282.79 36.60,280.38 Q37.00,270.72 37.80,265.61 Z" fill="#c4c4c4"/>
<path d="M55.00,265.61 Q58.30,270.72 58.00,280.86 Q57.20,282.79 56.20,280.38 Q55.80,270.72 55.00,265.61 Z" fill="#c4c4c4"/>
<path d="M38.80,266.09 C40.22,265.27 43.87,265.80 46.40,265.80 C48.93,265.80 52.58,265.27 54.00,266.09 C55.42,266.91 54.73,269.15 54.90,270.72 C55.07,272.30 55.05,273.62 55.00,275.55 C54.95,277.48 54.82,280.05 54.60,282.30 C54.38,284.56 54.07,286.97 53.70,289.06 C53.33,291.15 52.60,292.92 52.40,294.85 C52.20,296.78 52.70,297.91 52.50,300.64 C52.30,303.37 51.60,308.68 51.20,311.25 C50.80,313.83 50.30,314.71 50.10,316.08 C49.90,317.45 50.38,318.81 50.00,319.46 C49.62,320.10 48.20,320.66 47.80,319.94 C47.40,319.22 47.62,318.01 47.60,315.11 C47.58,312.22 47.70,305.95 47.70,302.57 C47.70,299.19 47.72,297.58 47.60,294.85 C47.48,292.12 47.20,288.42 47.00,286.16 C46.80,283.91 46.60,281.34 46.40,281.34 C46.20,281.34 46.00,283.91 45.80,286.16 C45.60,288.42 45.32,292.12 45.20,294.85 C45.08,297.58 45.10,299.19 45.10,302.57 C45.10,305.95 45.22,312.22 45.20,315.11 C45.18,318.01 45.40,319.22 45.00,319.94 C44.60,320.66 43.18,320.10 42.80,319.46 C42.42,318.81 42.90,317.45 42.70,316.08 C42.50,314.71 42.00,313.83 41.60,311.25 C41.20,308.68 40.50,303.37 40.30,300.64 C40.10,297.91 40.60,296.78 40.40,294.85 C40.20,292.92 39.47,291.15 39.10,289.06 C38.73,286.97 38.42,284.56 38.20,282.30 C37.98,280.05 37.85,277.48 37.80,275.55 C37.75,273.62 37.73,272.30 37.90,270.72 C38.07,269.15 37.38,266.91 38.80,266.09 Z" fill="url(#legg2)" stroke="#c4c4c4" stroke-width="0.35"/>
<path d="M38.90,278.44 Q42.90,281.82 46.40,279.89 Q49.90,281.82 53.90,278.44 M46.40,268.79 V279.89" fill="none" stroke="#bcbcbc" stroke-width="0.45"/>
<path d="M11.6,297.8 L12.9,297.6 L14.6,311.5 L13.6,311.6 Z" fill="#3dbd9b"/>
<path d="M48.0,297.8 L49.8,297.6 L50.0,307.4 L48.6,307.4 Z" fill="#198aa0"/>
<path d="M49.0,308.4 L49.7,308.4 L49.7,318 L49.0,318 Z" fill="#d0c830"/>
<text x="33.30" y="76.30" font-size="7.00" fill="#000" text-anchor="middle" font-weight="normal" textLength="51.8" lengthAdjust="spacingAndGlyphs" stroke="#000" stroke-width="0.24">recorded muscles</text>
<text x="3.20" y="105.30" font-size="7.00" fill="#3b6fbf" text-anchor="start" font-weight="bold"  stroke="#3b6fbf" stroke-width="0.24">RF</text>
<text x="3.20" y="115.80" font-size="7.00" fill="#93cdee" text-anchor="start" font-weight="bold"  stroke="#93cdee" stroke-width="0.24">VL</text>
<text x="3.20" y="128.50" font-size="7.00" fill="#3dbd9b" text-anchor="start" font-weight="bold"  stroke="#3dbd9b" stroke-width="0.24">TA</text>
<text x="59.20" y="108.00" font-size="7.00" fill="#2fb5df" text-anchor="start" font-weight="bold"  stroke="#2fb5df" stroke-width="0.24">ST</text>
<text x="59.20" y="120.80" font-size="7.00" fill="#1a8fae" text-anchor="start" font-weight="bold"  stroke="#1a8fae" stroke-width="0.24">MG</text>
<text x="59.20" y="130.60" font-size="7.00" fill="#c9c22a" text-anchor="start" font-weight="bold"  stroke="#c9c22a" stroke-width="0.24">SL</text>
<text x="33.30" y="253.30" font-size="6.56" fill="#555" text-anchor="middle" font-weight="normal"  stroke="#555" stroke-width="0.11">recorded muscles</text>
<text x="34.3" y="262.1" font-size="6.56" text-anchor="middle"><tspan fill="#2aaeb0" stroke="#2aaeb0" stroke-width="0.24">target </tspan><tspan fill="#6cc48a" stroke="#6cc48a" stroke-width="0.24">mus</tspan><tspan fill="#a8c84a" stroke="#a8c84a" stroke-width="0.24">cles</tspan></text>
<text x="-1" y="308.4" font-size="7.0" font-weight="bold" fill="#3dbd9b" stroke="#3dbd9b" stroke-width="0.24">TA<tspan font-size="4.2" dy="1.5">R</tspan></text>
<text x="53.5" y="305.6" font-size="7.0" font-weight="bold" fill="#1a8fae" stroke="#1a8fae" stroke-width="0.24">MG<tspan font-size="4.2" dy="1.5">R</tspan></text>
<text x="53.5" y="314.4" font-size="7.0" font-weight="bold" fill="#c9c22a" stroke="#c9c22a" stroke-width="0.24">SL<tspan font-size="4.2" dy="1.5">R</tspan></text>
<line x1="317.20" y1="31.10" x2="317.20" y2="122.80" stroke="#111" stroke-width="0.90" />
<line x1="315.00" y1="31.60" x2="317.20" y2="31.60" stroke="#111" stroke-width="0.70" />
<line x1="315.00" y1="54.30" x2="317.20" y2="54.30" stroke="#111" stroke-width="0.70" />
<line x1="315.00" y1="77.00" x2="317.20" y2="77.00" stroke="#111" stroke-width="0.70" />
<line x1="315.00" y1="99.70" x2="317.20" y2="99.70" stroke="#111" stroke-width="0.70" />
<line x1="315.00" y1="122.40" x2="317.20" y2="122.40" stroke="#111" stroke-width="0.70" />
<text x="314.60" y="33.30" font-size="4.90" fill="#000" text-anchor="end" font-weight="normal"  stroke="#000" stroke-width="0.17">100</text>
<text x="314.60" y="124.10" font-size="4.90" fill="#000" text-anchor="end" font-weight="normal"  stroke="#000" stroke-width="0.17">0</text>
<text x="312.40" y="77.30" font-size="6.00" fill="#000" text-anchor="middle" font-weight="normal" textLength="41" lengthAdjust="spacingAndGlyphs" transform="rotate(-90 312.4 77.30)" stroke="#000" stroke-width="0.21">Recruitment (%)</text>
<line x1="318.90" y1="125.30" x2="409.50" y2="125.30" stroke="#111" stroke-width="0.90" />
<line x1="319.20" y1="125.30" x2="319.20" y2="127.00" stroke="#111" stroke-width="0.70" />
<line x1="337.20" y1="125.30" x2="337.20" y2="127.00" stroke="#111" stroke-width="0.70" />
<line x1="355.20" y1="125.30" x2="355.20" y2="127.00" stroke="#111" stroke-width="0.70" />
<line x1="373.20" y1="125.30" x2="373.20" y2="127.00" stroke="#111" stroke-width="0.70" />
<line x1="391.20" y1="125.30" x2="391.20" y2="127.00" stroke="#111" stroke-width="0.70" />
<line x1="409.20" y1="125.30" x2="409.20" y2="127.00" stroke="#111" stroke-width="0.70" />
<text x="319.60" y="132.20" font-size="4.90" fill="#000" text-anchor="middle" font-weight="normal"  stroke="#000" stroke-width="0.17">33</text>
<text x="409.60" y="132.20" font-size="4.90" fill="#000" text-anchor="middle" font-weight="normal"  stroke="#000" stroke-width="0.17">50</text>
<text x="364.70" y="137.50" font-size="6.00" fill="#000" text-anchor="middle" font-weight="normal" textLength="64" lengthAdjust="spacingAndGlyphs" stroke="#000" stroke-width="0.21">Stimulation amplitude (mA)</text>
<line x1="320.70" y1="31.20" x2="329.00" y2="31.20" stroke="#bbb" stroke-width="0.70" />
<line x1="320.70" y1="37.70" x2="329.00" y2="37.70" stroke="#bbb" stroke-width="0.70" stroke-dasharray="1.8,0.8"/>
<text x="331.10" y="33.10" font-size="6.10" fill="#000" text-anchor="start" font-weight="normal" textLength="19.8" lengthAdjust="spacingAndGlyphs" stroke="#000" stroke-width="0.21">right leg</text>
<text x="331.10" y="39.40" font-size="6.10" fill="#000" text-anchor="start" font-weight="normal" textLength="16.7" lengthAdjust="spacingAndGlyphs" stroke="#000" stroke-width="0.21">left leg</text>
<path d="M330.00,122.40 C336.00,113.60 342.00,105.24 348.00,96.00 C353.67,87.27 359.33,76.43 365.00,68.50 C371.20,59.83 377.40,52.54 383.60,46.20 C387.63,42.07 391.67,39.30 395.70,37.10 C400.60,34.43 405.50,33.43 410.40,31.60" fill="none" stroke="#b8b8b8" stroke-width="1.00" stroke-dasharray="4,2.2"/>
<path d="M336.00,122.40 C342.00,114.93 348.00,108.01 354.00,100.00 C359.33,92.88 364.67,84.33 370.00,77.00 C375.33,69.67 380.67,62.44 386.00,56.00 C390.33,50.77 394.67,46.33 399.00,42.00 C402.80,38.20 406.60,35.07 410.40,31.60" fill="none" stroke="#b8b8b8" stroke-width="1.00" stroke-dasharray="4,2.2"/>
<path d="M345.00,122.40 C350.67,114.93 356.33,108.14 362.00,100.00 C367.33,92.34 372.67,83.26 378.00,75.00 C383.00,67.26 388.00,59.12 393.00,52.00 C396.67,46.78 400.33,42.30 404.00,38.00 C406.13,35.50 408.27,33.73 410.40,31.60" fill="none" stroke="#aeaeae" stroke-width="0.90" />
<path d="M350.00,122.40 C355.33,114.93 360.67,107.81 366.00,100.00 C371.00,92.68 376.00,84.76 381.00,77.00 C385.67,69.76 390.33,62.19 395.00,55.00 C398.33,49.86 401.67,45.06 405.00,40.00 C406.80,37.26 408.60,34.40 410.40,31.60" fill="none" stroke="#aeaeae" stroke-width="0.90" />
<path d="M340.00,120.00 C346.00,112.67 352.00,105.94 358.00,98.00 C363.33,90.94 368.67,82.91 374.00,75.00 C379.00,67.58 384.00,58.61 389.00,52.00 C393.33,46.27 397.67,42.13 402.00,38.00 C404.80,35.33 407.60,33.73 410.40,31.60" fill="none" stroke="#b8b8b8" stroke-width="1.00" stroke-dasharray="4,2.2"/>
<path d="M355.00,120.00 C360.00,114.00 365.00,108.67 370.00,102.00 C375.00,95.33 380.00,87.86 385.00,80.00 C389.33,73.19 393.67,65.84 398.00,58.00 C400.67,53.17 403.33,47.68 406.00,42.00 C407.47,38.88 408.93,35.07 410.40,31.60" fill="none" stroke="#aeaeae" stroke-width="0.90" />
<path d="M348.00,114.00 C353.67,106.67 359.33,99.79 365.00,92.00 C370.00,85.12 375.00,77.24 380.00,70.00 C384.67,63.24 389.33,55.89 394.00,50.00 C399.47,43.09 404.93,37.73 410.40,31.60" fill="none" stroke="#aeaeae" stroke-width="0.90" />
<path d="M360.00,118.00 C365.00,112.00 370.00,106.21 375.00,100.00 C379.67,94.21 384.33,89.09 389.00,82.00 C392.67,76.43 396.33,69.54 400.00,62.00 C402.33,57.20 404.67,51.82 407.00,45.00 C408.13,41.69 409.27,36.07 410.40,31.60" fill="none" stroke="#aeaeae" stroke-width="0.90" />
<path d="M365.00,122.40 C370.00,118.27 375.00,115.63 380.00,110.00 C384.00,105.50 388.00,99.27 392.00,92.00 C395.33,85.94 398.67,80.94 402.00,70.00 C404.80,60.81 407.60,44.40 410.40,31.60" fill="none" stroke="#b8b8b8" stroke-width="1.00" stroke-dasharray="4,2.2"/>
<path d="M372.00,122.40 C377.33,117.60 382.67,115.06 388.00,108.00 C391.33,103.59 394.67,97.02 398.00,88.00 C400.33,81.69 402.67,72.61 405.00,62.00 C406.80,53.81 408.60,41.73 410.40,31.60" fill="none" stroke="#b8b8b8" stroke-width="1.00" stroke-dasharray="4,2.2"/>
<path d="M352.00,122.00 C357.33,118.00 362.67,115.16 368.00,110.00 C373.00,105.16 378.00,99.14 383.00,92.00 C387.33,85.81 391.67,78.67 396.00,70.00 C399.00,64.00 402.00,56.00 405.00,48.00 C406.80,43.20 408.60,37.07 410.40,31.60" fill="none" stroke="#aeaeae" stroke-width="0.90" />
<path d="M340.00,122.40 L370.00,122.40 L380.00,84.00 L390.10,70.70 L400.30,81.30 L410.40,31.60" fill="none" stroke="#3dbd9b" stroke-width="1.20" stroke-linejoin="round" />
<path d="M319.20,122.40 L340.20,122.40 L360.30,93.40 L375.30,93.40 L389.80,91.00 L410.40,31.60" fill="none" stroke="#1a8fae" stroke-width="1.20" stroke-linejoin="round" />
<path d="M319.20,122.40 L340.20,122.40 L350.00,104.60 L359.60,103.00 L370.00,122.40 L380.20,101.10 L389.80,104.00 L410.40,31.60" fill="none" stroke="#c9c22a" stroke-width="1.20" stroke-linejoin="round" />
<text x="416.3" y="36.10" font-size="7.2" fill="#c2c2c2" stroke="#c2c2c2" stroke-width="0.12">ST<tspan font-size="4.4" dy="1.5">R</tspan></text>
<text x="416.3" y="45.00" font-size="7.2" fill="#c2c2c2" stroke="#c2c2c2" stroke-width="0.12">ST<tspan font-size="4.4" dy="1.5">L</tspan></text>
<text x="416.3" y="54.60" font-size="7.2" fill="#c2c2c2" stroke="#c2c2c2" stroke-width="0.12">RF<tspan font-size="4.4" dy="1.5">R</tspan></text>
<text x="416.3" y="65.10" font-size="7.2" fill="#c2c2c2" stroke="#c2c2c2" stroke-width="0.12">RF<tspan font-size="4.4" dy="1.5">L</tspan></text>
<text x="416.3" y="75.70" font-size="7.2" fill="#c2c2c2" stroke="#c2c2c2" stroke-width="0.12">VL<tspan font-size="4.4" dy="1.5">R</tspan></text>
<text x="416.3" y="85.60" font-size="7.2" fill="#c2c2c2" stroke="#c2c2c2" stroke-width="0.12">VL<tspan font-size="4.4" dy="1.5">L</tspan></text>
<text x="416.3" y="96.20" font-size="7.2" fill="#c2c2c2" stroke="#c2c2c2" stroke-width="0.12">MG<tspan font-size="4.4" dy="1.5">L</tspan></text>
<text x="416.3" y="106.80" font-size="7.2" fill="#c2c2c2" stroke="#c2c2c2" stroke-width="0.12">TA<tspan font-size="4.4" dy="1.5">L</tspan></text>
<text x="416.3" y="117.30" font-size="7.2" fill="#c2c2c2" stroke="#c2c2c2" stroke-width="0.12">SL<tspan font-size="4.4" dy="1.5">L</tspan></text>
<text x="398.3" y="98.3" font-size="7.0" fill="#3dbd9b" stroke="#3dbd9b" stroke-width="0.24">TA<tspan font-size="4" dy="1.4">R</tspan></text>
<text x="392.3" y="112.1" font-size="7.0" fill="#1a8fae" stroke="#1a8fae" stroke-width="0.24">MG<tspan font-size="4" dy="1.4">R</tspan></text>
<text x="383.8" y="120.5" font-size="7.0" fill="#c9c22a" stroke="#c9c22a" stroke-width="0.24">SL<tspan font-size="4" dy="1.4">R</tspan></text>
<line x1="317.20" y1="221.20" x2="317.20" y2="313.90" stroke="#111" stroke-width="0.90" />
<line x1="315.00" y1="221.70" x2="317.20" y2="221.70" stroke="#111" stroke-width="0.70" />
<line x1="315.00" y1="244.65" x2="317.20" y2="244.65" stroke="#111" stroke-width="0.70" />
<line x1="315.00" y1="267.60" x2="317.20" y2="267.60" stroke="#111" stroke-width="0.70" />
<line x1="315.00" y1="290.55" x2="317.20" y2="290.55" stroke="#111" stroke-width="0.70" />
<line x1="315.00" y1="313.50" x2="317.20" y2="313.50" stroke="#111" stroke-width="0.70" />
<text x="314.60" y="223.40" font-size="4.90" fill="#000" text-anchor="end" font-weight="normal"  stroke="#000" stroke-width="0.17">100</text>
<text x="314.60" y="315.20" font-size="4.90" fill="#000" text-anchor="end" font-weight="normal"  stroke="#000" stroke-width="0.17">0</text>
<text x="312.40" y="267.90" font-size="6.00" fill="#000" text-anchor="middle" font-weight="normal" textLength="41" lengthAdjust="spacingAndGlyphs" transform="rotate(-90 312.4 267.90)" stroke="#000" stroke-width="0.21">Recruitment (%)</text>
<line x1="318.80" y1="315.70" x2="411.70" y2="315.70" stroke="#111" stroke-width="0.90" />
<line x1="319.10" y1="315.70" x2="319.10" y2="317.40" stroke="#111" stroke-width="0.70" />
<line x1="337.56" y1="315.70" x2="337.56" y2="317.40" stroke="#111" stroke-width="0.70" />
<line x1="356.02" y1="315.70" x2="356.02" y2="317.40" stroke="#111" stroke-width="0.70" />
<line x1="374.48" y1="315.70" x2="374.48" y2="317.40" stroke="#111" stroke-width="0.70" />
<line x1="392.94" y1="315.70" x2="392.94" y2="317.40" stroke="#111" stroke-width="0.70" />
<line x1="411.40" y1="315.70" x2="411.40" y2="317.40" stroke="#111" stroke-width="0.70" />
<text x="319.50" y="322.60" font-size="4.90" fill="#000" text-anchor="middle" font-weight="normal"  stroke="#000" stroke-width="0.17">25</text>
<text x="411.80" y="322.60" font-size="4.90" fill="#000" text-anchor="middle" font-weight="normal"  stroke="#000" stroke-width="0.17">45</text>
<text x="365.75" y="327.90" font-size="6.00" fill="#000" text-anchor="middle" font-weight="normal" textLength="64" lengthAdjust="spacingAndGlyphs" stroke="#000" stroke-width="0.21">Stimulation amplitude (mA)</text>
<line x1="320.70" y1="222.80" x2="329.00" y2="222.80" stroke="#bbb" stroke-width="0.70" />
<line x1="320.70" y1="229.30" x2="329.00" y2="229.30" stroke="#bbb" stroke-width="0.70" stroke-dasharray="1.8,0.8"/>
<text x="331.10" y="224.70" font-size="6.10" fill="#000" text-anchor="start" font-weight="normal" textLength="19.8" lengthAdjust="spacingAndGlyphs" stroke="#000" stroke-width="0.21">right leg</text>
<text x="331.10" y="231.00" font-size="6.10" fill="#000" text-anchor="start" font-weight="normal" textLength="16.7" lengthAdjust="spacingAndGlyphs" stroke="#000" stroke-width="0.21">left leg</text>
<path d="M343.00,305.00 C347.13,299.83 351.27,295.14 355.40,289.50 C358.60,285.14 361.80,279.88 365.00,275.00 C370.00,267.38 375.00,257.98 380.00,252.00 C385.53,245.38 391.07,242.54 396.60,237.20 C401.50,232.47 406.40,226.93 411.30,221.80" fill="none" stroke="#b8b8b8" stroke-width="0.90" stroke-dasharray="4,2.2"/>
<path d="M348.00,304.00 C352.00,300.00 356.00,298.33 360.00,292.00 C364.00,285.67 368.00,272.13 372.00,266.00 C378.00,256.80 384.00,252.11 390.00,246.00 C397.10,238.77 404.20,232.67 411.30,226.00" fill="none" stroke="#b8b8b8" stroke-width="0.90" stroke-dasharray="4,2.2"/>
<path d="M341.00,313.00 C346.67,306.33 352.33,302.32 358.00,293.00 C362.67,285.32 367.33,270.12 372.00,262.00 C376.33,254.46 380.67,250.33 385.00,246.00 C389.33,241.67 393.67,238.97 398.00,236.00 C402.43,232.97 406.87,230.67 411.30,228.00" fill="none" stroke="#aeaeae" stroke-width="0.80" />
<path d="M352.00,313.50 L366.00,296.00 L382.30,254.60 L401.40,246.70 L411.30,221.80" fill="none" stroke="#aeaeae" stroke-width="0.80" stroke-linejoin="round" />
<path d="M365.00,313.00 C370.00,308.67 375.00,305.83 380.00,300.00 C385.00,294.17 390.00,284.80 395.00,278.00 C400.30,270.80 405.60,264.67 410.90,258.00" fill="none" stroke="#b8b8b8" stroke-width="0.90" stroke-dasharray="4,2.2"/>
<path d="M338.00,313.00 C345.33,310.33 352.67,307.65 360.00,305.00 C368.33,301.99 376.67,298.92 385.00,296.00 C393.77,292.92 402.53,290.00 411.30,287.00" fill="none" stroke="#aeaeae" stroke-width="0.80" />
<path d="M352.00,313.00 C359.67,310.67 367.33,308.50 375.00,306.00 C381.67,303.83 388.33,301.75 395.00,299.00 C400.43,296.75 405.87,293.67 411.30,291.00" fill="none" stroke="#aeaeae" stroke-width="0.80" />
<path d="M368.00,313.00 C375.33,311.67 382.67,310.27 390.00,309.00 C397.10,307.77 404.20,306.67 411.30,305.50" fill="none" stroke="#b8b8b8" stroke-width="0.90" stroke-dasharray="4,2.2"/>
<path d="M378.00,313.00 C383.67,312.33 389.33,311.77 395.00,311.00 C400.43,310.27 405.87,309.33 411.30,308.50" fill="none" stroke="#b8b8b8" stroke-width="0.90" stroke-dasharray="4,2.2"/>
<path d="M319.10,313.50 L330.60,313.50 L340.40,308.30 L361.20,280.60 L380.90,229.00 L391.80,224.50 L401.70,221.80 L411.30,221.80" fill="none" stroke="#3dbd9b" stroke-width="1.20" stroke-linejoin="round" />
<path d="M319.10,313.50 L330.60,313.50 L340.00,307.00 L361.00,281.50 L380.90,232.00 L392.70,231.70 L401.70,222.70 L411.30,221.80" fill="none" stroke="#1a8fae" stroke-width="1.20" stroke-linejoin="round" />
<path d="M319.10,313.50 L332.00,313.50 L341.60,313.00 L360.00,281.80 L380.90,234.50 L393.60,229.90 L401.70,221.80 L411.30,221.80" fill="none" stroke="#c9c22a" stroke-width="1.20" stroke-linejoin="round" />
<text x="416.5" y="214.10" font-size="7.2" fill="#c2c2c2" stroke="#c2c2c2" stroke-width="0.12">MG<tspan font-size="4.4" dy="1.5">L</tspan></text>
<text x="416.5" y="221.80" font-size="7.2" fill="#c2c2c2" stroke="#c2c2c2" stroke-width="0.12">TA<tspan font-size="4.4" dy="1.5">L</tspan></text>
<text x="416.5" y="233.50" font-size="7.2" fill="#c2c2c2" stroke="#c2c2c2" stroke-width="0.12">ST<tspan font-size="4.4" dy="1.5">R</tspan></text>
<text x="416.5" y="243.00" font-size="7.2" fill="#c2c2c2" stroke="#c2c2c2" stroke-width="0.12">SL<tspan font-size="4.4" dy="1.5">L</tspan></text>
<text x="416.5" y="264.80" font-size="7.2" fill="#c2c2c2" stroke="#c2c2c2" stroke-width="0.12">ST<tspan font-size="4.4" dy="1.5">L</tspan></text>
<text x="416.5" y="287.40" font-size="7.2" fill="#c2c2c2" stroke="#c2c2c2" stroke-width="0.12">RF<tspan font-size="4.4" dy="1.5">R</tspan></text>
<text x="416.5" y="296.60" font-size="7.2" fill="#c2c2c2" stroke="#c2c2c2" stroke-width="0.12">VL<tspan font-size="4.4" dy="1.5">R</tspan></text>
<text x="416.5" y="305.10" font-size="7.2" fill="#c2c2c2" stroke="#c2c2c2" stroke-width="0.12">VL<tspan font-size="4.4" dy="1.5">L</tspan></text>
<text x="416.5" y="312.90" font-size="7.2" fill="#c2c2c2" stroke="#c2c2c2" stroke-width="0.12">RF<tspan font-size="4.4" dy="1.5">L</tspan></text>
<text x="374.5" y="224.1" font-size="7.0" fill="#3dbd9b" stroke="#3dbd9b" stroke-width="0.24">TA<tspan font-size="4" dy="1.4">R</tspan></text>
<text x="392.7" y="217.7" font-size="7.0" fill="#1a8fae" stroke="#1a8fae" stroke-width="0.24">MG<tspan font-size="4" dy="1.4">R</tspan></text>
<text x="364.0" y="236.6" font-size="7.0" fill="#c9c22a" stroke="#c9c22a" stroke-width="0.24">SL<tspan font-size="4" dy="1.4">R</tspan></text>
<text x="516.00" y="7.60" font-size="6.10" fill="#111" text-anchor="middle" font-weight="normal" textLength="76" lengthAdjust="spacingAndGlyphs" stroke="#111" stroke-width="0.21">normalized muscle recruitment</text>
<path d="M460.40,39.50 C462.10,39.50 463.80,32.55 465.50,29.00 C467.13,25.59 468.77,21.00 470.40,18.60 C471.27,17.33 472.13,18.13 473.00,18.00 C474.33,17.80 475.67,17.60 477.00,17.60 L477.00,39.50 L460.40,39.50 Z" fill="#e4e4e4"/>
<path d="M460.40,39.50 C462.10,39.50 463.80,32.55 465.50,29.00 C467.13,25.59 468.77,21.00 470.40,18.60 C471.27,17.33 472.13,18.13 473.00,18.00 C474.33,17.80 475.67,17.60 477.00,17.60" fill="none" stroke="#3dbd9b" stroke-width="0.90"/>
<path d="M454.30,17.20 V39.50 H477.00" fill="none" stroke="#111" stroke-width="0.90"/>
<path d="M510.40,39.50 C511.93,39.50 513.47,35.14 515.00,33.00 C516.33,31.14 517.67,29.19 519.00,27.50 C519.77,26.53 520.53,26.00 521.30,25.00 C522.20,23.83 523.10,22.23 524.00,21.00 C524.90,19.77 525.80,17.60 526.70,17.60 L526.70,39.50 L510.40,39.50 Z" fill="#e4e4e4"/>
<path d="M510.40,39.50 C511.93,39.50 513.47,35.14 515.00,33.00 C516.33,31.14 517.67,29.19 519.00,27.50 C519.77,26.53 520.53,26.00 521.30,25.00 C522.20,23.83 523.10,22.23 524.00,21.00 C524.90,19.77 525.80,17.60 526.70,17.60" fill="none" stroke="#1a8fae" stroke-width="0.90"/>
<path d="M503.80,17.20 V39.50 H526.70" fill="none" stroke="#111" stroke-width="0.90"/>
<path d="M561.20,39.50 C562.80,39.50 564.40,39.40 566.00,38.80 C567.33,38.30 568.67,37.33 570.00,36.20 C571.33,35.07 572.67,32.00 574.00,32.00 L574.00,39.50 L561.20,39.50 Z" fill="#e4e4e4"/>
<path d="M561.20,39.50 C562.80,39.50 564.40,39.40 566.00,38.80 C567.33,38.30 568.67,37.33 570.00,36.20 C571.33,35.07 572.67,32.00 574.00,32.00" fill="none" stroke="#c9c22a" stroke-width="0.90"/>
<path d="M551.00,17.20 V39.50 H574.00" fill="none" stroke="#111" stroke-width="0.90"/>
<text x="466.3" y="14.6" font-size="6.4" fill="#3dbd9b" text-anchor="middle" stroke="#3dbd9b" stroke-width="0.22">m<tspan font-size="3.9" dy="1.3">1</tspan></text>
<text x="514.3" y="14.6" font-size="6.4" fill="#1a8fae" text-anchor="middle" stroke="#1a8fae" stroke-width="0.22">m<tspan font-size="3.9" dy="1.3">2</tspan></text>
<text x="561.8" y="14.6" font-size="6.4" fill="#c9c22a" text-anchor="middle" stroke="#c9c22a" stroke-width="0.22">m<tspan font-size="3.9" dy="1.3">n</tspan></text>
<text x="466.00" y="44.8" font-size="4.6" fill="#999" text-anchor="middle" stroke="#999" stroke-width="0.08">AUC<tspan font-size="3.0" dy="1.1">1</tspan></text>
<text x="514.50" y="44.8" font-size="4.6" fill="#999" text-anchor="middle" stroke="#999" stroke-width="0.08">AUC<tspan font-size="3.0" dy="1.1">2</tspan></text>
<text x="562.50" y="44.8" font-size="4.6" fill="#999" text-anchor="middle" stroke="#999" stroke-width="0.08">AUC<tspan font-size="3.0" dy="1.1">n</tspan></text>
<circle cx="536.8" cy="28.3" r="0.45" fill="#444"/><circle cx="538.5" cy="28.3" r="0.45" fill="#444"/><circle cx="540.2" cy="28.3" r="0.45" fill="#444"/>
<path d="M486.9,42.2 Q483.6,47.6 487.0,52.3" fill="none" stroke="#111" stroke-width="0.9"/><path d="M485.6,51.2 L487.9,53.2 L486.9,50.6 Z" fill="#111"/>
<text x="515.70" y="59.10" font-size="6.10" fill="#111" text-anchor="middle" font-weight="normal" textLength="71.4" lengthAdjust="spacingAndGlyphs" stroke="#111" stroke-width="0.21">selectivity index computation</text>
<text x="465.2" y="78.2" font-size="7.4" fill="#3dbd9b" stroke="#3dbd9b" stroke-width="0.25">SI<tspan font-size="4.0" dy="1.5">m1</tspan></text>
<text x="481.30" y="78.20" font-size="6.00" fill="#111" text-anchor="middle" font-weight="normal"  stroke="#111" stroke-width="0.21">=</text>
<path d="M493.40,87.00 C494.93,87.00 496.47,79.71 498.00,76.00 C499.33,72.78 500.67,68.30 502.00,66.20 C503.00,64.63 504.00,65.19 505.00,65.00 C506.43,64.73 507.87,64.80 509.30,64.80 L509.30,87.00 L493.40,87.00 Z" fill="#e4e4e4"/>
<path d="M493.40,87.00 C494.93,87.00 496.47,79.71 498.00,76.00 C499.33,72.78 500.67,68.30 502.00,66.20 C503.00,64.63 504.00,65.19 505.00,65.00 C506.43,64.73 507.87,64.80 509.30,64.80" fill="none" stroke="#3dbd9b" stroke-width="0.90"/>
<path d="M487.30,64.60 V87.00 H509.30" fill="none" stroke="#111" stroke-width="0.90"/>
<text x="513.40" y="78.40" font-size="6.00" fill="#111" text-anchor="middle" font-weight="normal"  stroke="#111" stroke-width="0.21">-</text>
<path d="M521.80,72.60 C523.03,72.60 524.27,69.91 525.50,68.80 C526.83,67.60 528.17,66.20 529.50,65.00 L530.00,72.60 L521.80,72.60 Z" fill="#e4e4e4"/>
<path d="M521.80,72.60 C523.03,72.60 524.27,69.91 525.50,68.80 C526.83,67.60 528.17,66.20 529.50,65.00" fill="none" stroke="#1a8fae" stroke-width="0.80"/>
<path d="M520.40,64.60 V72.60 H530.00" fill="none" stroke="#111" stroke-width="0.90"/>
<text x="532.30" y="71.20" font-size="5.20" fill="#111" text-anchor="middle" font-weight="normal"  stroke="#111" stroke-width="0.18">+</text>
<path d="M538.20,72.60 C539.30,72.60 540.40,70.35 541.50,69.80 C542.93,69.08 544.37,68.30 545.80,68.30 L545.80,72.60 L538.20,72.60 Z" fill="#e4e4e4"/>
<path d="M538.20,72.60 C539.30,72.60 540.40,70.35 541.50,69.80 C542.93,69.08 544.37,68.30 545.80,68.30" fill="none" stroke="#2fb5df" stroke-width="0.80"/>
<path d="M536.20,64.60 V72.60 H545.80" fill="none" stroke="#111" stroke-width="0.90"/>
<text x="550.50" y="71.70" font-size="5.20" fill="#111" text-anchor="middle" font-weight="normal"  stroke="#111" stroke-width="0.18">+..</text>
<path d="M561.50,72.60 C562.43,72.60 563.37,72.17 564.30,71.80 C565.03,71.51 565.77,70.89 566.50,70.30 L566.50,72.60 L561.50,72.60 Z" fill="#e4e4e4"/>
<path d="M561.50,72.60 C562.43,72.60 563.37,72.17 564.30,71.80 C565.03,71.51 565.77,70.89 566.50,70.30" fill="none" stroke="#c9c22a" stroke-width="0.80"/>
<path d="M557.00,64.60 V72.60 H566.50" fill="none" stroke="#111" stroke-width="0.90"/>
<line x1="519.00" y1="76.80" x2="561.60" y2="76.80" stroke="#111" stroke-width="0.60" />
<text x="541.00" y="86.20" font-size="5.60" fill="#111" text-anchor="middle" font-weight="normal"  stroke="#111" stroke-width="0.19">N - 1</text>
<path d="M489.5,93.0 Q486.2,98.0 488.9,102.4" fill="none" stroke="#111" stroke-width="0.9"/><path d="M487.6,101.6 L489.8,103.6 L489.0,100.9 Z" fill="#111"/>
<text x="516.00" y="106.30" font-size="6.10" fill="#111" text-anchor="middle" font-weight="normal" textLength="40" lengthAdjust="spacingAndGlyphs" stroke="#111" stroke-width="0.21">selectivity index</text>
<path d="M459.00,111.00 H460.60 V143.80 H459.00" fill="none" stroke="#333" stroke-width="0.8"/>
<line x1="459.00" y1="128.00" x2="460.60" y2="128.00" stroke="#333" stroke-width="0.70" />
<text x="458.40" y="112.40" font-size="4.00" fill="#111" text-anchor="end" font-weight="normal"  stroke="#111" stroke-width="0.14">1</text>
<text x="458.40" y="129.40" font-size="4.00" fill="#111" text-anchor="end" font-weight="normal"  stroke="#111" stroke-width="0.14">0</text>
<text x="458.40" y="145.20" font-size="4.00" fill="#111" text-anchor="end" font-weight="normal"  stroke="#111" stroke-width="0.14">-1</text>
<text x="452.40" y="128.00" font-size="5.8" fill="#111" text-anchor="middle" transform="rotate(-90 452.40 128.00)" stroke="#111" stroke-width="0.20">SI</text>
<rect x="464.70" y="114.10" width="7.30" height="13.90" fill="#3dbd9b"/>
<text x="468.35" y="134.60" font-size="6.2" fill="#3dbd9b" text-anchor="middle" stroke="#3dbd9b" stroke-width="0.21">m<tspan font-size="3.8" dy="1.2">1</tspan></text>
<path d="M511.80,111.00 H513.40 V143.80 H511.80" fill="none" stroke="#333" stroke-width="0.8"/>
<line x1="511.80" y1="128.00" x2="513.40" y2="128.00" stroke="#333" stroke-width="0.70" />
<text x="511.20" y="112.40" font-size="4.00" fill="#111" text-anchor="end" font-weight="normal"  stroke="#111" stroke-width="0.14">1</text>
<text x="511.20" y="129.40" font-size="4.00" fill="#111" text-anchor="end" font-weight="normal"  stroke="#111" stroke-width="0.14">0</text>
<text x="511.20" y="145.20" font-size="4.00" fill="#111" text-anchor="end" font-weight="normal"  stroke="#111" stroke-width="0.14">-1</text>
<text x="505.20" y="128.00" font-size="5.8" fill="#111" text-anchor="middle" transform="rotate(-90 505.20 128.00)" stroke="#111" stroke-width="0.20">SI</text>
<rect x="517.80" y="120.70" width="7.20" height="7.30" fill="#1a8fae"/>
<text x="521.40" y="134.60" font-size="6.2" fill="#1a8fae" text-anchor="middle" stroke="#1a8fae" stroke-width="0.21">m<tspan font-size="3.8" dy="1.2">2</tspan></text>
<path d="M558.80,111.00 H560.40 V143.80 H558.80" fill="none" stroke="#333" stroke-width="0.8"/>
<line x1="558.80" y1="128.00" x2="560.40" y2="128.00" stroke="#333" stroke-width="0.70" />
<text x="558.20" y="112.40" font-size="4.00" fill="#111" text-anchor="end" font-weight="normal"  stroke="#111" stroke-width="0.14">1</text>
<text x="558.20" y="129.40" font-size="4.00" fill="#111" text-anchor="end" font-weight="normal"  stroke="#111" stroke-width="0.14">0</text>
<text x="558.20" y="145.20" font-size="4.00" fill="#111" text-anchor="end" font-weight="normal"  stroke="#111" stroke-width="0.14">-1</text>
<text x="552.20" y="128.00" font-size="5.8" fill="#111" text-anchor="middle" transform="rotate(-90 552.20 128.00)" stroke="#111" stroke-width="0.20">SI</text>
<rect x="564.50" y="128.00" width="7.30" height="12.20" fill="#c9c22a"/>
<text x="568.15" y="146.60" font-size="6.2" fill="#c9c22a" text-anchor="middle" stroke="#c9c22a" stroke-width="0.21">m<tspan font-size="3.8" dy="1.2">n</tspan></text>
<path d="M445.18,165.30 L466.77,165.30 Q467.45,169.56 467.23,171.69 L466.32,179.50 L444.50,179.50 L444.27,171.69 Q444.50,169.56 445.18,165.30 Z" fill="url(#torsog)"/>
<path d="M448.44,168.42 Q448.14,174.53 447.84,179.50 L449.74,179.50 Q449.04,174.53 448.64,168.42 Z" fill="#f6f6f6"/>
<path d="M463.29,168.42 Q463.59,174.53 463.89,179.50 L461.99,179.50 Q462.69,174.53 463.09,168.42 Z" fill="#f6f6f6"/>
<path d="M450.12,167.43 Q451.25,173.82 449.90,179.50 M461.38,167.43 Q460.25,173.82 461.60,179.50" fill="none" stroke="#c9c9c9" stroke-width="0.5"/>
<rect x="453.8" y="171.5" width="2.6" height="3.6" rx="0.6" fill="#7a40b8"/>
<path d="M447.25,241.30 L468.18,241.30 Q468.84,245.47 468.62,247.56 L467.75,255.20 L446.60,255.20 L446.38,247.56 Q446.60,245.47 447.25,241.30 Z" fill="url(#torsog)"/>
<path d="M450.42,244.36 Q450.12,250.34 449.81,255.20 L451.72,255.20 Q451.02,250.34 450.62,244.36 Z" fill="#f6f6f6"/>
<path d="M464.80,244.36 Q465.10,250.34 465.40,255.20 L463.50,255.20 Q464.20,250.34 464.60,244.36 Z" fill="#f6f6f6"/>
<path d="M452.05,243.39 Q453.14,249.64 451.83,255.20 M462.95,243.39 Q461.86,249.64 463.17,255.20" fill="none" stroke="#c9c9c9" stroke-width="0.5"/>
<circle cx="456.30" cy="245.50" r="0.7" fill="#888"/>
<circle cx="456.30" cy="247.70" r="0.7" fill="#888"/>
<circle cx="459.30" cy="245.50" r="0.7" fill="#888"/>
<circle cx="459.30" cy="247.70" r="0.7" fill="#888"/>
<circle cx="456.3" cy="249.9" r="0.7" fill="#888"/><circle cx="459.3" cy="249.9" r="0.9" fill="#5cc040"/>
<text x="520.90" y="172.20" font-size="7.10" fill="#111" text-anchor="middle" font-weight="normal" textLength="84.8" lengthAdjust="spacingAndGlyphs" stroke="#111" stroke-width="0.24">Conventional tSCS electrode</text>
<text x="521.95" y="247.20" font-size="7.10" fill="#111" text-anchor="middle" font-weight="normal" textLength="66.7" lengthAdjust="spacingAndGlyphs" stroke="#111" stroke-width="0.24">Right caudal electrode</text>
<path d="M471.70,181.80 V180.50 H486.15 M504.65,180.50 H521.40 V181.80" fill="none" stroke="#111" stroke-width="0.9"/>
<text x="495.40" y="182.50" font-size="6.40" fill="#111" text-anchor="middle" font-weight="normal" textLength="16.9" lengthAdjust="spacingAndGlyphs" stroke="#111" stroke-width="0.22">left leg</text>
<path d="M523.40,181.80 V180.50 H536.80 M558.20,180.50 H577.00 V181.80" fill="none" stroke="#111" stroke-width="0.9"/>
<text x="547.50" y="182.50" font-size="6.40" fill="#111" text-anchor="middle" font-weight="normal" textLength="19.8" lengthAdjust="spacingAndGlyphs" stroke="#111" stroke-width="0.22">right leg</text>
<path d="M471.20,259.80 V258.50 H486.45 M504.95,258.50 H522.00 V259.80" fill="none" stroke="#111" stroke-width="0.9"/>
<text x="495.70" y="260.50" font-size="6.40" fill="#111" text-anchor="middle" font-weight="normal" textLength="16.9" lengthAdjust="spacingAndGlyphs" stroke="#111" stroke-width="0.22">left leg</text>
<path d="M523.40,259.80 V258.50 H536.90 M558.30,258.50 H577.00 V259.80" fill="none" stroke="#111" stroke-width="0.9"/>
<text x="547.60" y="260.50" font-size="6.40" fill="#111" text-anchor="middle" font-weight="normal" textLength="19.8" lengthAdjust="spacingAndGlyphs" stroke="#111" stroke-width="0.22">right leg</text>
<line x1="467.00" y1="185.00" x2="467.00" y2="233.80" stroke="#222" stroke-width="0.80" />
<line x1="465.40" y1="185.00" x2="467.00" y2="185.00" stroke="#222" stroke-width="0.60" />
<text x="464.70" y="186.70" font-size="4.90" fill="#000" text-anchor="end" font-weight="normal"  stroke="#000" stroke-width="0.17">0.5</text>
<line x1="465.40" y1="210.20" x2="467.00" y2="210.20" stroke="#222" stroke-width="0.60" />
<text x="464.70" y="211.90" font-size="4.90" fill="#000" text-anchor="end" font-weight="normal"  stroke="#000" stroke-width="0.17">0</text>
<line x1="465.40" y1="233.80" x2="467.00" y2="233.80" stroke="#222" stroke-width="0.60" />
<text x="464.70" y="235.50" font-size="4.90" fill="#000" text-anchor="end" font-weight="normal"  stroke="#000" stroke-width="0.17">-0.5</text>
<text x="450.20" y="210.70" font-size="5.70" fill="#000" text-anchor="middle" font-weight="normal" transform="rotate(-90 450.2 210.70)" stroke="#000" stroke-width="0.20">Selectivity index (a.u.)</text>
<line x1="466.00" y1="272.50" x2="466.00" y2="315.50" stroke="#222" stroke-width="0.80" />
<line x1="464.40" y1="272.50" x2="466.00" y2="272.50" stroke="#222" stroke-width="0.60" />
<text x="463.70" y="274.20" font-size="4.90" fill="#000" text-anchor="end" font-weight="normal"  stroke="#000" stroke-width="0.17">0.5</text>
<line x1="464.40" y1="294.00" x2="466.00" y2="294.00" stroke="#222" stroke-width="0.60" />
<text x="463.70" y="295.70" font-size="4.90" fill="#000" text-anchor="end" font-weight="normal"  stroke="#000" stroke-width="0.17">0</text>
<line x1="464.40" y1="315.50" x2="466.00" y2="315.50" stroke="#222" stroke-width="0.60" />
<text x="463.70" y="317.20" font-size="4.90" fill="#000" text-anchor="end" font-weight="normal"  stroke="#000" stroke-width="0.17">-0.5</text>
<text x="450.20" y="294.50" font-size="5.70" fill="#000" text-anchor="middle" font-weight="normal" transform="rotate(-90 450.2 294.50)" stroke="#000" stroke-width="0.20">Selectivity index (a.u.)</text>
<rect x="471.70" y="210.20" width="7.10" height="9.80" fill="#c9bb2e"/>
<rect x="480.30" y="210.20" width="7.30" height="12.20" fill="#1b8c9b"/>
<rect x="488.90" y="210.20" width="7.10" height="0.80" fill="#3dbd9b"/>
<rect x="497.50" y="207.10" width="7.30" height="3.10" fill="#8fd0f2"/>
<rect x="506.10" y="191.30" width="6.70" height="18.90" fill="#2ec1e3"/>
<rect x="514.40" y="204.10" width="7.20" height="6.10" fill="#3b70c3"/>
<rect x="525.00" y="207.10" width="7.30" height="3.10" fill="#3b70c3"/>
<rect x="533.90" y="200.80" width="6.90" height="9.40" fill="#2ec1e3"/>
<rect x="542.50" y="210.20" width="6.70" height="1.70" fill="#8fd0f2"/>
<rect x="551.10" y="210.20" width="6.90" height="7.80" fill="#3dbd9b"/>
<rect x="559.50" y="210.20" width="6.90" height="2.10" fill="#1b8c9b"/>
<rect x="567.90" y="210.20" width="7.60" height="7.80" fill="#c9bb2e"/>
<rect x="471.80" y="279.00" width="7.20" height="15.00" fill="#c9bb2e"/>
<rect x="480.50" y="288.60" width="7.30" height="5.40" fill="#1b8c9b"/>
<rect x="489.20" y="288.00" width="7.20" height="6.00" fill="#3dbd9b"/>
<rect x="497.90" y="294.00" width="6.70" height="23.00" fill="#8fd0f2"/>
<rect x="506.00" y="294.00" width="7.30" height="16.40" fill="#2ec1e3"/>
<rect x="514.70" y="294.00" width="7.30" height="24.50" fill="#3b70c3"/>
<rect x="525.70" y="294.00" width="7.00" height="18.70" fill="#3b70c3"/>
<rect x="534.10" y="287.80" width="6.70" height="6.20" fill="#2ec1e3"/>
<rect x="542.80" y="294.00" width="6.70" height="16.40" fill="#8fd0f2"/>
<rect x="551.00" y="270.40" width="7.20" height="23.60" fill="#3dbd9b"/>
<rect x="559.60" y="272.10" width="7.30" height="21.90" fill="#1b8c9b"/>
<rect x="568.30" y="272.70" width="7.20" height="21.30" fill="#c9bb2e"/>
<text x="475.50" y="327.80" font-size="6.80" fill="#c9bb2e" text-anchor="middle" font-weight="normal"  stroke="#c9bb2e" stroke-width="0.23">SL</text>
<text x="492.50" y="327.80" font-size="6.80" fill="#3dbd9b" text-anchor="middle" font-weight="normal"  stroke="#3dbd9b" stroke-width="0.23">TA</text>
<text x="509.80" y="327.80" font-size="6.80" fill="#2ec1e3" text-anchor="middle" font-weight="normal"  stroke="#2ec1e3" stroke-width="0.23">ST</text>
<text x="528.80" y="327.80" font-size="6.80" fill="#3b70c3" text-anchor="middle" font-weight="normal"  stroke="#3b70c3" stroke-width="0.23">RF</text>
<text x="546.00" y="327.80" font-size="6.80" fill="#8fd0f2" text-anchor="middle" font-weight="normal"  stroke="#8fd0f2" stroke-width="0.23">VL</text>
<text x="563.50" y="327.80" font-size="6.80" fill="#1b8c9b" text-anchor="middle" font-weight="normal"  stroke="#1b8c9b" stroke-width="0.23">MG</text>
</svg></body></html>
